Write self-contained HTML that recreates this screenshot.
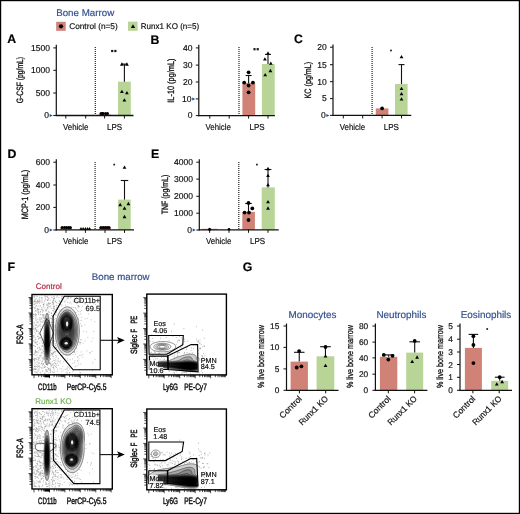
<!DOCTYPE html>
<html><head><meta charset="utf-8"><style>
html,body{margin:0;padding:0;background:#fff;}
svg{display:block;will-change:transform;}
text{font-family:"Liberation Sans", sans-serif;text-rendering:geometricPrecision;}
svg{-webkit-font-smoothing:antialiased;}
</style></head><body>
<svg width="520" height="514" viewBox="0 0 520 514">
<rect x="0" y="0" width="520" height="514" fill="#fff"/>
<text x="56.20" y="15.80" font-size="9.7" fill="#34508f" text-anchor="start" stroke="#34508f" stroke-width="0.18" textLength="58" lengthAdjust="spacingAndGlyphs" >Bone Marrow</text>
<rect x="56.20" y="21.80" width="9.50" height="9.00" fill="#cf8275" />
<circle cx="61.00" cy="26.30" r="2.1" fill="#000"/>
<text x="69.20" y="29.20" font-size="8.3" fill="#111" text-anchor="start" stroke="#111" stroke-width="0.18" textLength="48.5" lengthAdjust="spacingAndGlyphs" >Control (n=5)</text>
<rect x="128.00" y="21.60" width="9.60" height="9.20" fill="#b8d497" />
<path d="M130.85 28.07L135.15 28.07L133.00 24.33Z" fill="#000"/>
<text x="140.80" y="29.20" font-size="8.3" fill="#111" text-anchor="start" stroke="#111" stroke-width="0.18" textLength="58.4" lengthAdjust="spacingAndGlyphs" >Runx1 KO (n=5)</text>
<text x="7.20" y="43.00" font-size="12.3" fill="#000" text-anchor="start" stroke="#000" stroke-width="0.18" font-weight="bold" >A</text>
<text x="150.60" y="43.50" font-size="12.3" fill="#000" text-anchor="start" stroke="#000" stroke-width="0.18" font-weight="bold" >B</text>
<text x="294.00" y="43.30" font-size="12.3" fill="#000" text-anchor="start" stroke="#000" stroke-width="0.18" font-weight="bold" >C</text>
<text x="7.60" y="157.70" font-size="12.3" fill="#000" text-anchor="start" stroke="#000" stroke-width="0.18" font-weight="bold" >D</text>
<text x="151.00" y="157.70" font-size="12.3" fill="#000" text-anchor="start" stroke="#000" stroke-width="0.18" font-weight="bold" >E</text>
<text x="7.60" y="271.10" font-size="12.3" fill="#000" text-anchor="start" stroke="#000" stroke-width="0.18" font-weight="bold" >F</text>
<text x="242.80" y="271.40" font-size="12.3" fill="#000" text-anchor="start" stroke="#000" stroke-width="0.18" font-weight="bold" >G</text>
<rect x="98.20" y="114.50" width="12.80" height="1.00" fill="#cf8275" />
<rect x="118.00" y="81.70" width="12.80" height="33.80" fill="#b8d497" />
<line x1="124.40" y1="81.70" x2="124.40" y2="64.10" stroke="#111" stroke-width="1.1" />
<line x1="121.40" y1="64.10" x2="127.40" y2="64.10" stroke="#111" stroke-width="1.1" />
<line x1="56.30" y1="44.80" x2="56.30" y2="116.10" stroke="#111" stroke-width="1.2" />
<line x1="55.70" y1="115.50" x2="133.50" y2="115.50" stroke="#111" stroke-width="1.3" />
<line x1="53.30" y1="115.50" x2="56.30" y2="115.50" stroke="#111" stroke-width="1.0" />
<text x="49.10" y="118.30" font-size="8.6" fill="#111" text-anchor="end" stroke="#111" stroke-width="0.18" textLength="4.75" lengthAdjust="spacingAndGlyphs" >0</text>
<line x1="53.30" y1="93.00" x2="56.30" y2="93.00" stroke="#111" stroke-width="1.0" />
<text x="50.00" y="95.80" font-size="8.6" fill="#111" text-anchor="end" stroke="#111" stroke-width="0.18" textLength="14.25" lengthAdjust="spacingAndGlyphs" >500</text>
<line x1="53.30" y1="70.30" x2="56.30" y2="70.30" stroke="#111" stroke-width="1.0" />
<text x="50.00" y="73.10" font-size="8.6" fill="#111" text-anchor="end" stroke="#111" stroke-width="0.18" textLength="19.0" lengthAdjust="spacingAndGlyphs" >1000</text>
<line x1="53.30" y1="47.90" x2="56.30" y2="47.90" stroke="#111" stroke-width="1.0" />
<text x="50.00" y="50.70" font-size="8.6" fill="#111" text-anchor="end" stroke="#111" stroke-width="0.18" textLength="19.0" lengthAdjust="spacingAndGlyphs" >1500</text>
<line x1="65.80" y1="115.50" x2="65.80" y2="118.50" stroke="#111" stroke-width="1.0" />
<line x1="85.70" y1="115.50" x2="85.70" y2="118.50" stroke="#111" stroke-width="1.0" />
<line x1="104.60" y1="115.50" x2="104.60" y2="118.50" stroke="#111" stroke-width="1.0" />
<line x1="124.40" y1="115.50" x2="124.40" y2="118.50" stroke="#111" stroke-width="1.0" />
<line x1="95.30" y1="47.00" x2="95.30" y2="115.50" stroke="#222" stroke-width="1.2" stroke-dasharray="1 1"/>
<path d="M49.70 114.00L52.70 115.50L49.70 117.00Z" fill="#24479a"/>
<circle cx="101.00" cy="113.60" r="1.5" fill="#000"/>
<circle cx="103.00" cy="113.60" r="1.5" fill="#000"/>
<circle cx="105.50" cy="113.60" r="1.5" fill="#000"/>
<circle cx="107.50" cy="113.60" r="1.5" fill="#000"/>
<circle cx="102.50" cy="113.60" r="1.5" fill="#000"/>
<path d="M120.00 65.65L123.80 65.65L121.90 62.35Z" fill="#000"/>
<path d="M125.00 65.65L128.80 65.65L126.90 62.35Z" fill="#000"/>
<path d="M120.00 92.95L123.80 92.95L121.90 89.65Z" fill="#000"/>
<path d="M125.00 94.25L128.80 94.25L126.90 90.95Z" fill="#000"/>
<path d="M122.50 101.55L126.30 101.55L124.40 98.25Z" fill="#000"/>
<rect x="111.10" y="49.90" width="2.2" height="2.2" fill="#1a1a1a"/>
<rect x="114.30" y="49.90" width="2.2" height="2.2" fill="#1a1a1a"/>
<text x="75.70" y="129.80" font-size="8.7" fill="#111" text-anchor="middle" stroke="#111" stroke-width="0.18" textLength="25.4" lengthAdjust="spacingAndGlyphs" >Vehicle</text>
<text x="114.60" y="129.80" font-size="8.7" fill="#111" text-anchor="middle" stroke="#111" stroke-width="0.18" textLength="15.2" lengthAdjust="spacingAndGlyphs" >LPS</text>
<text x="23.50" y="80.10" font-size="9.2" fill="#111" text-anchor="middle" stroke="#111" stroke-width="0.3" textLength="46.4" lengthAdjust="spacingAndGlyphs" transform="rotate(-90 23.50 80.10)" >G-CSF (pg/mL)</text>
<rect x="242.40" y="82.90" width="12.80" height="32.70" fill="#cf8275" />
<rect x="261.90" y="64.00" width="12.80" height="51.60" fill="#b8d497" />
<line x1="248.60" y1="82.90" x2="248.60" y2="75.50" stroke="#111" stroke-width="1.1" />
<line x1="245.60" y1="75.50" x2="251.60" y2="75.50" stroke="#111" stroke-width="1.1" />
<line x1="268.00" y1="64.00" x2="268.00" y2="54.40" stroke="#111" stroke-width="1.1" />
<line x1="265.00" y1="54.40" x2="271.00" y2="54.40" stroke="#111" stroke-width="1.1" />
<line x1="198.80" y1="44.80" x2="198.80" y2="116.20" stroke="#111" stroke-width="1.2" />
<line x1="198.20" y1="115.60" x2="274.90" y2="115.60" stroke="#111" stroke-width="1.3" />
<line x1="195.80" y1="115.60" x2="198.80" y2="115.60" stroke="#111" stroke-width="1.0" />
<text x="192.50" y="118.40" font-size="8.6" fill="#111" text-anchor="end" stroke="#111" stroke-width="0.18" textLength="4.75" lengthAdjust="spacingAndGlyphs" >0</text>
<line x1="195.80" y1="98.90" x2="198.80" y2="98.90" stroke="#111" stroke-width="1.0" />
<text x="191.60" y="101.70" font-size="8.6" fill="#111" text-anchor="end" stroke="#111" stroke-width="0.18" textLength="9.5" lengthAdjust="spacingAndGlyphs" >10</text>
<line x1="195.80" y1="82.00" x2="198.80" y2="82.00" stroke="#111" stroke-width="1.0" />
<text x="192.50" y="84.80" font-size="8.6" fill="#111" text-anchor="end" stroke="#111" stroke-width="0.18" textLength="9.5" lengthAdjust="spacingAndGlyphs" >20</text>
<line x1="195.80" y1="65.10" x2="198.80" y2="65.10" stroke="#111" stroke-width="1.0" />
<text x="192.50" y="67.90" font-size="8.6" fill="#111" text-anchor="end" stroke="#111" stroke-width="0.18" textLength="9.5" lengthAdjust="spacingAndGlyphs" >30</text>
<line x1="195.80" y1="47.90" x2="198.80" y2="47.90" stroke="#111" stroke-width="1.0" />
<text x="192.50" y="50.70" font-size="8.6" fill="#111" text-anchor="end" stroke="#111" stroke-width="0.18" textLength="9.5" lengthAdjust="spacingAndGlyphs" >40</text>
<line x1="209.80" y1="115.60" x2="209.80" y2="118.60" stroke="#111" stroke-width="1.0" />
<line x1="229.20" y1="115.60" x2="229.20" y2="118.60" stroke="#111" stroke-width="1.0" />
<line x1="248.60" y1="115.60" x2="248.60" y2="118.60" stroke="#111" stroke-width="1.0" />
<line x1="268.00" y1="115.60" x2="268.00" y2="118.60" stroke="#111" stroke-width="1.0" />
<line x1="239.00" y1="47.00" x2="239.00" y2="115.60" stroke="#222" stroke-width="1.2" stroke-dasharray="1 1"/>
<path d="M192.20 97.40L195.20 98.90L192.20 100.40Z" fill="#24479a"/>
<circle cx="248.60" cy="72.30" r="1.9" fill="#000"/>
<circle cx="244.20" cy="82.60" r="1.9" fill="#000"/>
<circle cx="252.90" cy="82.60" r="1.9" fill="#000"/>
<circle cx="248.60" cy="85.50" r="1.9" fill="#000"/>
<circle cx="248.60" cy="92.30" r="1.9" fill="#000"/>
<path d="M266.10 54.65L269.90 54.65L268.00 51.35Z" fill="#000"/>
<path d="M263.00 60.55L266.80 60.55L264.90 57.25Z" fill="#000"/>
<path d="M268.90 64.75L272.70 64.75L270.80 61.45Z" fill="#000"/>
<path d="M268.50 72.15L272.30 72.15L270.40 68.85Z" fill="#000"/>
<path d="M263.30 76.35L267.10 76.35L265.20 73.05Z" fill="#000"/>
<rect x="253.40" y="48.10" width="2.2" height="2.2" fill="#1a1a1a"/>
<rect x="256.60" y="48.10" width="2.2" height="2.2" fill="#1a1a1a"/>
<text x="218.20" y="129.90" font-size="8.7" fill="#111" text-anchor="middle" stroke="#111" stroke-width="0.18" textLength="25.4" lengthAdjust="spacingAndGlyphs" >Vehicle</text>
<text x="257.10" y="129.90" font-size="8.7" fill="#111" text-anchor="middle" stroke="#111" stroke-width="0.18" textLength="15.2" lengthAdjust="spacingAndGlyphs" >LPS</text>
<text x="173.70" y="80.60" font-size="9.2" fill="#111" text-anchor="middle" stroke="#111" stroke-width="0.3" textLength="44.2" lengthAdjust="spacingAndGlyphs" transform="rotate(-90 173.70 80.60)" >IL-10 (pg/mL)</text>
<rect x="375.80" y="108.40" width="12.60" height="7.00" fill="#cf8275" />
<rect x="395.00" y="84.00" width="12.60" height="31.40" fill="#b8d497" />
<line x1="401.50" y1="84.00" x2="401.50" y2="64.60" stroke="#111" stroke-width="1.1" />
<line x1="398.50" y1="64.60" x2="404.50" y2="64.60" stroke="#111" stroke-width="1.1" />
<line x1="333.00" y1="44.60" x2="333.00" y2="116.00" stroke="#111" stroke-width="1.2" />
<line x1="332.40" y1="115.40" x2="411.30" y2="115.40" stroke="#111" stroke-width="1.3" />
<line x1="330.00" y1="115.40" x2="333.00" y2="115.40" stroke="#111" stroke-width="1.0" />
<text x="325.80" y="118.20" font-size="8.6" fill="#111" text-anchor="end" stroke="#111" stroke-width="0.18" textLength="4.75" lengthAdjust="spacingAndGlyphs" >0</text>
<line x1="330.00" y1="98.60" x2="333.00" y2="98.60" stroke="#111" stroke-width="1.0" />
<text x="326.70" y="101.40" font-size="8.6" fill="#111" text-anchor="end" stroke="#111" stroke-width="0.18" textLength="4.75" lengthAdjust="spacingAndGlyphs" >5</text>
<line x1="330.00" y1="81.70" x2="333.00" y2="81.70" stroke="#111" stroke-width="1.0" />
<text x="326.70" y="84.50" font-size="8.6" fill="#111" text-anchor="end" stroke="#111" stroke-width="0.18" textLength="9.5" lengthAdjust="spacingAndGlyphs" >10</text>
<line x1="330.00" y1="64.70" x2="333.00" y2="64.70" stroke="#111" stroke-width="1.0" />
<text x="326.70" y="67.50" font-size="8.6" fill="#111" text-anchor="end" stroke="#111" stroke-width="0.18" textLength="9.5" lengthAdjust="spacingAndGlyphs" >15</text>
<line x1="330.00" y1="47.20" x2="333.00" y2="47.20" stroke="#111" stroke-width="1.0" />
<text x="326.70" y="50.00" font-size="8.6" fill="#111" text-anchor="end" stroke="#111" stroke-width="0.18" textLength="9.5" lengthAdjust="spacingAndGlyphs" >20</text>
<line x1="343.30" y1="115.40" x2="343.30" y2="118.40" stroke="#111" stroke-width="1.0" />
<line x1="362.70" y1="115.40" x2="362.70" y2="118.40" stroke="#111" stroke-width="1.0" />
<line x1="382.10" y1="115.40" x2="382.10" y2="118.40" stroke="#111" stroke-width="1.0" />
<line x1="401.50" y1="115.40" x2="401.50" y2="118.40" stroke="#111" stroke-width="1.0" />
<line x1="372.10" y1="47.00" x2="372.10" y2="115.40" stroke="#222" stroke-width="1.2" stroke-dasharray="1 1"/>
<path d="M326.40 113.90L329.40 115.40L326.40 116.90Z" fill="#24479a"/>
<circle cx="382.10" cy="108.40" r="1.9" fill="#000"/>
<path d="M399.60 58.25L403.40 58.25L401.50 54.95Z" fill="#000"/>
<path d="M399.60 90.05L403.40 90.05L401.50 86.75Z" fill="#000"/>
<path d="M399.60 95.25L403.40 95.25L401.50 91.95Z" fill="#000"/>
<path d="M399.60 100.45L403.40 100.45L401.50 97.15Z" fill="#000"/>
<rect x="390.15" y="49.65" width="1.7" height="1.7" fill="#1a1a1a"/>
<text x="352.40" y="129.70" font-size="8.7" fill="#111" text-anchor="middle" stroke="#111" stroke-width="0.18" textLength="25.4" lengthAdjust="spacingAndGlyphs" >Vehicle</text>
<text x="391.30" y="129.70" font-size="8.7" fill="#111" text-anchor="middle" stroke="#111" stroke-width="0.18" textLength="15.2" lengthAdjust="spacingAndGlyphs" >LPS</text>
<text x="311.00" y="80.10" font-size="9.2" fill="#111" text-anchor="middle" stroke="#111" stroke-width="0.3" textLength="36.6" lengthAdjust="spacingAndGlyphs" transform="rotate(-90 311.00 80.10)" >KC (pg/mL)</text>
<rect x="60.20" y="227.20" width="11.80" height="2.70" fill="#cf8275" />
<rect x="79.50" y="228.40" width="11.50" height="1.50" fill="#b8d497" />
<rect x="99.00" y="227.00" width="12.00" height="2.90" fill="#cf8275" />
<rect x="118.10" y="199.60" width="12.60" height="30.30" fill="#b8d497" />
<line x1="124.50" y1="199.60" x2="124.50" y2="180.50" stroke="#111" stroke-width="1.1" />
<line x1="120.75" y1="180.50" x2="128.25" y2="180.50" stroke="#111" stroke-width="1.1" />
<line x1="56.30" y1="159.20" x2="56.30" y2="230.50" stroke="#111" stroke-width="1.2" />
<line x1="55.70" y1="229.90" x2="134.00" y2="229.90" stroke="#111" stroke-width="1.3" />
<line x1="53.30" y1="230.00" x2="56.30" y2="230.00" stroke="#111" stroke-width="1.0" />
<text x="49.10" y="232.80" font-size="8.6" fill="#111" text-anchor="end" stroke="#111" stroke-width="0.18" textLength="4.75" lengthAdjust="spacingAndGlyphs" >0</text>
<line x1="53.30" y1="207.40" x2="56.30" y2="207.40" stroke="#111" stroke-width="1.0" />
<text x="50.00" y="210.20" font-size="8.6" fill="#111" text-anchor="end" stroke="#111" stroke-width="0.18" textLength="14.25" lengthAdjust="spacingAndGlyphs" >200</text>
<line x1="53.30" y1="185.00" x2="56.30" y2="185.00" stroke="#111" stroke-width="1.0" />
<text x="50.00" y="187.80" font-size="8.6" fill="#111" text-anchor="end" stroke="#111" stroke-width="0.18" textLength="14.25" lengthAdjust="spacingAndGlyphs" >400</text>
<line x1="53.30" y1="162.20" x2="56.30" y2="162.20" stroke="#111" stroke-width="1.0" />
<text x="50.00" y="165.00" font-size="8.6" fill="#111" text-anchor="end" stroke="#111" stroke-width="0.18" textLength="14.25" lengthAdjust="spacingAndGlyphs" >600</text>
<line x1="66.00" y1="229.90" x2="66.00" y2="232.90" stroke="#111" stroke-width="1.0" />
<line x1="85.40" y1="229.90" x2="85.40" y2="232.90" stroke="#111" stroke-width="1.0" />
<line x1="105.00" y1="229.90" x2="105.00" y2="232.90" stroke="#111" stroke-width="1.0" />
<line x1="124.50" y1="229.90" x2="124.50" y2="232.90" stroke="#111" stroke-width="1.0" />
<line x1="95.10" y1="162.00" x2="95.10" y2="229.90" stroke="#222" stroke-width="1.2" stroke-dasharray="1 1"/>
<path d="M49.70 228.50L52.70 230.00L49.70 231.50Z" fill="#24479a"/>
<circle cx="62.20" cy="227.60" r="1.5" fill="#000"/>
<circle cx="64.50" cy="227.60" r="1.5" fill="#000"/>
<circle cx="66.50" cy="227.60" r="1.5" fill="#000"/>
<circle cx="68.50" cy="227.60" r="1.5" fill="#000"/>
<circle cx="70.30" cy="227.60" r="1.5" fill="#000"/>
<path d="M79.50 229.71L82.50 229.71L81.00 227.09Z" fill="#000"/>
<path d="M81.70 229.71L84.70 229.71L83.20 227.09Z" fill="#000"/>
<path d="M83.90 229.71L86.90 229.71L85.40 227.09Z" fill="#000"/>
<path d="M86.10 229.71L89.10 229.71L87.60 227.09Z" fill="#000"/>
<path d="M88.10 229.71L91.10 229.71L89.60 227.09Z" fill="#000"/>
<circle cx="101.00" cy="227.40" r="1.5" fill="#000"/>
<circle cx="103.20" cy="227.40" r="1.5" fill="#000"/>
<circle cx="105.20" cy="227.40" r="1.5" fill="#000"/>
<circle cx="107.20" cy="227.40" r="1.5" fill="#000"/>
<circle cx="109.00" cy="227.40" r="1.5" fill="#000"/>
<path d="M122.60 168.75L126.40 168.75L124.50 165.45Z" fill="#000"/>
<path d="M118.30 206.15L122.10 206.15L120.20 202.85Z" fill="#000"/>
<path d="M126.50 205.15L130.30 205.15L128.40 201.85Z" fill="#000"/>
<path d="M122.60 209.65L126.40 209.65L124.50 206.35Z" fill="#000"/>
<path d="M122.60 218.15L126.40 218.15L124.50 214.85Z" fill="#000"/>
<rect x="113.35" y="163.75" width="1.7" height="1.7" fill="#1a1a1a"/>
<text x="75.70" y="244.20" font-size="8.7" fill="#111" text-anchor="middle" stroke="#111" stroke-width="0.18" textLength="25.4" lengthAdjust="spacingAndGlyphs" >Vehicle</text>
<text x="114.60" y="244.20" font-size="8.7" fill="#111" text-anchor="middle" stroke="#111" stroke-width="0.18" textLength="15.2" lengthAdjust="spacingAndGlyphs" >LPS</text>
<text x="27.90" y="194.50" font-size="9.2" fill="#111" text-anchor="middle" stroke="#111" stroke-width="0.3" textLength="49.6" lengthAdjust="spacingAndGlyphs" transform="rotate(-90 27.90 194.50)" >MCP-1 (pg/mL)</text>
<rect x="201.80" y="228.80" width="15.60" height="1.00" fill="#cf8275" />
<rect x="242.30" y="211.90" width="12.60" height="17.90" fill="#cf8275" />
<rect x="261.70" y="187.40" width="13.10" height="42.40" fill="#b8d497" />
<line x1="248.50" y1="211.90" x2="248.50" y2="203.50" stroke="#111" stroke-width="1.1" />
<line x1="245.20" y1="203.50" x2="251.80" y2="203.50" stroke="#111" stroke-width="1.1" />
<line x1="268.00" y1="187.40" x2="268.00" y2="169.50" stroke="#111" stroke-width="1.1" />
<line x1="264.60" y1="169.50" x2="271.40" y2="169.50" stroke="#111" stroke-width="1.1" />
<line x1="199.30" y1="159.20" x2="199.30" y2="230.40" stroke="#111" stroke-width="1.2" />
<line x1="198.70" y1="229.80" x2="278.70" y2="229.80" stroke="#111" stroke-width="1.3" />
<line x1="196.30" y1="230.00" x2="199.30" y2="230.00" stroke="#111" stroke-width="1.0" />
<text x="192.10" y="232.80" font-size="8.6" fill="#111" text-anchor="end" stroke="#111" stroke-width="0.18" textLength="4.75" lengthAdjust="spacingAndGlyphs" >0</text>
<line x1="196.30" y1="213.20" x2="199.30" y2="213.20" stroke="#111" stroke-width="1.0" />
<text x="193.00" y="216.00" font-size="8.6" fill="#111" text-anchor="end" stroke="#111" stroke-width="0.18" textLength="19.0" lengthAdjust="spacingAndGlyphs" >1000</text>
<line x1="196.30" y1="196.30" x2="199.30" y2="196.30" stroke="#111" stroke-width="1.0" />
<text x="193.00" y="199.10" font-size="8.6" fill="#111" text-anchor="end" stroke="#111" stroke-width="0.18" textLength="19.0" lengthAdjust="spacingAndGlyphs" >2000</text>
<line x1="196.30" y1="179.10" x2="199.30" y2="179.10" stroke="#111" stroke-width="1.0" />
<text x="193.00" y="181.90" font-size="8.6" fill="#111" text-anchor="end" stroke="#111" stroke-width="0.18" textLength="19.0" lengthAdjust="spacingAndGlyphs" >3000</text>
<line x1="196.30" y1="162.20" x2="199.30" y2="162.20" stroke="#111" stroke-width="1.0" />
<text x="193.00" y="165.00" font-size="8.6" fill="#111" text-anchor="end" stroke="#111" stroke-width="0.18" textLength="19.0" lengthAdjust="spacingAndGlyphs" >4000</text>
<line x1="209.60" y1="229.80" x2="209.60" y2="232.80" stroke="#111" stroke-width="1.0" />
<line x1="229.00" y1="229.80" x2="229.00" y2="232.80" stroke="#111" stroke-width="1.0" />
<line x1="248.50" y1="229.80" x2="248.50" y2="232.80" stroke="#111" stroke-width="1.0" />
<line x1="268.00" y1="229.80" x2="268.00" y2="232.80" stroke="#111" stroke-width="1.0" />
<line x1="238.80" y1="162.00" x2="238.80" y2="229.80" stroke="#222" stroke-width="1.2" stroke-dasharray="1 1"/>
<path d="M192.70 228.50L195.70 230.00L192.70 231.50Z" fill="#24479a"/>
<circle cx="209.60" cy="229.30" r="1.5" fill="#000"/>
<circle cx="229.00" cy="229.30" r="1.3" fill="#000"/>
<circle cx="248.50" cy="202.90" r="1.9" fill="#000"/>
<circle cx="252.30" cy="208.40" r="1.9" fill="#000"/>
<circle cx="244.60" cy="212.60" r="1.9" fill="#000"/>
<circle cx="249.00" cy="212.60" r="1.9" fill="#000"/>
<circle cx="248.50" cy="220.00" r="1.9" fill="#000"/>
<path d="M266.10 170.15L269.90 170.15L268.00 166.85Z" fill="#000"/>
<path d="M266.10 176.95L269.90 176.95L268.00 173.65Z" fill="#000"/>
<path d="M266.10 186.25L269.90 186.25L268.00 182.95Z" fill="#000"/>
<path d="M266.10 203.25L269.90 203.25L268.00 199.95Z" fill="#000"/>
<path d="M266.10 209.65L269.90 209.65L268.00 206.35Z" fill="#000"/>
<rect x="256.05" y="163.75" width="1.7" height="1.7" fill="#1a1a1a"/>
<text x="218.70" y="244.10" font-size="8.7" fill="#111" text-anchor="middle" stroke="#111" stroke-width="0.18" textLength="25.4" lengthAdjust="spacingAndGlyphs" >Vehicle</text>
<text x="257.60" y="244.10" font-size="8.7" fill="#111" text-anchor="middle" stroke="#111" stroke-width="0.18" textLength="15.2" lengthAdjust="spacingAndGlyphs" >LPS</text>
<text x="167.60" y="194.50" font-size="9.2" fill="#111" text-anchor="middle" stroke="#111" stroke-width="0.3" textLength="39.5" lengthAdjust="spacingAndGlyphs" transform="rotate(-90 167.60 194.50)" >TNF (pg/mL)</text>
<rect x="290.60" y="361.60" width="17.30" height="28.70" fill="#cf8275" />
<rect x="316.60" y="356.30" width="17.70" height="34.00" fill="#b8d497" />
<line x1="299.25" y1="361.60" x2="299.25" y2="352.30" stroke="#111" stroke-width="1.1" />
<line x1="294.00" y1="352.30" x2="304.50" y2="352.30" stroke="#111" stroke-width="1.1" />
<line x1="325.45" y1="356.30" x2="325.45" y2="346.70" stroke="#111" stroke-width="1.1" />
<line x1="320.15" y1="346.70" x2="330.75" y2="346.70" stroke="#111" stroke-width="1.1" />
<line x1="286.50" y1="323.50" x2="286.50" y2="390.90" stroke="#111" stroke-width="1.2" />
<line x1="285.90" y1="390.30" x2="338.50" y2="390.30" stroke="#111" stroke-width="1.3" />
<line x1="283.50" y1="390.30" x2="286.50" y2="390.30" stroke="#111" stroke-width="1.0" />
<text x="279.30" y="393.30" font-size="8.3" fill="#111" text-anchor="end" stroke="#111" stroke-width="0.18" >0</text>
<line x1="283.50" y1="368.90" x2="286.50" y2="368.90" stroke="#111" stroke-width="1.0" />
<text x="279.30" y="371.90" font-size="8.3" fill="#111" text-anchor="end" stroke="#111" stroke-width="0.18" >5</text>
<line x1="283.50" y1="347.40" x2="286.50" y2="347.40" stroke="#111" stroke-width="1.0" />
<text x="279.30" y="350.40" font-size="8.3" fill="#111" text-anchor="end" stroke="#111" stroke-width="0.18" >10</text>
<line x1="283.50" y1="326.00" x2="286.50" y2="326.00" stroke="#111" stroke-width="1.0" />
<text x="279.30" y="329.00" font-size="8.3" fill="#111" text-anchor="end" stroke="#111" stroke-width="0.18" >15</text>
<line x1="299.40" y1="390.30" x2="299.40" y2="393.30" stroke="#111" stroke-width="1.0" />
<line x1="325.70" y1="390.30" x2="325.70" y2="393.30" stroke="#111" stroke-width="1.0" />
<circle cx="299.10" cy="351.10" r="1.9" fill="#000"/>
<circle cx="296.70" cy="367.50" r="1.9" fill="#000"/>
<circle cx="301.40" cy="366.30" r="1.9" fill="#000"/>
<path d="M323.60 357.45L327.40 357.45L325.50 354.15Z" fill="#000"/>
<path d="M323.60 367.05L327.40 367.05L325.50 363.75Z" fill="#000"/>
<circle cx="325.50" cy="347.00" r="1.9" fill="#000"/>
<text x="312.50" y="317.60" font-size="9.9" fill="#34508f" text-anchor="middle" stroke="#34508f" stroke-width="0.18" >Monocytes</text>
<text x="263.80" y="356.60" font-size="8.99" fill="#111" text-anchor="middle" stroke="#111" stroke-width="0.3" textLength="63" lengthAdjust="spacingAndGlyphs" transform="rotate(-90 263.80 356.60)" >% live bone marrow</text>
<text x="302.40" y="399.30" font-size="8.6" fill="#111" text-anchor="end" stroke="#111" stroke-width="0.18" textLength="27.7" lengthAdjust="spacingAndGlyphs" transform="rotate(-45 302.40 399.30)" >Control</text>
<text x="328.70" y="399.30" font-size="8.6" fill="#111" text-anchor="end" stroke="#111" stroke-width="0.18" textLength="37.5" lengthAdjust="spacingAndGlyphs" transform="rotate(-45 328.70 399.30)" >Runx1 KO</text>
<rect x="379.90" y="356.80" width="17.40" height="33.50" fill="#cf8275" />
<rect x="406.20" y="352.60" width="17.00" height="37.70" fill="#b8d497" />
<line x1="388.60" y1="356.80" x2="388.60" y2="354.90" stroke="#111" stroke-width="1.1" />
<line x1="383.05" y1="354.90" x2="394.15" y2="354.90" stroke="#111" stroke-width="1.1" />
<line x1="414.70" y1="352.60" x2="414.70" y2="341.80" stroke="#111" stroke-width="1.1" />
<line x1="409.45" y1="341.80" x2="419.95" y2="341.80" stroke="#111" stroke-width="1.1" />
<line x1="375.40" y1="323.50" x2="375.40" y2="390.90" stroke="#111" stroke-width="1.2" />
<line x1="374.80" y1="390.30" x2="427.40" y2="390.30" stroke="#111" stroke-width="1.3" />
<line x1="372.40" y1="390.30" x2="375.40" y2="390.30" stroke="#111" stroke-width="1.0" />
<text x="368.20" y="393.30" font-size="8.3" fill="#111" text-anchor="end" stroke="#111" stroke-width="0.18" >0</text>
<line x1="372.40" y1="374.20" x2="375.40" y2="374.20" stroke="#111" stroke-width="1.0" />
<text x="368.20" y="377.20" font-size="8.3" fill="#111" text-anchor="end" stroke="#111" stroke-width="0.18" >20</text>
<line x1="372.40" y1="357.90" x2="375.40" y2="357.90" stroke="#111" stroke-width="1.0" />
<text x="368.20" y="360.90" font-size="8.3" fill="#111" text-anchor="end" stroke="#111" stroke-width="0.18" >40</text>
<line x1="372.40" y1="342.10" x2="375.40" y2="342.10" stroke="#111" stroke-width="1.0" />
<text x="368.20" y="345.10" font-size="8.3" fill="#111" text-anchor="end" stroke="#111" stroke-width="0.18" >60</text>
<line x1="372.40" y1="326.00" x2="375.40" y2="326.00" stroke="#111" stroke-width="1.0" />
<text x="368.20" y="329.00" font-size="8.3" fill="#111" text-anchor="end" stroke="#111" stroke-width="0.18" >80</text>
<line x1="388.30" y1="390.30" x2="388.30" y2="393.30" stroke="#111" stroke-width="1.0" />
<line x1="414.60" y1="390.30" x2="414.60" y2="393.30" stroke="#111" stroke-width="1.0" />
<circle cx="383.80" cy="354.90" r="1.9" fill="#000"/>
<circle cx="392.50" cy="355.80" r="1.9" fill="#000"/>
<circle cx="388.30" cy="359.60" r="1.9" fill="#000"/>
<path d="M415.20 358.65L419.00 358.65L417.10 355.35Z" fill="#000"/>
<path d="M410.30 363.05L414.10 363.05L412.20 359.75Z" fill="#000"/>
<circle cx="414.70" cy="340.90" r="1.9" fill="#000"/>
<text x="401.40" y="317.60" font-size="9.9" fill="#34508f" text-anchor="middle" stroke="#34508f" stroke-width="0.18" >Neutrophils</text>
<text x="353.40" y="356.60" font-size="8.99" fill="#111" text-anchor="middle" stroke="#111" stroke-width="0.3" textLength="63" lengthAdjust="spacingAndGlyphs" transform="rotate(-90 353.40 356.60)" >% live bone marrow</text>
<text x="391.30" y="399.30" font-size="8.6" fill="#111" text-anchor="end" stroke="#111" stroke-width="0.18" textLength="27.7" lengthAdjust="spacingAndGlyphs" transform="rotate(-45 391.30 399.30)" >Control</text>
<text x="417.60" y="399.30" font-size="8.6" fill="#111" text-anchor="end" stroke="#111" stroke-width="0.18" textLength="37.5" lengthAdjust="spacingAndGlyphs" transform="rotate(-45 417.60 399.30)" >Runx1 KO</text>
<rect x="464.90" y="347.90" width="17.00" height="42.40" fill="#cf8275" />
<rect x="491.20" y="380.80" width="17.00" height="9.50" fill="#b8d497" />
<line x1="473.40" y1="347.90" x2="473.40" y2="334.40" stroke="#111" stroke-width="1.1" />
<line x1="468.65" y1="334.40" x2="478.15" y2="334.40" stroke="#111" stroke-width="1.1" />
<line x1="499.70" y1="380.80" x2="499.70" y2="377.20" stroke="#111" stroke-width="1.1" />
<line x1="494.85" y1="377.20" x2="504.55" y2="377.20" stroke="#111" stroke-width="1.1" />
<line x1="460.00" y1="323.50" x2="460.00" y2="390.90" stroke="#111" stroke-width="1.2" />
<line x1="459.40" y1="390.30" x2="512.00" y2="390.30" stroke="#111" stroke-width="1.3" />
<line x1="457.00" y1="390.30" x2="460.00" y2="390.30" stroke="#111" stroke-width="1.0" />
<text x="452.80" y="393.30" font-size="8.3" fill="#111" text-anchor="end" stroke="#111" stroke-width="0.18" >0</text>
<line x1="457.00" y1="377.30" x2="460.00" y2="377.30" stroke="#111" stroke-width="1.0" />
<text x="452.80" y="380.30" font-size="8.3" fill="#111" text-anchor="end" stroke="#111" stroke-width="0.18" >1</text>
<line x1="457.00" y1="364.50" x2="460.00" y2="364.50" stroke="#111" stroke-width="1.0" />
<text x="452.80" y="367.50" font-size="8.3" fill="#111" text-anchor="end" stroke="#111" stroke-width="0.18" >2</text>
<line x1="457.00" y1="352.00" x2="460.00" y2="352.00" stroke="#111" stroke-width="1.0" />
<text x="452.80" y="355.00" font-size="8.3" fill="#111" text-anchor="end" stroke="#111" stroke-width="0.18" >3</text>
<line x1="457.00" y1="339.20" x2="460.00" y2="339.20" stroke="#111" stroke-width="1.0" />
<text x="452.80" y="342.20" font-size="8.3" fill="#111" text-anchor="end" stroke="#111" stroke-width="0.18" >4</text>
<line x1="457.00" y1="326.00" x2="460.00" y2="326.00" stroke="#111" stroke-width="1.0" />
<text x="452.80" y="329.00" font-size="8.3" fill="#111" text-anchor="end" stroke="#111" stroke-width="0.18" >5</text>
<line x1="472.90" y1="390.30" x2="472.90" y2="393.30" stroke="#111" stroke-width="1.0" />
<line x1="499.20" y1="390.30" x2="499.20" y2="393.30" stroke="#111" stroke-width="1.0" />
<circle cx="473.40" cy="336.20" r="1.9" fill="#000"/>
<circle cx="473.40" cy="344.90" r="1.9" fill="#000"/>
<circle cx="473.40" cy="363.10" r="1.9" fill="#000"/>
<path d="M494.90 385.45L498.70 385.45L496.80 382.15Z" fill="#000"/>
<path d="M500.20 383.15L504.00 383.15L502.10 379.85Z" fill="#000"/>
<circle cx="499.70" cy="377.20" r="1.9" fill="#000"/>
<rect x="486.35" y="328.15" width="1.7" height="1.7" fill="#1a1a1a"/>
<text x="486.00" y="317.60" font-size="9.9" fill="#34508f" text-anchor="middle" stroke="#34508f" stroke-width="0.18" >Eosinophils</text>
<text x="443.20" y="356.60" font-size="8.99" fill="#111" text-anchor="middle" stroke="#111" stroke-width="0.3" textLength="63" lengthAdjust="spacingAndGlyphs" transform="rotate(-90 443.20 356.60)" >% live bone marrow</text>
<text x="475.90" y="399.30" font-size="8.6" fill="#111" text-anchor="end" stroke="#111" stroke-width="0.18" textLength="27.7" lengthAdjust="spacingAndGlyphs" transform="rotate(-45 475.90 399.30)" >Control</text>
<text x="502.20" y="399.30" font-size="8.6" fill="#111" text-anchor="end" stroke="#111" stroke-width="0.18" textLength="37.5" lengthAdjust="spacingAndGlyphs" transform="rotate(-45 502.20 399.30)" >Runx1 KO</text>
<text x="91.80" y="279.90" font-size="9.6" fill="#34508f" text-anchor="start" stroke="#34508f" stroke-width="0.18" textLength="57.8" lengthAdjust="spacingAndGlyphs" >Bone marrow</text>
<text x="35.70" y="288.80" font-size="8.1" fill="#b8223f" text-anchor="start" stroke="#b8223f" stroke-width="0.18" textLength="26.1" lengthAdjust="spacingAndGlyphs" >Control</text>
<path d="M47 318C45 323 42 328 39.8 333C42 338 44.5 344 46.5 350M48.5 320C50 325 52 329 53.5 333C52 338 50 342 48.5 347" fill="none" stroke="#111" stroke-width="0.7"/>
<path d="M47.3 365.1l-.5-.1-.4-.4-.3-.6-.2-.4-.1-.6-.2-.7-.2-.5-.1-.7-.1-.6-.1-.7-.1-.5-.1-.8-.1-.5-.1-.7-.1-.8-.1-.7 0-.5-.1-.8 0-.7-.1-.8 0-.4-.1-.8 0-.8-.1-.7 0-.8 0-.7 0-.8-.1-.4 0-.8 0-.8 0-.7 0-.8-.1-.7 0-.8 0-.7 0-.8 0-.7 0-.8 0-.7 .1-.8 0-.7 0-.8 0-.7 0-.8 0-.7 .1-.5 0-.8 0-.7 0-.8 .1-.7 0-.8 0-.7 .1-.8 0-.4 0-.8 .1-.8 0-.7 .1-.8 0-.7 .1-.5 0-.8 .1-.7 .1-.8 0-.4 .1-.8 .1-.8 .1-.4 .1-.8 .1-.8 .1-.4 .1-.8 .1-.5 .2-.8 .1-.4 .2-.6 .2-.5 .2-.5 .5-.4 .5 .2 .3 .5 .2 .5 .3 .8 .1 .4 .1 .7 .2 .6 .1 .6 .1 .7 .1 .7 .1 .5 .1 .8 .1 .7 0 .5 .1 .8 .1 .7 0 .8 .1 .4 .1 .8 0 .8 .1 .7 0 .6 0 .7 .1 .7 0 .8 .1 .7 0 .8 0 .7 .1 .5 0 .8 0 .7 0 .8 .1 .7 0 .8 0 .7 0 .8 0 .7 0 .8 .1 .7 0 .8 0 .7 0 .8 0 .7 0 .8 0 .7-.1 .8 0 .7 0 .8 0 .7 0 .8 0 .7-.1 .8 0 .7-.1 .6 0 .7 0 .7-.1 .8 0 .7-.1 .8 0 .4-.1 .8-.1 .8-.1 .7 0 .5-.1 .8-.1 .6-.1 .6-.1 .8-.1 .4-.1 .8-.1 .5-.2 .8-.2 .4-.1 .6-.2 .5-.3 .5-.5 .4z" fill="#000" fill-opacity="0.300" stroke="#000" stroke-width="0.4" stroke-opacity="1.0"/>
<path d="M47.3 359.6l-.5-.1-.3-.4-.2-.6-.2-.6-.2-.6-.1-.5-.2-.8-.1-.5-.1-.7-.1-.8 0-.4-.1-.8-.1-.8 0-.7-.1-.5 0-.8-.1-.7 0-.8-.1-.7 0-.6 0-.6-.1-.8 0-.8 0-.7 0-.8 0-.7 0-.8 0-.7 0-.8 0-.7 0-.8 0-.7 0-.8 0-.7 0-.8 .1-.7 0-.8 0-.4 0-.8 .1-.8 0-.7 0-.8 .1-.7 0-.8 .1-.4 0-.8 .1-.8 0-.7 .1-.6 .1-.6 0-.8 .1-.8 .1-.4 .1-.8 .1-.5 .1-.8 .1-.5 .2-.7 .2-.5 .2-.5 .4-.5 .5 .4 .3 .6 .2 .5 .1 .5 .2 .8 .1 .4 .1 .8 .1 .5 .1 .8 .1 .7 0 .5 .1 .8 .1 .7 0 .8 .1 .4 0 .8 .1 .8 0 .7 .1 .8 0 .7 0 .5 .1 .8 0 .7 0 .8 0 .7 .1 .8 0 .7 0 .8 0 .7 0 .8 0 .7 0 .8 0 .7 0 .8 0 .7 0 .8 0 .7 0 .8 0 .7-.1 .8 0 .7 0 .8-.1 .7 0 .5-.1 .8 0 .7-.1 .8 0 .7-.1 .5-.1 .8-.1 .7 0 .5-.1 .8-.2 .5-.1 .7-.1 .5-.2 .8-.2 .4-.2 .6-.4 .4z" fill="#000" fill-opacity="0.300" stroke="#000" stroke-width="0.4" stroke-opacity="1.0"/>
<path d="M47.3 356.7l-.5-.1-.3-.6-.2-.4-.2-.8-.1-.5-.2-.8 0-.4-.1-.8-.1-.8-.1-.4-.1-.8 0-.8-.1-.7 0-.5-.1-.8 0-.7 0-.8-.1-.7 0-.8 0-.7 0-.8 0-.7 0-.8 0-.7 0-.8 0-.7 0-.8 0-.7 0-.8 0-.7 0-.8 .1-.7 0-.8 0-.7 .1-.8 0-.6 0-.6 .1-.8 0-.7 .1-.8 0-.5 .1-.7 .1-.8 .1-.7 .1-.5 .1-.8 .1-.4 .1-.8 .1-.5 .2-.7 .3-.5 .5-.1 .2 .4 .3 .6 .1 .6 .2 .4 .1 .8 .1 .7 .1 .6 .1 .7 0 .7 .1 .6 .1 .7 0 .8 .1 .7 0 .5 .1 .8 0 .7 .1 .8 0 .7 0 .8 0 .5 .1 .7 0 .8 0 .7 0 .8 0 .7 0 .8 .1 .7 0 .8-.1 .7 0 .8 0 .7 0 .8 0 .7 0 .8-.1 .4 0 .8 0 .8-.1 .7 0 .8-.1 .7 0 .5-.1 .8-.1 .7-.1 .5-.1 .8-.1 .7-.1 .5-.2 .7-.1 .6-.2 .4-.3 .6z" fill="#000" fill-opacity="0.300" stroke="#000" stroke-width="0.4" stroke-opacity="1.0"/>
<path d="M47.3 354.4l-.5-.1-.3-.5-.2-.8-.1-.4-.2-.7 0-.6-.1-.8-.1-.4-.1-.8-.1-.8 0-.7-.1-.5 0-.8 0-.7-.1-.8 0-.7 0-.8 0-.7 0-.8-.1-.7 0-.8 0-.7 0-.8 .1-.7 0-.8 0-.7 0-.8 0-.7 .1-.8 0-.7 0-.8 .1-.4 0-.8 .1-.8 0-.7 .1-.6 .1-.6 .1-.8 0-.7 .1-.6 .2-.7 .1-.5 .1-.6 .3-.6 .5-.1 .2 .4 .3 .7 .1 .4 .1 .8 .1 .5 .1 .8 .1 .7 .1 .5 0 .8 .1 .7 0 .7 .1 .6 0 .7 .1 .8 0 .7 0 .8 .1 .7 0 .8 0 .4 0 .8 0 .8 .1 .7 0 .8 0 .7 0 .8-.1 .7 0 .8 0 .7 0 .5 0 .8-.1 .7 0 .8 0 .7-.1 .8-.1 .5 0 .7-.1 .8-.1 .7-.1 .5-.1 .8-.1 .4-.2 .8-.1 .5-.3 .5z" fill="#000" fill-opacity="0.300" stroke="#000" stroke-width="0.4" stroke-opacity="1.0"/>
<path d="M47.0 352.6l-.2-.3-.3-.5-.1-.8-.2-.4-.1-.8-.1-.5 0-.8-.1-.7-.1-.8 0-.4-.1-.8 0-.8 0-.7-.1-.8 0-.7 0-.8 0-.7 0-.8 0-.7 0-.8 0-.7 0-.8 0-.7 .1-.8 0-.7 0-.8 .1-.7 0-.5 .1-.8 0-.7 .1-.8 0-.6 .1-.6 .1-.8 .1-.5 .2-.7 .1-.5 .2-.6 .5-.2 .2 .6 .2 .4 .1 .6 .1 .7 .1 .7 .1 .6 .1 .7 .1 .8 0 .4 .1 .8 0 .8 .1 .7 0 .8 0 .7 0 .7 .1 .6 0 .7 0 .8 0 .7 0 .8 0 .7 0 .8 0 .7 0 .8 0 .7-.1 .5 0 .8 0 .7-.1 .8 0 .7-.1 .7-.1 .6 0 .7-.2 .7 0 .6-.2 .7-.2 .5-.2 .5-.4 .3z" fill="#000" fill-opacity="0.300" stroke="#000" stroke-width="0.4" stroke-opacity="1.0"/>
<path d="M47.3 350.7l-.5-.2-.2-.7-.2-.5-.1-.7-.1-.6-.1-.7 0-.8-.1-.4 0-.8-.1-.8 0-.7 0-.8-.1-.7 0-.8 0-.7 0-.8 0-.7 0-.8 0-.7 .1-.8 0-.7 0-.8 .1-.7 0-.8 0-.5 .1-.7 .1-.8 .1-.7 0-.5 .2-.8 0-.5 .3-.7 .2-.4 .4 .4 .2 .5 .1 .8 .1 .4 .1 .8 .1 .8 .1 .4 0 .8 .1 .8 0 .7 .1 .8 0 .4 0 .8 .1 .8 0 .7 0 .8 0 .7 0 .8 0 .7 0 .8 0 .7-.1 .8 0 .6 0 .6-.1 .8 0 .7-.1 .8-.1 .4-.1 .8-.1 .8-.1 .4-.2 .7-.2 .5z" fill="#000" fill-opacity="0.300" stroke="#000" stroke-width="0.4" stroke-opacity="1.0"/>
<path d="M47.3 348.9l-.5-.2-.2-.6-.1-.6-.1-.7-.1-.7-.1-.6 0-.7-.1-.8 0-.7 0-.8-.1-.6 0-.6 0-.8 0-.7 0-.8 0-.7 .1-.5 0-.8 0-.7 .1-.8 0-.7 .1-.8 0-.4 .1-.8 .1-.8 .1-.4 .2-.8 .2-.5 .4 .5 .2 .5 .1 .8 .1 .6 .1 .6 0 .8 .1 .7 0 .8 .1 .4 0 .8 0 .8 0 .7 .1 .8 0 .7 0 .8 0 .7-.1 .8 0 .7 0 .8 0 .7-.1 .5 0 .8-.1 .7-.1 .6-.1 .7-.2 .6-.2 .6z" fill="#000" fill-opacity="0.300" stroke="#000" stroke-width="0.4" stroke-opacity="1.0"/>
<path d="M47.0 347.1l-.2-.4-.1-.6-.2-.7 0-.6-.1-.8 0-.7-.1-.8 0-.4 0-.8 0-.8 0-.7 0-.8 0-.7 0-.6 0-.6 .1-.8 0-.8 .1-.7 0-.5 .2-.8 .1-.6 .2-.5 .4 .4 .1 .8 .1 .4 .1 .8 .1 .8 0 .4 .1 .8 0 .8 0 .7 0 .8 0 .7 0 .8 0 .7 0 .8 0 .7-.1 .8 0 .4-.1 .8-.1 .8-.1 .5-.2 .7-.2 .3z" fill="#000" fill-opacity="0.300" stroke="#000" stroke-width="0.4" stroke-opacity="1.0"/>
<path d="M47.0 344.8l-.1-.5-.1-.5-.1-.8-.1-.7 0-.8-.1-.4 0-.8 0-.8 0-.7 .1-.5 0-.8 .1-.7 0-.8 .1-.4 .2-.8 .3 .5 .2 .8 0 .7 .1 .5 0 .8 0 .7 .1 .8 0 .7-.1 .8 0 .7 0 .8-.1 .4-.1 .8-.1 .7-.2 .3z" fill="#000" fill-opacity="0.300" stroke="#000" stroke-width="0.4" stroke-opacity="1.0"/>
<path d="M68.3 355.1l-.8 0-.7 0-.6-.1-.7-.1-.5-.2-.5-.2-.5-.2-.5-.3-.5-.4-.3-.3-.4-.3-.4-.4-.4-.4-.3-.4-.4-.5-.2-.3-.4-.4-.3-.6-.3-.4-.3-.5-.2-.5-.3-.5-.2-.5-.3-.5-.2-.6-.2-.4-.2-.6-.2-.4-.2-.6-.2-.7-.2-.5-.1-.5-.2-.8-.2-.4-.1-.6-.1-.7-.2-.5-.1-.8-.1-.6-.1-.6-.1-.8-.1-.4 0-.8-.1-.8-.1-.7 0-.6 0-.6-.1-.8 0-.8 0-.7 0-.8 .1-.7 0-.8 0-.4 .1-.8 0-.8 .1-.7 .1-.5 .1-.8 .1-.7 .1-.5 .1-.8 .1-.4 .1-.8 .2-.5 .1-.8 .2-.4 .1-.6 .2-.7 .2-.5 .2-.5 .1-.5 .3-.7 .2-.6 .2-.4 .3-.6 .2-.4 .3-.6 .2-.4 .3-.6 .3-.4 .2-.4 .3-.4 .4-.5 .3-.5 .3-.3 .5-.4 .2-.3 .5-.5 .4-.2 .4-.4 .5-.3 .5-.3 .5-.2 .5-.2 .5-.2 .8-.1 .7 0 .8 0 .7 .1 .5 .2 .5 .2 .5 .2 .5 .3 .5 .3 .4 .4 .3 .2 .5 .5 .3 .2 .5 .6 .2 .2 .4 .5 .4 .5 .2 .4 .3 .4 .3 .4 .3 .6 .2 .4 .3 .6 .2 .4 .3 .6 .2 .4 .2 .6 .2 .7 .2 .5 .2 .5 .2 .5 .2 .8 .1 .4 .2 .6 .1 .7 .2 .5 .1 .8 .1 .4 .1 .8 .1 .5 .1 .8 .1 .7 .1 .5 .1 .8 0 .7 .1 .8 0 .4 0 .8 .1 .8 0 .7 0 .8 0 .7-.1 .8 0 .5 0 .7-.1 .8-.1 .7 0 .7-.1 .6-.1 .7-.1 .5-.1 .8-.2 .7-.1 .5-.1 .6-.1 .7-.2 .4-.2 .8-.1 .5-.2 .5-.2 .7-.2 .6-.2 .4-.2 .6-.2 .4-.2 .6-.2 .5-.3 .5-.2 .5-.3 .5-.3 .4-.3 .6-.3 .4-.4 .5-.2 .3-.4 .5-.4 .4-.3 .4-.4 .4-.4 .3-.4 .3-.5 .4-.5 .3-.5 .2-.5 .2-.5 .2-.6 .2z" fill="#000" fill-opacity="0.130" stroke="#000" stroke-width="0.45" stroke-opacity="1.0"/>
<path d="M68.3 352.1l-.8 .1-.7 0-.7-.1-.5-.2-.5-.2-.5-.2-.5-.3-.5-.4-.4-.2-.4-.4-.4-.4-.4-.3-.3-.4-.4-.5-.2-.3-.4-.5-.3-.5-.3-.5-.3-.5-.2-.5-.3-.5-.2-.5-.1-.5-.2-.5-.2-.8-.2-.4-.2-.6-.2-.6-.1-.6-.1-.5-.2-.8-.1-.4-.2-.8-.1-.5-.1-.8-.1-.5 0-.7-.1-.8-.1-.7 0-.5-.1-.8 0-.7 0-.8 0-.7 0-.8 0-.7 .1-.8 0-.4 .1-.8 0-.8 .1-.7 .1-.5 .1-.8 .1-.4 .1-.8 .1-.5 .2-.8 .1-.4 .2-.8 .2-.5 .1-.5 .2-.7 .3-.6 .1-.4 .3-.6 .2-.4 .2-.6 .2-.4 .3-.6 .3-.4 .3-.6 .3-.4 .3-.5 .3-.3 .4-.5 .3-.4 .4-.3 .3-.4 .5-.4 .4-.2 .4-.3 .5-.3 .5-.2 .8-.2 .5-.1 .7-.1 .8 .1 .5 .1 .7 .2 .5 .2 .5 .3 .4 .2 .3 .3 .5 .4 .4 .4 .4 .4 .3 .3 .4 .5 .3 .4 .2 .4 .4 .4 .3 .6 .3 .4 .2 .6 .3 .4 .2 .6 .2 .4 .2 .6 .2 .5 .2 .7 .2 .5 .2 .5 .1 .6 .2 .7 .1 .4 .2 .8 .1 .5 .1 .8 .1 .4 .1 .8 .1 .8 .1 .4 .1 .8 0 .8 .1 .7 0 .5 0 .8 0 .7 0 .8 0 .7 0 .5 0 .8-.1 .7-.1 .8 0 .7-.1 .5-.1 .8-.1 .6-.1 .6-.2 .7-.1 .6-.1 .5-.2 .7-.1 .5-.2 .7-.2 .6-.1 .4-.2 .6-.2 .5-.3 .7-.2 .5-.3 .5-.2 .5-.3 .5-.2 .4-.3 .4-.3 .4-.3 .6-.4 .4-.2 .3-.5 .5-.3 .3-.5 .4-.3 .3-.5 .3-.5 .3-.5 .3-.5 .2-.6 .2z" fill="#000" fill-opacity="0.130" stroke="#000" stroke-width="0.45" stroke-opacity="1.0"/>
<path d="M68.3 350.1l-.8 .1-.7 .1-.8-.1-.7-.1-.5-.2-.5-.1-.5-.3-.5-.2-.5-.3-.5-.4-.4-.3-.4-.4-.3-.3-.4-.6-.2-.4-.3-.4-.2-.6-.3-.6-.1-.4-.2-.6-.1-.7-.1-.8-.1-.4-.1-.8-.1-.5-.2-.6-.2-.6-.1-.6-.1-.7-.1-.5-.2-.8-.1-.5 0-.7-.1-.8-.1-.7 0-.5-.1-.8 0-.7 0-.8 0-.7 0-.8 0-.7 .1-.8 0-.4 .1-.8 .1-.8 .1-.4 .1-.8 .1-.7 .1-.6 .1-.6 .2-.6 .1-.5 .2-.8 .2-.4 .1-.6 .2-.6 .3-.6 .2-.5 .1-.5 .3-.5 .2-.5 .2-.5 .3-.5 .2-.5 .3-.5 .4-.5 .3-.4 .3-.3 .4-.6 .3-.2 .5-.4 .5-.3 .4-.3 .6-.2 .5-.2 .5-.1 .8 0 .5 0 .7 .1 .5 .2 .5 .3 .5 .3 .5 .3 .3 .3 .5 .4 .3 .4 .4 .4 .2 .3 .4 .5 .3 .5 .3 .5 .3 .4 .2 .5 .3 .5 .2 .5 .3 .5 .2 .6 .2 .5 .2 .5 .2 .5 .2 .7 .2 .6 .1 .4 .2 .8 .1 .5 .1 .8 .1 .4 .2 .8 0 .5 .1 .8 .1 .7 0 .8 .1 .4 0 .8 0 .8 0 .7 0 .8 0 .7 0 .8-.1 .4 0 .8-.1 .8-.1 .6-.1 .6-.1 .8-.1 .4-.2 .8-.1 .5-.2 .7-.1 .6-.1 .4-.2 .7-.3 .6-.1 .5-.2 .5-.3 .5-.2 .5-.2 .5-.3 .5-.3 .5-.3 .5-.3 .5-.3 .4-.3 .4-.5 .4-.2 .3-.5 .5-.4 .2-.4 .3-.5 .3-.5 .2-.6 .2z" fill="#000" fill-opacity="0.130" stroke="#000" stroke-width="0.45" stroke-opacity="1.0"/>
<path d="M67.8 349.3l-.8 .2-.7 0-.8 0-.7-.2-.5-.1-.5-.2-.5-.3-.5-.3-.5-.3-.3-.3-.4-.5-.3-.3-.3-.4-.3-.6-.3-.4-.1-.6-.2-.7-.2-.5 0-.8 0-.7 0-.8 0-.7 0-.8-.2-.4-.1-.8-.2-.5-.1-.7-.1-.6-.1-.7-.1-.5-.1-.8-.1-.7 0-.5-.1-.8 0-.7 0-.8 0-.7 0-.8 .1-.7 0-.5 .1-.8 0-.7 .1-.7 .1-.6 .2-.7 .1-.5 .1-.8 .1-.4 .2-.7 .1-.6 .1-.6 .2-.6 .1-.6 .2-.7 .1-.5 .2-.6 .2-.6 .2-.6 .2-.4 .3-.6 .3-.4 .3-.6 .2-.3 .3-.4 .5-.5 .2-.3 .5-.4 .5-.3 .5-.2 .5-.3 .5-.1 .8-.1 .8 .1 .5 .1 .6 .2 .4 .3 .5 .3 .5 .4 .3 .3 .4 .4 .3 .4 .3 .4 .3 .6 .3 .4 .3 .6 .2 .4 .2 .6 .2 .4 .2 .6 .2 .6 .2 .6 .2 .5 .1 .5 .2 .8 .2 .4 .1 .6 .2 .7 .1 .5 .2 .7 .1 .6 .1 .7 .1 .5 .1 .8 .1 .7 0 .5 .1 .8 0 .7 0 .8 0 .7 0 .8 0 .7-.1 .8 0 .4-.1 .8-.1 .8-.1 .4-.1 .8-.1 .5-.2 .8-.1 .4-.2 .8-.2 .5-.1 .5-.2 .5-.2 .7-.3 .6-.2 .4-.1 .6-.2 .4-.2 .7-.3 .6-.2 .5-.3 .5-.2 .4-.3 .4-.5 .4-.2 .3-.5 .5-.5 .2-.4 .3-.6 .2-.5 .3z" fill="#000" fill-opacity="0.130" stroke="#000" stroke-width="0.45" stroke-opacity="1.0"/>
<path d="M66.5 349.1l-.7-.1-.6 0-.8-.2-.5-.2-.5-.2-.5-.3-.4-.3-.3-.3-.5-.4-.2-.4-.3-.4-.3-.5-.2-.5-.2-.6-.2-.6-.1-.8 0-.5 0-.6 .1-.6 .1-.8 .1-.5 .1-.8-.1-.7-.1-.5-.2-.7-.1-.6-.2-.6 0-.6-.2-.8 0-.4-.1-.8 0-.8-.1-.7 0-.8 0-.7 .1-.8 0-.7 .1-.8 0-.4 .1-.8 .1-.8 .1-.4 .1-.8 .1-.6 .1-.6 0-.8 .1-.8 .1-.4 .1-.8 .1-.5 .1-.8 .2-.4 .2-.8 .2-.5 .2-.5 .2-.5 .2-.5 .3-.5 .3-.5 .3-.4 .4-.3 .4-.5 .4-.3 .3-.3 .5-.3 .5-.2 .8-.1 .8-.1 .7 .1 .5 .2 .5 .3 .5 .3 .5 .4 .3 .2 .4 .5 .3 .4 .3 .4 .3 .4 .3 .6 .2 .4 .2 .6 .2 .5 .2 .7 .2 .5 .1 .5 .2 .8 .1 .4 .1 .8 .1 .5 .1 .8 .1 .6 .2 .6 .1 .6 .1 .7 .1 .6 .1 .6 .1 .8 .1 .5 .1 .7 0 .8 0 .7 0 .8 0 .7 0 .8-.1 .7 0 .5-.1 .8-.1 .7-.1 .5-.1 .8-.1 .4-.2 .8-.1 .5-.2 .5-.2 .8-.2 .4-.2 .6-.2 .7 0 .5-.1 .8-.1 .4-.2 .8-.1 .5-.2 .5-.3 .5-.3 .5-.3 .5-.4 .4-.3 .4-.4 .3-.5 .3-.5 .3-.5 .2-.5 .2-.8 .1-.5 .1z" fill="#000" fill-opacity="0.130" stroke="#000" stroke-width="0.45" stroke-opacity="1.0"/>
<path d="M67.3 348.6l-.8 .1-.7 0-.6-.1-.7-.2-.5-.2-.5-.2-.5-.4-.4-.3-.3-.3-.4-.4-.3-.6-.3-.4-.2-.6-.2-.4-.1-.6-.1-.7 0-.8 0-.7 .1-.5 .2-.8 .2-.4 .1-.6 .2-.7-.1-.8-.1-.4-.2-.8-.1-.5-.1-.8-.1-.4-.1-.8-.1-.8 0-.7-.1-.7 0-.6 0-.7 .1-.5 0-.8 .1-.7 0-.8 .1-.5 0-.7 .1-.8 0-.7 0-.8 0-.7 .1-.8 0-.7 .1-.5 .1-.8 .1-.4 .2-.8 .1-.5 .2-.6 .2-.6 .3-.6 .2-.4 .3-.5 .2-.3 .4-.5 .4-.4 .3-.3 .5-.4 .5-.3 .5-.2 .6-.1 .6-.1 .6 .1 .6 .1 .5 .2 .5 .3 .5 .4 .3 .2 .4 .5 .3 .4 .3 .4 .3 .4 .3 .6 .2 .4 .2 .6 .2 .7 .2 .5 .1 .5 .2 .8 .1 .4 .1 .8 .1 .8 0 .5 .1 .7 0 .8 .1 .7 0 .6 .1 .7 .1 .7 .1 .5 .1 .8 .1 .7 0 .8 0 .7 0 .8 0 .7-.1 .8-.1 .7 0 .5-.1 .8-.2 .6-.1 .6-.1 .5-.2 .8-.2 .4-.1 .6-.2 .7-.1 .5-.1 .8 .1 .7-.1 .8 0 .7-.1 .5-.2 .8-.2 .4-.2 .6-.3 .4-.4 .5-.2 .3-.5 .5-.3 .2-.5 .4-.5 .3-.5 .2-.7 .2z" fill="#000" fill-opacity="0.050" stroke="#000" stroke-width="0.45" stroke-opacity="1.0"/>
<path d="M66.5 348.3l-.8 0-.5-.1-.7-.1-.5-.3-.5-.2-.4-.3-.4-.3-.4-.4-.4-.4-.2-.4-.3-.5-.2-.6-.2-.6-.1-.6 0-.7 0-.8 .1-.4 .2-.7 .2-.6 .2-.5 .2-.5 .2-.5 .1-.8 0-.7-.2-.5-.2-.8-.1-.4-.1-.8-.1-.5 0-.8-.1-.7 0-.8 0-.7 0-.8 0-.7 0-.8 0-.7 0-.8 0-.7 0-.8-.1-.7 0-.8 0-.7 .1-.8 0-.7 .1-.8 .1-.4 .1-.8 .2-.5 .1-.6 .3-.6 .2-.6 .3-.4 .2-.5 .3-.4 .3-.4 .4-.5 .3-.2 .5-.4 .5-.3 .5-.2 .8-.1 .7 0 .7 .2 .5 .2 .5 .3 .3 .3 .5 .4 .2 .3 .4 .5 .3 .5 .3 .5 .2 .5 .3 .5 .1 .5 .2 .6 .2 .7 .1 .4 .1 .8 .1 .8 0 .4 .1 .8 0 .8 0 .7 0 .8 0 .7 .1 .8 0 .7 0 .7 .1 .6 0 .7 .1 .8 0 .7 0 .8-.1 .7 0 .5-.1 .8-.2 .7-.1 .5-.1 .8-.2 .4-.1 .6-.2 .7-.2 .5-.1 .5 0 .5 .1 .8 .1 .7 0 .6 .1 .7-.1 .4-.1 .8-.1 .6-.2 .7-.3 .4-.2 .5-.3 .3-.4 .5-.4 .3-.5 .4-.5 .3-.5 .2-.5 .2-.7 .1z" fill="#000" fill-opacity="0.050" stroke="#000" stroke-width="0.45" stroke-opacity="1.0"/>
<path d="M67.5 347.8l-.8 .2-.8 0-.7-.1-.5-.1-.6-.2-.5-.3-.4-.3-.5-.4-.3-.3-.3-.5-.3-.5-.3-.5-.1-.5-.2-.8 0-.4 0-.7 .1-.6 .1-.8 .2-.4 .2-.6 .2-.4 .3-.6 .2-.4 .3-.6 .1-.7-.2-.8-.1-.4-.2-.7-.1-.6-.1-.8-.1-.4 0-.8-.1-.8 0-.7 0-.8 0-.7 0-.8-.1-.4-.1-.8-.1-.8 0-.4-.1-.8 0-.8-.1-.7 .1-.8 0-.7 .1-.8 0-.4 .2-.8 .1-.5 .2-.7 .2-.6 .2-.4 .2-.6 .3-.4 .3-.6 .3-.3 .4-.4 .3-.3 .5-.4 .5-.3 .5-.1 .8-.1 .8 .1 .5 .1 .5 .3 .5 .3 .4 .4 .3 .4 .3 .4 .3 .4 .3 .6 .3 .4 .2 .6 .1 .4 .2 .7 .2 .6 .1 .6 .1 .7 .1 .7 0 .8 .1 .4 0 .8 0 .6-.1 .7 0 .7-.1 .8 0 .7 0 .8 0 .7 0 .8 0 .7 0 .8 0 .7-.1 .6-.1 .7-.1 .7-.1 .5-.2 .8-.1 .4-.2 .6-.2 .6-.2 .6 .1 .8 .1 .6 .2 .6 .1 .5 .1 .8 .1 .7-.1 .8-.1 .7-.1 .5-.2 .6-.2 .5-.3 .4-.4 .5-.4 .4-.4 .4-.3 .2-.5 .3-.6 .2z" fill="#000" fill-opacity="0.050" stroke="#000" stroke-width="0.45" stroke-opacity="1.0"/>
<path d="M67.5 347.6l-.8 .1-.8 0-.7 0-.5-.2-.5-.2-.5-.3-.5-.3-.4-.4-.4-.4-.2-.4-.3-.4-.2-.6-.2-.7-.1-.6 0-.6 .1-.6 .1-.7 .2-.5 .2-.5 .2-.5 .3-.5 .3-.5 .3-.5 .3-.5 .3-.5 .1-.5-.2-.5-.2-.6-.1-.6-.2-.6-.1-.7-.1-.5 0-.8-.1-.7 0-.8-.1-.5-.1-.7-.2-.6-.1-.6-.1-.7-.1-.6-.1-.8-.1-.4 0-.8-.1-.8 0-.7 .1-.8 0-.7 .1-.5 .1-.8 .1-.4 .2-.8 .2-.5 .2-.5 .3-.5 .3-.5 .3-.5 .2-.3 .5-.4 .3-.3 .5-.3 .5-.3 .8-.1 .7 0 .7 .2 .5 .2 .4 .3 .4 .4 .3 .4 .4 .4 .3 .5 .2 .4 .3 .6 .2 .6 .2 .4 .1 .6 .2 .7 .1 .5 .1 .8 .1 .7 0 .8 0 .7-.1 .8 0 .7-.1 .8-.1 .4-.1 .8-.1 .8-.1 .4 0 .8-.1 .8 0 .7 0 .8-.1 .4-.1 .8-.1 .7-.1 .6-.2 .4-.2 .8-.2 .5-.2 .5 0 .8 .1 .6 .3 .6 .2 .5 .2 .5 .1 .5 .1 .8 .1 .7 0 .8-.1 .7-.1 .5-.2 .5-.3 .5-.3 .5-.4 .5-.3 .3-.5 .4-.5 .3-.5 .2z" fill="#000" fill-opacity="0.050" stroke="#000" stroke-width="0.45" stroke-opacity="1.0"/>
<path d="M67.5 347.3l-.8 .2-.8 0-.7-.1-.5-.1-.5-.2-.5-.3-.5-.4-.3-.3-.4-.6-.3-.4-.2-.6-.2-.4-.1-.6-.1-.7 .1-.7 .1-.6 .1-.5 .3-.7 .2-.5 .3-.4 .2-.4 .4-.4 .4-.5 .2-.3 .5-.5 .3-.4 .1-.6-.2-.5-.2-.5-.2-.5-.2-.8-.1-.4-.1-.8-.1-.5-.2-.8-.1-.4-.2-.7-.2-.6-.2-.5-.1-.5-.2-.8-.1-.4-.1-.8-.1-.5-.1-.8 0-.7-.1-.8 .1-.7 0-.8 .1-.6 .1-.6 .1-.6 .2-.6 .2-.6 .2-.4 .3-.6 .2-.4 .4-.6 .3-.3 .4-.4 .3-.3 .5-.2 .7-.2 .6-.1 .7 .1 .5 .1 .5 .3 .4 .3 .4 .4 .3 .4 .4 .4 .3 .6 .2 .4 .3 .6 .1 .4 .2 .6 .2 .7 .1 .5 .1 .8 0 .7 .1 .5 0 .8-.1 .4 0 .8-.1 .8-.1 .7-.1 .5-.2 .7-.1 .6-.1 .5-.2 .7-.1 .5-.2 .8 0 .4-.1 .8-.1 .8-.2 .4-.1 .6-.2 .7-.2 .5-.3 .5-.2 .5 .1 .8 .3 .4 .2 .5 .3 .4 .2 .5 .3 .6 .2 .6 .1 .4 .2 .8 0 .5 0 .6-.1 .7-.2 .6-.2 .6-.2 .5-.3 .4-.3 .4-.5 .4-.4 .3-.4 .2-.6 .3z" fill="#000" fill-opacity="0.050" stroke="#000" stroke-width="0.45" stroke-opacity="1.0"/>
<path d="M67.0 336.1l-.5-.2-.4-.3-.3-.4-.3-.4-.2-.5-.2-.6-.3-.6-.2-.6-.2-.4-.3-.6-.2-.4-.2-.6-.3-.4-.1-.6-.2-.5-.3-.7-.1-.5-.1-.8-.1-.4-.1-.8-.1-.8 0-.4 0-.8 0-.5 .1-.8 .1-.7 .1-.5 .2-.8 .1-.4 .2-.6 .2-.4 .3-.6 .3-.4 .4-.6 .2-.2 .5-.4 .5-.3 .5-.2 .5-.1 .8 0 .5 .1 .5 .3 .5 .3 .3 .3 .5 .5 .2 .3 .3 .4 .2 .6 .3 .4 .2 .7 .2 .6 .1 .5 .2 .8 0 .4 .1 .8 0 .8 0 .7 0 .8-.1 .7-.1 .5-.1 .8-.1 .4-.2 .7-.2 .6-.1 .5-.2 .5-.2 .5-.3 .6-.2 .7-.2 .4-.2 .6-.2 .5-.2 .7-.2 .5-.3 .4-.3 .4-.5 .3-.5 .2zM67.0 347.3l-.7 .1-.8-.1-.5-.1-.5-.2-.5-.2-.5-.4-.3-.3-.4-.5-.2-.4-.3-.4-.2-.7-.2-.6 0-.7 0-.8 .1-.5 .2-.7 .3-.5 .2-.5 .3-.5 .3-.4 .3-.3 .4-.5 .4-.3 .4-.3 .5-.4 .5-.2 .5-.3 .5-.1 .5 .2 .5 .3 .4 .3 .3 .3 .4 .4 .4 .5 .2 .4 .3 .4 .3 .5 .2 .6 .2 .7 .1 .4 .1 .8 0 .8-.2 .6-.1 .6-.2 .5-.3 .5-.3 .5-.3 .3-.5 .4-.4 .3-.5 .2-.6 .2z" fill="#000" fill-opacity="0.050" stroke="#000" stroke-width="0.45" stroke-opacity="1.0"/>
<path d="M67.3 332.8l-.8 0-.5-.1-.5-.3-.4-.3-.3-.3-.4-.5-.3-.5-.3-.5-.2-.5-.3-.5-.1-.5-.2-.5-.2-.7-.1-.6-.2-.7 0-.5-.1-.8 0-.7 0-.8 .1-.7 0-.7 .1-.6 .2-.6 .2-.6 .2-.5 .2-.5 .2-.5 .3-.5 .4-.5 .2-.3 .5-.4 .5-.3 .5-.2 .5-.1 .8 0 .5 .2 .5 .2 .5 .4 .3 .2 .4 .6 .3 .3 .2 .4 .3 .5 .2 .6 .3 .7 .1 .4 .1 .6 .2 .7 .1 .8 0 .6 0 .6 0 .7 0 .6-.1 .7-.1 .8-.1 .4-.2 .7-.2 .6-.2 .5-.2 .5-.2 .5-.3 .5-.3 .5-.4 .5-.2 .2-.5 .4-.5 .3-.5 .1zM67.3 347.1l-.8 .1-.7 0-.8-.1-.5-.2-.5-.3-.4-.3-.3-.3-.4-.4-.3-.6-.3-.4-.1-.6-.2-.6 0-.6 0-.7 .1-.6 .2-.5 .2-.6 .3-.5 .2-.5 .3-.3 .5-.6 .2-.2 .5-.4 .5-.3 .5-.3 .5-.1 .8 0 .6 .1 .5 .2 .4 .3 .5 .4 .3 .4 .4 .4 .3 .5 .2 .5 .2 .6 .2 .4 .1 .8 .1 .5 0 .7-.1 .6-.2 .6-.2 .6-.3 .5-.2 .3-.4 .4-.4 .4-.5 .3-.5 .2-.5 .2z" fill="#000" fill-opacity="0.050" stroke="#000" stroke-width="0.45" stroke-opacity="1.0"/>
<path d="M67.3 331.6l-.8 0-.5-.1-.5-.2-.5-.3-.4-.4-.3-.4-.3-.4-.3-.5-.2-.5-.2-.5-.2-.8-.2-.4-.1-.8-.1-.5 0-.8 0-.7 0-.8 0-.7 .1-.5 .2-.8 .1-.4 .2-.7 .2-.6 .3-.5 .2-.4 .3-.4 .4-.4 .3-.3 .5-.4 .5-.2 .8-.1 .8 .1 .5 .2 .5 .3 .3 .4 .4 .3 .3 .4 .3 .5 .2 .5 .2 .5 .2 .6 .2 .7 .1 .4 .2 .8 0 .8 .1 .4 0 .8-.1 .5 0 .8-.2 .7-.1 .5-.2 .7-.2 .6-.2 .4-.2 .6-.3 .4-.3 .4-.4 .4-.4 .3-.5 .3-.6 .2zM67.3 346.8l-.8 .1-.7 0-.6-.1-.7-.2-.4-.3-.3-.2-.5-.5-.2-.4-.3-.4-.2-.5-.2-.8-.1-.4 0-.8 .1-.5 .1-.8 .2-.4 .3-.6 .3-.4 .2-.4 .4-.4 .4-.4 .5-.3 .5-.2 .5-.2 .8 0 .7 .1 .5 .2 .5 .2 .4 .4 .3 .3 .3 .4 .4 .5 .2 .5 .2 .5 .2 .8 0 .4 0 .8 0 .5-.2 .8-.2 .4-.3 .6-.3 .4-.3 .3-.5 .4-.5 .3-.5 .2z" fill="#000" fill-opacity="0.050" stroke="#000" stroke-width="0.45" stroke-opacity="1.0"/>
<path d="M67.5 330.8l-.8 .1-.8-.1-.5-.2-.5-.3-.2-.2-.5-.6-.2-.4-.3-.4-.2-.6-.2-.6-.2-.4-.1-.8-.1-.5 0-.8 0-.7 0-.8 0-.5 .2-.7 .1-.5 .2-.8 .2-.4 .3-.6 .3-.4 .2-.4 .4-.4 .4-.3 .5-.3 .5-.2 .8-.1 .6 .2 .5 .2 .3 .3 .5 .4 .3 .3 .3 .5 .3 .5 .2 .5 .2 .6 .2 .7 .1 .4 .1 .8 .1 .8 0 .7-.1 .8-.1 .7-.1 .5-.1 .8-.2 .4-.2 .6-.3 .4-.3 .6-.4 .4-.3 .3-.4 .2-.6 .3zM66.5 346.6l-.6-.1-.7-.1-.5-.2-.5-.3-.5-.3-.2-.3-.4-.5-.2-.5-.2-.5-.2-.8 0-.7 .1-.8 .2-.4 .1-.6 .3-.5 .3-.4 .4-.6 .3-.2 .5-.3 .5-.3 .7-.1 .5-.1 .5 .1 .7 .2 .5 .2 .3 .3 .5 .5 .3 .4 .2 .5 .3 .6 .1 .5 .1 .8 0 .7-.1 .8-.2 .4-.2 .6-.3 .4-.4 .5-.3 .3-.5 .3-.5 .2-.7 .2z" fill="#000" fill-opacity="0.050" stroke="#000" stroke-width="0.45" stroke-opacity="1.0"/>
<path d="M67.5 330.3l-.8 .1-.8-.1-.5-.2-.4-.3-.3-.3-.4-.4-.3-.6-.2-.4-.2-.6-.2-.4-.1-.8-.1-.5 0-.8 0-.7 0-.5 .1-.8 .1-.6 .2-.6 .3-.5 .2-.5 .3-.5 .3-.3 .5-.4 .3-.3 .6-.2 .6-.2 .8 .1 .5 .2 .4 .4 .3 .2 .4 .5 .3 .5 .3 .5 .2 .5 .2 .5 .1 .5 .1 .8 .1 .7 0 .8-.1 .7-.1 .8-.1 .4-.2 .6-.2 .6-.2 .5-.3 .4-.4 .4-.4 .3-.5 .3-.5 .2zM66.5 346.1l-.6-.1-.7-.1-.5-.2-.5-.4-.3-.2-.4-.6-.2-.4-.2-.6-.2-.4 0-.8 0-.7 .2-.6 .2-.4 .2-.6 .3-.4 .4-.4 .5-.4 .5-.2 .5-.2 .8-.1 .7 .2 .5 .2 .5 .3 .3 .3 .4 .5 .3 .4 .2 .6 .2 .5 0 .8 0 .7-.2 .7-.2 .6-.2 .4-.3 .4-.4 .4-.4 .3-.5 .2-.7 .2z" fill="#000" fill-opacity="0.050" stroke="#000" stroke-width="0.45" stroke-opacity="1.0"/>
<path d="M67.8 329.8l-.8 .2-.7 0-.5-.2-.5-.3-.5-.4-.2-.4-.3-.4-.3-.5-.2-.7-.1-.6-.1-.7-.1-.5 0-.8 .1-.4 .1-.8 .1-.5 .2-.6 .3-.5 .3-.4 .4-.5 .3-.3 .5-.3 .5-.2 .8-.1 .6 .2 .5 .2 .4 .2 .5 .5 .2 .4 .3 .4 .2 .6 .2 .7 .1 .4 .1 .8 0 .8 0 .7-.1 .8-.2 .4-.1 .6-.2 .5-.3 .4-.4 .6-.4 .3-.5 .3zM67.3 345.3l-.8 .1-.7-.1-.5-.1-.5-.3-.4-.3-.4-.5-.2-.4-.2-.6-.2-.6 0-.7 .1-.8 .1-.4 .3-.6 .4-.4 .2-.3 .5-.4 .5-.2 .8-.1 .8 0 .5 .2 .5 .3 .5 .4 .2 .3 .3 .5 .2 .6 .1 .7 .1 .7-.2 .8-.2 .4-.2 .6-.4 .4-.3 .3-.4 .3-.5 .2z" fill="#000" fill-opacity="0.050" stroke="#000" stroke-width="0.45" stroke-opacity="1.0"/>
<path d="M67.3 329.6l-.8 0-.5-.1-.5-.2-.5-.4-.2-.3-.3-.6-.3-.4-.2-.6-.1-.7-.1-.8 0-.7 .1-.8 .2-.4 .2-.7 .2-.5 .3-.3 .5-.5 .5-.3 .5-.2 .5-.1 .8 0 .5 .2 .5 .3 .2 .3 .4 .5 .3 .5 .2 .5 .1 .5 .1 .8 0 .7 0 .8-.1 .5-.2 .7-.2 .5-.3 .5-.3 .4-.4 .4-.4 .2-.5 .2zM67.3 344.3l-.8 .1-.5-.1-.5-.2-.5-.3-.5-.5-.2-.2-.3-.6-.2-.7 0-.3 .1-.7 .2-.5 .3-.5 .4-.4 .5-.3 .5-.2 .5-.1 .5 0 .7 .2 .4 .3 .4 .3 .3 .4 .3 .6 .2 .4 0 .8 0 .7-.2 .6-.4 .4-.2 .3-.5 .3-.5 .2z" fill="#000" fill-opacity="0.050" stroke="#000" stroke-width="0.45" stroke-opacity="1.0"/>
<path d="M67.8 329.1l-.8 .2-.7-.1-.5-.2-.5-.3-.3-.4-.3-.5-.3-.5-.1-.5-.1-.8-.1-.7 .1-.8 .2-.4 .2-.6 .3-.4 .4-.5 .4-.3 .6-.2 .5-.2 .8 .1 .5 .2 .5 .3 .2 .3 .4 .5 .2 .5 .1 .5 .1 .8 0 .7 0 .7-.2 .6-.2 .4-.3 .6-.4 .4-.3 .3-.4 .3zM67.8 343.1l-.8 .2-.7-.1-.5-.2-.5-.3-.5-.3-.2-.4-.3-.6 0-.6 .1-.5 .4-.5 .2-.3 .5-.3 .8-.1 .3-.1 .7 .2 .5 .3 .3 .3 .4 .5 .2 .5 .1 .8-.2 .7-.3 .5-.4 .2z" fill="#000" fill-opacity="0.050" stroke="#000" stroke-width="0.45" stroke-opacity="1.0"/>
<path d="M66.8 328.8l-.5-.1-.5-.2-.5-.4-.2-.4-.3-.5-.2-.6 0-.8 .1-.8 .1-.4 .3-.6 .5-.4 .4-.3 .5-.2 .5-.1 .5 .1 .6 .2 .5 .4 .2 .4 .3 .4 .1 .8 0 .8-.1 .7-.2 .5-.3 .5-.3 .4-.5 .4-.5 .2-.5 0zM67.5 342.1l-.5 .1-.5-.1-.4-.1-.4-.1-.2-.1-.3-.2-.2-.4-.2-.4 .1-.5 .1-.2 .2-.3 .4-.2 .3-.2 .5 0 .5 .1 .3 .1 .3 .2 .3 .2 .1 .3 .2 .5 0 .5-.2 .4-.2 .3-.2 .1z" fill="#000" fill-opacity="0.050" stroke="#000" stroke-width="0.45" stroke-opacity="1.0"/>
<path d="M67.3 328.1l-.5 0-.4-.1-.4-.1-.2-.2-.2-.4-.2-.2-.1-.4-.1-.4 .1-.5 .1-.2 .1-.4 .3-.3 .2-.2 .3-.2 .5-.1 .5 0 .4 .2 .3 .2 .3 .2 .1 .3 .1 .4 .1 .4 0 .4-.1 .3-.2 .4-.2 .4-.3 .2-.2 .1-.3 .2zM66.8 340.8l-.2 0-.1 0-.2-.1-.1-.1 0-.3 .1-.1 .2-.1 .3 .1 .2 .1 0 .1 .1 .2-.2 .2-.1 0z" fill="#000" fill-opacity="0.050" stroke="#000" stroke-width="0.45" stroke-opacity="1.0"/>
<ellipse cx="67.1" cy="323.8" rx="1.2" ry="2.6" fill="#e8e8e8"/>
<ellipse cx="66.2" cy="343.3" rx="1.6" ry="1.2" fill="#e8e8e8"/>
<path d="M38.6 314.3h.05M40.3 326.2h.05M51.9 353.3h.05M80.8 363.9h.05M42.4 350.0h.05M68.8 367.2h.05M82.6 357.1h.05M56.4 302.6h.05M81.8 326.4h.05M57.7 350.6h.05M50.8 322.3h.05M66.9 368.4h.05M67.0 296.7h.05M59.3 361.5h.05M33.3 322.3h.05M38.1 363.0h.05M57.2 347.0h.05M34.0 358.7h.05M53.7 306.5h.05M80.1 301.0h.05M88.5 313.9h.05M60.0 368.8h.05M54.1 352.2h.05M74.1 299.7h.05M52.3 316.0h.05M51.7 321.1h.05M51.8 322.6h.05M73.0 354.8h.05M65.0 359.9h.05M78.4 319.3h.05M38.7 357.3h.05M36.7 369.1h.05M38.5 301.8h.05M51.7 324.7h.05M42.5 312.1h.05M37.3 300.3h.05M44.6 362.3h.05M36.4 325.4h.05M35.7 310.5h.05M36.1 306.2h.05M50.5 350.6h.05M45.4 296.2h.05M49.7 363.7h.05M43.4 304.4h.05M37.0 342.5h.05M77.5 356.9h.05M53.6 300.3h.05M37.5 327.1h.05M42.4 309.9h.05M37.4 373.2h.05M82.8 301.8h.05M89.5 352.7h.05M73.6 301.0h.05M46.8 304.2h.05M50.8 318.1h.05M59.3 300.9h.05M54.1 372.6h.05M60.1 311.4h.05M44.6 296.1h.05M78.0 357.0h.05M51.2 308.4h.05M41.7 297.4h.05M41.8 342.2h.05M42.6 360.1h.05M44.8 373.2h.05M53.9 300.0h.05M50.3 363.8h.05M65.3 369.1h.05M54.0 319.6h.05M53.3 305.0h.05M56.4 367.5h.05M41.8 298.6h.05M65.0 301.8h.05M50.0 306.9h.05M78.4 306.2h.05M42.5 343.3h.05M91.8 341.2h.05M53.7 353.2h.05M57.4 369.1h.05M55.8 355.3h.05M53.3 363.8h.05M52.7 347.7h.05M72.8 363.4h.05M34.9 364.2h.05M51.2 340.6h.05M51.9 352.1h.05M37.7 319.1h.05M85.6 303.8h.05M71.1 297.9h.05M38.8 311.9h.05M39.1 366.3h.05M36.9 355.0h.05M41.8 322.2h.05M45.0 373.1h.05M42.9 368.0h.05M73.9 301.6h.05M47.2 304.1h.05M63.8 354.3h.05M41.1 349.0h.05M54.4 298.1h.05M41.0 355.2h.05M53.3 353.0h.05M52.5 364.8h.05M41.6 318.8h.05M60.2 311.1h.05M48.7 303.4h.05M52.9 354.6h.05M34.4 301.3h.05M48.6 302.7h.05M44.5 301.8h.05M66.5 355.3h.05M69.0 364.5h.05M43.4 351.5h.05M53.7 317.3h.05M38.6 331.4h.05M54.0 341.5h.05M41.8 309.3h.05M79.5 370.2h.05M61.8 368.9h.05M52.4 301.9h.05M38.5 312.1h.05M66.1 373.0h.05M68.1 370.4h.05M54.3 360.6h.05M52.8 367.4h.05M45.5 310.8h.05M75.2 366.7h.05M81.1 355.3h.05M38.6 333.3h.05M51.9 342.6h.05M54.5 298.5h.05M80.4 301.3h.05M35.1 311.4h.05M79.3 342.7h.05M51.6 344.8h.05M75.2 307.5h.05M44.0 367.0h.05M62.0 371.4h.05M38.2 306.2h.05M78.2 302.4h.05M44.4 365.6h.05M33.7 329.1h.05M42.8 370.4h.05M70.6 297.9h.05M49.0 303.5h.05M39.6 318.9h.05M67.4 358.2h.05M57.4 363.1h.05M65.5 305.1h.05M48.7 369.2h.05M42.2 365.5h.05M41.3 300.8h.05M89.1 307.3h.05M40.6 350.0h.05M61.6 309.6h.05M55.4 338.8h.05M54.6 298.5h.05M44.0 321.5h.05M61.7 356.5h.05M43.6 306.4h.05M34.2 359.5h.05M40.3 337.7h.05M34.8 296.1h.05M34.2 296.3h.05M56.1 311.3h.05M50.5 358.7h.05M53.5 317.1h.05M52.1 354.7h.05M44.0 318.3h.05M67.9 298.8h.05M41.2 363.3h.05M39.6 303.3h.05M45.7 370.8h.05M61.9 306.1h.05M54.6 362.7h.05M33.6 316.5h.05M53.0 303.1h.05M55.5 343.9h.05M48.1 307.8h.05M38.6 339.0h.05M52.4 319.4h.05M60.4 360.9h.05M43.4 356.8h.05M36.6 352.1h.05M48.8 298.4h.05M56.0 357.2h.05M35.9 314.9h.05M83.0 343.1h.05M67.1 360.2h.05M38.0 311.8h.05M39.3 299.6h.05M40.2 338.3h.05M57.7 314.1h.05M78.9 358.9h.05M35.4 369.4h.05M40.2 324.2h.05M59.2 310.0h.05M41.9 367.8h.05M40.7 311.2h.05M34.4 366.6h.05M74.1 351.9h.05M52.8 300.4h.05M38.1 336.5h.05M63.7 357.4h.05M55.2 300.9h.05M56.8 297.1h.05M58.7 297.5h.05M40.8 355.8h.05M87.6 305.1h.05M54.2 371.2h.05M81.2 339.8h.05M35.5 350.4h.05M51.2 343.3h.05M77.3 301.6h.05M43.2 314.8h.05M55.8 359.6h.05M44.3 318.4h.05M56.5 312.3h.05M37.6 365.8h.05M37.6 367.2h.05M43.2 316.5h.05M38.0 312.7h.05M80.3 372.7h.05M51.6 315.7h.05M59.7 301.2h.05M35.9 362.7h.05M35.4 366.3h.05M47.3 296.4h.05M66.0 300.0h.05M55.4 348.3h.05M35.8 351.9h.05M51.7 297.3h.05M35.0 353.7h.05M74.5 351.1h.05M35.7 315.3h.05M37.8 308.9h.05M50.0 370.0h.05M56.2 305.7h.05M33.6 345.6h.05M50.6 359.3h.05M38.0 300.1h.05M54.2 348.5h.05M54.9 344.0h.05M42.0 297.6h.05M71.8 303.9h.05M39.5 320.0h.05M53.9 306.2h.05M71.9 307.1h.05M41.5 368.0h.05M37.5 348.4h.05M50.3 369.8h.05M58.8 348.6h.05M69.4 302.9h.05M34.7 301.4h.05M37.2 309.5h.05M87.8 337.6h.05M44.3 359.0h.05M52.1 297.1h.05M46.2 310.7h.05M41.1 319.1h.05M38.0 300.9h.05M44.1 303.6h.05M56.4 347.6h.05M50.8 306.0h.05M57.1 296.2h.05M76.7 309.2h.05M35.8 302.9h.05M41.9 352.4h.05M40.9 320.9h.05M80.3 342.4h.05M53.3 298.7h.05M36.1 341.4h.05M56.0 345.7h.05M76.7 348.5h.05M34.0 296.3h.05M36.0 320.3h.05M55.9 315.2h.05M37.4 303.2h.05M50.9 363.0h.05M53.5 367.2h.05M48.9 372.9h.05M86.9 351.0h.05M37.2 357.3h.05M50.5 303.2h.05M33.8 314.3h.05M42.6 322.0h.05M58.1 358.3h.05M55.4 325.7h.05M45.9 366.9h.05M76.9 365.8h.05M75.6 354.3h.05M48.6 298.8h.05M38.8 363.1h.05M45.6 299.6h.05M36.7 330.2h.05M55.9 360.9h.05M49.7 306.5h.05M36.0 343.3h.05M52.3 304.2h.05M34.6 362.0h.05M35.3 342.5h.05M74.9 360.8h.05M39.3 325.0h.05M39.4 347.5h.05M53.8 352.3h.05M53.2 308.5h.05M81.0 301.1h.05M81.7 325.9h.05M36.5 372.6h.05M55.4 351.9h.05M54.5 308.8h.05M51.6 322.8h.05M55.8 348.4h.05M39.2 301.2h.05M35.5 333.9h.05M43.0 310.4h.05M53.5 300.8h.05M34.8 346.6h.05M38.9 352.1h.05M43.4 315.0h.05M79.6 301.7h.05M33.8 336.6h.05M35.2 303.8h.05M39.9 348.6h.05M39.9 300.8h.05M55.6 318.4h.05M35.6 339.6h.05M79.5 297.6h.05M34.2 297.8h.05M53.2 310.6h.05M54.0 369.0h.05M78.1 307.4h.05M46.9 371.3h.05M80.2 311.4h.05M83.8 331.4h.05M78.8 314.5h.05M40.7 329.0h.05M36.5 331.0h.05M34.9 330.8h.05M49.3 363.2h.05M36.5 359.6h.05M35.6 328.3h.05M34.4 366.3h.05M47.8 305.7h.05M38.7 360.0h.05M39.0 334.0h.05M53.5 340.7h.05M78.2 318.8h.05M64.2 301.3h.05M39.0 369.2h.05M35.1 358.8h.05M91.9 351.4h.05M53.0 342.2h.05M38.0 359.8h.05M38.0 302.5h.05M35.7 318.4h.05M68.2 298.7h.05M79.3 301.5h.05M35.0 316.0h.05M38.5 338.5h.05M84.3 303.9h.05M35.3 307.0h.05M48.9 304.7h.05M69.9 372.6h.05M39.2 338.6h.05M44.0 304.9h.05M62.8 366.3h.05M35.4 358.7h.05M49.6 360.7h.05M54.4 296.9h.05M65.1 359.1h.05M37.5 344.5h.05M61.3 301.0h.05M77.3 302.7h.05M39.9 357.3h.05M42.1 346.4h.05M73.4 307.6h.05M53.9 311.2h.05M61.5 296.9h.05M40.2 373.0h.05M59.0 305.8h.05M54.0 327.2h.05M37.5 308.6h.05M36.8 344.3h.05M50.6 370.0h.05M39.3 337.4h.05M58.1 360.4h.05M43.8 320.5h.05M53.3 302.4h.05M52.0 350.1h.05M79.2 299.0h.05M80.5 298.5h.05M42.2 352.2h.05M42.1 317.7h.05M69.4 373.1h.05M40.9 319.1h.05M35.4 350.4h.05M80.7 339.8h.05M58.5 365.4h.05M48.9 312.0h.05M37.8 341.4h.05M81.4 317.3h.05M33.3 359.6h.05M42.3 371.4h.05M73.7 370.3h.05M55.8 351.7h.05M39.7 343.4h.05M68.3 296.9h.05M62.0 296.3h.05M54.6 351.5h.05M38.2 370.9h.05M34.6 314.2h.05M49.9 303.5h.05M38.7 350.4h.05M75.9 312.5h.05M34.0 335.5h.05M70.1 359.6h.05M41.2 309.5h.05M60.9 352.2h.05M79.0 341.9h.05M52.4 354.7h.05M90.6 353.0h.05M36.6 372.2h.05M36.8 322.7h.05M61.6 298.4h.05M48.6 311.7h.05M51.8 318.3h.05M38.8 358.7h.05M36.2 366.4h.05M37.0 351.9h.05M36.1 319.8h.05M36.8 351.8h.05M35.6 346.6h.05M44.8 300.6h.05M44.0 359.1h.05M36.0 327.6h.05M37.5 336.3h.05M34.7 369.1h.05M34.6 371.8h.05M49.2 303.7h.05M72.5 368.5h.05M50.9 366.5h.05M51.6 365.1h.05M74.3 301.8h.05M56.1 364.2h.05M44.3 316.9h.05M53.4 356.4h.05M87.2 318.4h.05M40.3 314.4h.05M66.5 361.4h.05M39.8 349.4h.05M33.6 314.6h.05M80.0 372.9h.05M43.7 359.8h.05M34.8 308.6h.05M78.6 363.7h.05M34.9 332.6h.05M34.2 302.0h.05M40.1 306.1h.05M81.6 320.3h.05M33.9 326.0h.05M75.8 302.3h.05M53.3 299.0h.05M40.7 321.8h.05M47.6 367.4h.05M82.9 354.4h.05M46.7 371.2h.05M95.0 359.4h.05M37.6 301.6h.05M35.0 308.5h.05M37.2 296.5h.05M48.9 368.3h.05M56.5 356.0h.05M53.4 296.8h.05M80.7 313.8h.05M34.0 345.5h.05M50.7 368.1h.05M34.3 360.3h.05M43.2 363.5h.05M33.3 326.0h.05M52.3 302.4h.05M33.8 369.2h.05M54.2 358.2h.05M50.4 372.4h.05M41.1 353.3h.05M33.8 327.9h.05M40.0 317.5h.05M75.3 299.0h.05M80.0 320.8h.05M55.4 301.6h.05M35.5 313.9h.05M48.0 306.4h.05M44.0 314.6h.05M93.7 331.5h.05M95.3 310.3h.05M77.9 360.6h.05M45.1 309.2h.05M42.9 322.1h.05M76.9 351.9h.05M38.6 366.0h.05M47.4 307.6h.05M51.2 313.3h.05M46.6 305.3h.05M55.3 327.5h.05M35.6 299.3h.05M47.6 308.7h.05M60.1 363.2h.05M43.4 364.4h.05M35.0 328.9h.05M38.1 321.8h.05M34.8 304.4h.05M47.4 300.5h.05M35.8 339.2h.05M42.6 361.3h.05M55.1 363.4h.05M38.1 326.1h.05M36.8 364.5h.05M42.0 345.4h.05M36.6 298.5h.05M33.3 328.9h.05M35.2 329.3h.05M53.3 308.1h.05M33.8 307.3h.05M35.3 368.9h.05M74.6 352.0h.05M53.0 372.4h.05M35.2 367.9h.05M35.4 351.2h.05M49.6 362.9h.05M50.6 358.7h.05M92.7 362.8h.05M44.3 318.2h.05M53.6 338.1h.05M67.0 369.4h.05M36.0 315.0h.05M46.3 296.5h.05M45.3 366.7h.05M62.4 355.4h.05M47.5 371.3h.05M78.2 305.4h.05M41.9 302.6h.05M52.5 316.3h.05M34.8 360.5h.05M35.1 328.3h.05M52.3 324.7h.05M66.7 371.9h.05M57.5 309.6h.05M74.2 352.3h.05M56.7 305.3h.05M36.5 305.5h.05M40.7 314.6h.05M52.4 310.6h.05M77.8 361.3h.05M55.6 309.9h.05M48.2 369.4h.05M37.8 336.2h.05M36.6 314.2h.05M52.2 364.0h.05M72.5 358.9h.05M50.2 318.5h.05M37.2 331.4h.05M34.0 354.6h.05M34.9 341.8h.05M52.9 340.9h.05M53.6 328.9h.05M43.7 305.8h.05M46.7 369.6h.05M36.2 296.1h.05M78.1 296.3h.05M49.0 368.7h.05M77.1 303.1h.05M92.3 370.7h.05M78.0 318.1h.05M78.2 311.7h.05M61.7 304.9h.05M39.1 362.3h.05M37.9 352.8h.05M52.9 356.5h.05M55.1 341.1h.05M34.0 337.3h.05M42.1 325.7h.05M53.3 304.0h.05M53.1 341.7h.05M33.8 341.1h.05M51.7 319.0h.05M94.7 321.7h.05M55.0 330.3h.05M42.0 299.4h.05M79.8 355.5h.05M67.5 302.4h.05M51.7 313.5h.05M39.9 367.5h.05M36.5 303.0h.05M40.1 360.3h.05M58.0 303.5h.05M33.8 318.6h.05M54.3 307.1h.05M47.5 297.5h.05M58.5 358.7h.05M62.4 296.8h.05M75.4 308.3h.05M40.6 311.7h.05M50.4 364.7h.05M55.0 320.1h.05M54.5 309.5h.05M43.4 358.5h.05M34.5 300.1h.05M45.6 369.9h.05M79.0 306.3h.05M68.8 296.9h.05M35.8 301.6h.05M46.6 371.1h.05M84.9 325.0h.05M53.5 323.0h.05M40.1 302.1h.05M34.5 352.2h.05M33.9 303.9h.05M50.2 300.0h.05M74.5 362.7h.05M36.0 301.6h.05M39.1 347.0h.05M37.2 301.7h.05M37.8 371.2h.05M45.2 298.4h.05M53.8 352.8h.05M54.0 350.1h.05M34.1 340.1h.05M55.8 301.9h.05M57.6 351.8h.05M42.1 358.1h.05M57.3 371.3h.05M51.8 365.6h.05M86.8 331.8h.05M41.4 361.8h.05M42.4 346.1h.05M33.5 335.7h.05M35.4 371.9h.05M90.1 303.1h.05M43.3 304.4h.05M44.5 367.5h.05M39.8 366.0h.05M93.0 338.1h.05M53.6 308.2h.05M35.7 351.4h.05M52.7 317.1h.05M37.2 321.8h.05M35.9 369.5h.05M50.0 370.4h.05M81.1 351.9h.05M43.3 317.4h.05M77.6 310.6h.05M43.3 311.0h.05M52.3 325.3h.05M38.7 325.9h.05M33.4 314.7h.05M56.7 307.7h.05M38.4 366.3h.05M43.2 364.1h.05M33.9 354.4h.05M50.4 372.0h.05M81.4 310.5h.05M42.7 308.2h.05M36.3 310.9h.05M46.3 310.9h.05M33.6 369.7h.05M35.7 355.4h.05M54.4 306.4h.05M67.2 298.1h.05M41.1 340.4h.05M39.7 298.0h.05M48.2 368.8h.05M41.3 307.7h.05M59.1 301.8h.05M42.3 315.4h.05M34.6 366.3h.05M63.7 361.6h.05M55.5 345.7h.05M80.6 342.6h.05M72.7 371.4h.05M55.7 366.8h.05M33.9 304.6h.05M58.5 313.2h.05M39.0 309.1h.05M42.6 301.7h.05M54.1 365.2h.05M53.3 343.2h.05M33.3 302.1h.05M34.5 358.7h.05M48.0 304.9h.05M41.9 364.2h.05M37.2 361.8h.05M48.7 300.0h.05M38.8 314.0h.05M51.4 340.4h.05M45.2 296.9h.05M36.8 329.7h.05M39.6 334.3h.05M43.3 304.3h.05M61.7 301.7h.05M49.2 312.6h.05M52.5 353.5h.05M53.9 360.4h.05M70.1 355.0h.05M40.1 312.3h.05M58.0 361.7h.05M53.8 365.8h.05M63.9 370.1h.05M51.5 353.5h.05M37.4 310.3h.05M50.2 363.0h.05M34.7 322.8h.05M80.2 323.8h.05M69.8 368.7h.05M38.3 322.9h.05M55.0 311.5h.05M55.6 363.3h.05M60.7 310.3h.05M67.9 297.1h.05M53.5 334.3h.05M77.7 305.9h.05M40.2 372.2h.05M55.3 366.0h.05M52.6 302.5h.05M60.5 304.4h.05M55.0 325.7h.05M33.2 318.3h.05M34.8 307.7h.05M39.6 355.7h.05M67.5 373.0h.05M46.6 309.3h.05M36.0 317.1h.05M51.0 355.1h.05M43.9 315.4h.05M49.5 362.7h.05M53.9 368.2h.05M52.7 322.3h.05M80.6 300.1h.05M52.2 326.6h.05M42.6 357.9h.05M52.6 337.8h.05M42.0 346.2h.05M67.5 366.8h.05M79.0 297.3h.05M47.2 299.6h.05M59.3 349.6h.05M36.3 325.0h.05M42.2 314.7h.05M51.4 312.7h.05M70.7 302.3h.05M91.2 319.9h.05M76.0 300.4h.05M55.7 314.6h.05M38.7 309.4h.05M43.1 353.5h.05M39.1 363.7h.05M39.5 301.7h.05M53.8 303.0h.05M37.7 347.9h.05M80.2 343.9h.05M41.3 363.7h.05M40.7 355.8h.05M44.9 307.7h.05M34.1 297.8h.05M52.3 371.7h.05M44.4 367.3h.05M85.0 340.9h.05M73.6 351.9h.05M52.3 326.3h.05M56.8 365.6h.05M49.1 314.3h.05M60.5 355.2h.05M39.7 297.2h.05M34.9 342.8h.05M42.9 363.4h.05M95.6 304.6h.05M52.5 326.4h.05M48.0 297.4h.05M34.0 324.0h.05M38.7 309.9h.05M36.4 331.3h.05M35.6 324.9h.05M68.7 296.2h.05M55.0 334.7h.05M35.2 337.8h.05M79.0 306.7h.05M34.6 369.1h.05M53.6 325.5h.05M52.3 361.5h.05M82.4 306.3h.05M38.9 369.0h.05M35.0 300.5h.05M47.6 300.4h.05M53.8 322.0h.05M39.0 358.4h.05M53.6 367.4h.05M50.1 356.2h.05M85.1 318.9h.05M35.5 352.6h.05M40.3 305.6h.05M36.6 358.7h.05" stroke="#888" stroke-width="0.60" stroke-linecap="round" fill="none"/>
<rect x="44.5" y="375.1" width="5.5" height="2.2" fill="#111"/>
<rect x="32.00" y="294.50" width="80.30" height="80.30" fill="none" stroke="#000" stroke-width="1.4"/>
<path d="M29.5 370.1h2.5M29.5 367.4h2.5M29.5 365.5h2.5M29.5 364.0h2.5M29.5 362.8h2.5M29.5 361.7h2.5M29.5 360.8h2.5M29.5 360.1h2.5M28.4 359.4h3.6M29.5 354.7h2.5M29.5 352.0h2.5M29.5 350.0h2.5M29.5 348.6h2.5M29.5 347.3h2.5M29.5 346.3h2.5M29.5 345.4h2.5M29.5 344.6h2.5M28.4 343.9h3.6M29.5 339.2h2.5M29.5 336.5h2.5M29.5 334.6h2.5M29.5 333.1h2.5M29.5 331.9h2.5M29.5 330.8h2.5M29.5 329.9h2.5M29.5 329.2h2.5M28.4 328.5h3.6M29.5 323.8h2.5M29.5 321.1h2.5M29.5 319.1h2.5M29.5 317.7h2.5M29.5 316.4h2.5M29.5 315.4h2.5M29.5 314.5h2.5M29.5 313.7h2.5M28.4 313.0h3.6M29.5 308.3h2.5M29.5 305.6h2.5M29.5 303.7h2.5M29.5 302.2h2.5M29.5 301.0h2.5M29.5 299.9h2.5M29.5 299.0h2.5M29.5 298.3h2.5M28.4 297.6h3.6M34.0 374.8v3.4M38.7 374.8v2.3M41.4 374.8v2.3M43.3 374.8v2.3M44.8 374.8v2.3M46.0 374.8v2.3M47.1 374.8v2.3M48.0 374.8v2.3M48.7 374.8v2.3M49.5 374.8v3.4M54.1 374.8v2.3M56.8 374.8v2.3M58.8 374.8v2.3M60.2 374.8v2.3M61.5 374.8v2.3M62.5 374.8v2.3M63.4 374.8v2.3M64.2 374.8v2.3M64.9 374.8v3.4M69.6 374.8v2.3M72.3 374.8v2.3M74.2 374.8v2.3M75.7 374.8v2.3M76.9 374.8v2.3M78.0 374.8v2.3M78.9 374.8v2.3M79.6 374.8v2.3M80.3 374.8v3.4M85.0 374.8v2.3M87.7 374.8v2.3M89.7 374.8v2.3M91.1 374.8v2.3M92.4 374.8v2.3M93.4 374.8v2.3M94.3 374.8v2.3M95.1 374.8v2.3M95.8 374.8v3.4M100.5 374.8v2.3M103.2 374.8v2.3M105.1 374.8v2.3M106.6 374.8v2.3M107.8 374.8v2.3M108.9 374.8v2.3M109.8 374.8v2.3M110.5 374.8v2.3M111.2 374.8v3.4" stroke="#000" stroke-width="0.7" fill="none"/>
<path d="M64.30 296.20L53.10 316.20L53.10 345.50L73.10 369.80L100.20 369.80L100.20 296.20Z" fill="none" stroke="#000" stroke-width="1.1" stroke-linejoin="miter"/>
<text x="100.00" y="303.40" font-size="7.4" fill="#111" text-anchor="end" stroke="#111" stroke-width="0.18" textLength="26.3" lengthAdjust="spacingAndGlyphs" >CD11b+</text>
<text x="100.00" y="310.60" font-size="7.4" fill="#111" text-anchor="end" stroke="#111" stroke-width="0.18" >69.5</text>
<line x1="100.20" y1="340.30" x2="120.80" y2="340.30" stroke="#111" stroke-width="1.1" />
<path d="M117.00 336.90L124.80 340.30L117.00 343.70L118.80 340.30Z" fill="#000"/>
<path d="M165.6 351.7l-.7 0-.8 .1-.7 0-.8 0-.7 0-.8 0-.7-.1-.8 0-.5-.1-.7-.1-.7-.1-.6-.1-.6-.1-.6-.2-.5-.1-.7-.2-.6-.2-.5-.2-.5-.3-.5-.2-.5-.3-.5-.3-.3-.3-.4-.4-.3-.3-.3-.5-.2-.6 0-.7 .1-.5 .3-.5 .4-.5 .2-.2 .5-.4 .5-.4 .5-.2 .5-.3 .5-.2 .5-.2 .5-.2 .5-.2 .8-.2 .5-.1 .5-.1 .7-.2 .7-.1 .6-.1 .7-.1 .8 0 .5-.1 .7 0 .8-.1 .7 0 .8 .1 .7 0 .8 0 .5 .1 .7 0 .8 .1 .5 .1 .7 .2 .5 .1 .8 .1 .5 .2 .5 .2 .7 .2 .5 .2 .5 .2 .5 .2 .5 .3 .5 .3 .4 .3 .4 .3 .3 .5 .3 .5 .2 .5 0 .7-.1 .5-.3 .5-.4 .5-.3 .3-.5 .4-.5 .3-.4 .3-.5 .2-.5 .3-.6 .2-.5 .2-.5 .1-.6 .2-.6 .2-.5 .1-.8 .1-.5 .1-.7 .1-.8 .1-.5 .1z" fill="none" stroke="#222" stroke-width="0.5" stroke-opacity="1.0"/>
<path d="M163.9 350.2l-.8 0-.7 0-.8 0-.7 0-.5-.1-.8 0-.7-.2-.5-.1-.8-.1-.5-.2-.5-.2-.5-.2-.5-.2-.5-.3-.5-.3-.4-.4-.3-.5-.1-.5 .1-.6 .2-.5 .4-.4 .4-.3 .5-.3 .5-.3 .5-.2 .5-.2 .6-.2 .6-.2 .5-.1 .8-.1 .7-.1 .5 0 .8-.1 .7 0 .8 0 .7 0 .8 .1 .5 0 .7 .2 .5 .1 .8 .1 .5 .2 .5 .2 .7 .2 .5 .3 .4 .2 .4 .3 .5 .4 .2 .3 .2 .8-.1 .7-.3 .5-.3 .3-.5 .3-.5 .3-.5 .3-.5 .2-.5 .2-.7 .2-.5 .1-.6 .1-.7 .1-.7 .1-.5 .1z" fill="none" stroke="#222" stroke-width="0.5" stroke-opacity="1.0"/>
<path d="M162.4 349.4l-.6 0-.7 0-.7-.1-.8-.1-.5-.1-.7-.2-.5-.2-.5-.2-.5-.2-.5-.4-.3-.2-.3-.5 0-.8 .3-.5 .3-.3 .5-.3 .5-.3 .5-.2 .5-.1 .7-.2 .5-.1 .8-.2 .7 0 .5-.1 .8 0 .5 .1 .7 0 .8 .1 .6 .1 .6 .1 .5 .2 .6 .2 .6 .3 .4 .2 .4 .3 .4 .5 .2 .5-.1 .5-.3 .5-.4 .3-.5 .3-.5 .3-.5 .2-.5 .1-.8 .2-.5 .1-.7 .1-.8 .1-.6 0z" fill="none" stroke="#222" stroke-width="0.5" stroke-opacity="1.0"/>
<path d="M163.6 348.7l-.7 .1-.8 0-.7-.1-.8 0-.5-.1-.7-.2-.5-.1-.5-.3-.5-.3-.4-.3-.2-.5 .1-.5 .4-.5 .3-.2 .5-.3 .7-.2 .6-.2 .6-.1 .6-.1 .8 0 .7 0 .8 0 .5 .1 .7 .2 .5 .1 .6 .2 .5 .3 .4 .3 .3 .4 0 .8-.3 .4-.4 .3-.5 .3-.6 .2-.5 .1-.7 .1z" fill="none" stroke="#222" stroke-width="0.5" stroke-opacity="1.0"/>
<path d="M163.9 347.9l-.8 .2-.7 0-.8 0-.7-.1-.6-.1-.7-.2-.4-.3-.3-.5 0-.3 .3-.4 .4-.3 .7-.2 .6-.2 .7 0 .8-.1 .7 .1 .8 .1 .5 .2 .5 .2 .4 .4 .1 .5-.3 .4-.5 .4-.5 .2z" fill="none" stroke="#222" stroke-width="0.5" stroke-opacity="1.0"/>
<clipPath id="cp1"><rect x="146.8" y="294.1" width="50.8" height="80.8"/></clipPath><g clip-path="url(#cp1)">
<path d="M195.4 371.4l-.8 .1-.7 .1-.8 0-.7 0-.8 0-.7 0-.8 0-.7-.1-.8 0-.7-.1-.5 0-.8-.1-.7-.1-.7 0-.6-.1-.7-.1-.7-.1-.6-.1-.7-.1-.5-.1-.8-.1-.7-.1-.5-.1-.8-.1-.5-.1-.7-.1-.5-.1-.8-.1-.7-.1-.5-.1-.8-.1-.5-.1-.7-.1-.8-.1-.5-.1-.7-.1-.7-.1-.6-.1-.7-.1-.6 0-.7-.1-.7-.1-.7-.1-.6-.1-.7 0-.8-.1-.5-.1-.7-.1-.8 0-.6-.1-.6-.1-.8-.1-.6 0-.6-.2-.8-.1-.5-.1-.5-.1-.7-.3-.5-.1-.5-.2-.5-.3-.5-.3-.5-.3-.3-.4-.3-.4 0-.7 .2-.5 .4-.4 .5-.3 .5-.3 .5-.3 .5-.2 .5-.1 .6-.2 .6-.1 .6-.1 .7-.2 .7-.1 .5 0 .8-.1 .7 0 .8-.1 .7 0 .5-.1 .8 0 .7-.1 .8-.1 .5 0 .7-.1 .8-.1 .5-.1 .7-.1 .5-.1 .7-.2 .6-.2 .5-.2 .5-.3 .5-.2 .5-.2 .5-.3 .5-.2 .5-.3 .5-.2 .5-.2 .6-.2 .6-.3 .5-.1 .5-.2 .5-.2 .7-.2 .6-.2 .5-.2 .5-.1 .7-.3 .5-.1 .5-.2 .7-.2 .6-.1 .5-.2 .7-.2 .5-.1 .6-.1 .7-.2 .5-.1 .7-.1 .8-.1 .5-.1 .7 0 .8 0 .7 0 .8 0 .5 .1 .7 .2 .5 .1 .5 .2 .5 .2 .5 .3 .5 .5 .3 .3 .2 .4 .2 .8 .1 .5 0 .7-.1 .5 .1 .5 .2 .5 .5 .5 .3 .3 .5 .2 .5 .3 .6 .2 .6 .3 .5 .2 .5 .2 .5 .3 .5 .3 .4 .2 .4 .3 .5 .4 .3 .3 .4 .5 .3 .4 .2 .5 .1 .6 0 .8-.1 .5-.3 .5-.3 .5-.4 .4-.4 .3-.3 .3-.5 .3-.5 .3-.5 .2-.5 .3-.5 .1-.7 .3-.6 .1-.5 .2-.7 .1-.5 .1-.8 .1-.5 .1z" fill="#000" fill-opacity="0.190" stroke="#000" stroke-width="0.42" stroke-opacity="1.0"/>
<path d="M194.6 370.7l-.7 0-.8 .1-.7 0-.8 0-.7 0-.8 0-.7-.1-.8 0-.5-.1-.7 0-.8-.1-.7-.1-.5-.1-.8 0-.7-.1-.5-.1-.8-.1-.6-.1-.6-.1-.8-.1-.5-.1-.7-.1-.6-.1-.7-.1-.7-.1-.5-.1-.8-.1-.5-.1-.7-.1-.8-.1-.5-.1-.7-.1-.7-.1-.6-.1-.7-.1-.5-.1-.8 0-.7-.1-.5-.1-.8-.1-.7-.1-.6 0-.7-.1-.7-.1-.8-.1-.5 0-.7-.1-.8-.1-.6 0-.6-.1-.8-.1-.5-.1-.7-.2-.5-.1-.8-.2-.5-.2-.5-.2-.5-.3-.3-.3-.4-.5-.1-.5 .2-.5 .4-.3 .5-.4 .5-.2 .5-.2 .5-.2 .7-.2 .5-.1 .8-.1 .6 0 .6-.1 .8-.1 .7 0 .8 0 .7-.1 .8 0 .5 0 .7 0 .8-.1 .7 0 .8 0 .7-.1 .8 0 .5-.1 .7 0 .8-.1 .7-.1 .5 0 .8-.1 .7-.1 .5-.1 .8-.1 .7-.1 .5-.1 .6-.1 .7-.2 .5-.2 .5-.2 .5-.3 .5-.3 .5-.3 .5-.3 .4-.2 .5-.3 .5-.2 .6-.3 .5-.2 .5-.2 .5-.1 .7-.2 .5-.2 .7-.1 .6-.1 .7 0 .8 0 .7 0 .5 .1 .6 .3 .4 .2 .5 .4 .3 .4 .2 .7 .2 .5 .3 .5 .3 .3 .5 .3 .5 .2 .5 .2 .5 .3 .7 .2 .5 .1 .5 .2 .6 .2 .7 .2 .5 .2 .5 .2 .5 .2 .5 .3 .5 .3 .5 .3 .3 .3 .4 .3 .4 .5 .3 .5 .1 .5 .1 .7-.1 .6-.3 .5-.3 .4-.4 .5-.4 .3-.4 .2-.5 .3-.5 .2-.5 .3-.7 .2-.5 .2-.5 .1-.8 .2-.5 .1-.7 .1-.7 .1z" fill="#000" fill-opacity="0.190" stroke="#000" stroke-width="0.42" stroke-opacity="1.0"/>
<path d="M195.1 370.2l-.7 .1-.8 0-.7 .1-.8 0-.7 0-.8 0-.7-.1-.8 0-.7-.1-.8 0-.5-.1-.7 0-.8-.1-.5-.1-.7-.1-.8-.1-.5-.1-.7-.1-.8-.1-.5 0-.7-.2-.6 0-.7-.2-.7-.1-.5-.1-.8-.1-.5-.1-.7-.1-.8-.1-.5-.1-.7-.1-.6 0-.7-.1-.7-.2-.5 0-.8-.1-.7-.1-.5-.1-.8-.1-.7-.1-.5 0-.8-.1-.7-.1-.5-.1-.8 0-.7-.1-.8-.1-.5 0-.7-.1-.8-.1-.5-.1-.7-.1-.5-.1-.8-.2-.5-.2-.5-.2-.5-.3-.4-.3-.3-.5 .2-.6 .4-.4 .4-.3 .5-.2 .7-.3 .5-.1 .8-.1 .5-.1 .7-.1 .8 0 .7-.1 .8 0 .5 0 .7 0 .8-.1 .7 0 .8 0 .7 0 .8-.1 .7 0 .8 0 .7 0 .5-.1 .8 0 .7-.1 .8 0 .7-.1 .6 0 .7-.1 .7 0 .8-.1 .7 0 .5-.1 .8-.1 .7-.1 .5-.1 .8-.1 .5-.1 .7-.1 .5-.1 .8-.2 .5-.1 .6-.2 .6-.2 .5-.1 .8-.2 .5 0 .7 0 .5 0 .8 .2 .5 .2 .5 .1 .7 .3 .5 .1 .5 .1 .8 .2 .5 .2 .5 .1 .7 .2 .5 .1 .7 .2 .6 .1 .5 .2 .6 .2 .6 .2 .5 .2 .5 .2 .5 .2 .5 .3 .5 .3 .4 .4 .4 .3 .3 .4 .2 .5 .2 .7 0 .3-.2 .8-.3 .4-.3 .3-.4 .4-.5 .4-.5 .2-.5 .3-.5 .2-.5 .2-.5 .1-.8 .2-.5 .1-.7 .1z" fill="#000" fill-opacity="0.190" stroke="#000" stroke-width="0.42" stroke-opacity="1.0"/>
<path d="M193.1 369.9l-.7 0-.8 .1-.7-.1-.8 0-.5 0-.7-.1-.8 0-.7-.1-.7 0-.6-.1-.7-.1-.8-.1-.5-.1-.7-.1-.6 0-.7-.1-.7-.2-.5 0-.8-.2-.6 0-.6-.1-.8-.2-.5 0-.7-.2-.6 0-.7-.2-.7-.1-.5-.1-.8-.1-.5 0-.7-.2-.8-.1-.5 0-.7-.1-.8-.1-.5-.1-.7-.1-.8-.1-.5-.1-.7 0-.8-.1-.5-.1-.7-.1-.8 0-.7-.1-.5-.1-.8-.1-.6 0-.6-.2-.6-.1-.7-.2-.5-.2-.5-.3-.2-.4 0-.5 .3-.4 .4-.2 .7-.3 .6-.1 .5-.1 .7-.1 .8-.1 .7-.1 .8 0 .5 0 .7 0 .8 0 .7-.1 .8 0 .7 0 .8 0 .7 0 .8-.1 .7 0 .8 0 .5 0 .7-.1 .8 0 .7-.1 .8 0 .7-.1 .7 0 .6 0 .7-.1 .8-.1 .7 0 .5-.1 .8 0 .7-.1 .8-.1 .5 0 .7-.1 .8-.1 .5-.1 .7 0 .8-.1 .7-.1 .8 0 .7 0 .8 .1 .7 0 .8 .1 .5 .1 .7 0 .8 .2 .5 0 .7 .2 .5 .1 .8 .2 .5 .1 .6 .2 .6 .1 .5 .2 .5 .2 .5 .2 .5 .3 .5 .3 .5 .3 .3 .4 .4 .5 .2 .5 .1 .5-.1 .5-.2 .5-.3 .5-.4 .3-.5 .4-.5 .2-.5 .3-.5 .2-.5 .1-.5 .2-.7 .2-.5 .1-.8 .1-.7 .1-.7 0z" fill="#000" fill-opacity="0.190" stroke="#000" stroke-width="0.42" stroke-opacity="1.0"/>
<path d="M194.6 369.4l-.7 .1-.8 .1-.7 0-.8 0-.7 0-.8 0-.7 0-.8-.1-.7-.1-.5 0-.8-.1-.7-.1-.6 0-.7-.1-.7-.1-.5-.1-.8-.1-.7-.1-.5-.1-.8-.1-.5-.1-.7-.1-.8-.1-.5-.1-.7-.1-.5-.1-.8-.2-.6 0-.6-.2-.8-.1-.5-.1-.7-.1-.6 0-.7-.2-.7-.1-.5 0-.8-.2-.7 0-.5-.1-.8-.1-.7-.1-.5-.1-.8-.1-.7 0-.5-.1-.8-.1-.7-.1-.5 0-.8-.1-.6-.1-.6-.2-.5-.2-.5-.3-.3-.6 .5-.4 .5-.2 .5-.2 .8-.1 .7-.1 .5 0 .8 0 .7-.1 .8 0 .7 0 .8 0 .7 0 .8-.1 .7 0 .8 0 .7 0 .5-.1 .8 0 .7 0 .8-.1 .7 0 .8 0 .7-.1 .5 0 .8-.1 .7 0 .8-.1 .7 0 .5-.1 .8 0 .7-.1 .8-.1 .5 0 .7-.1 .8-.1 .7 0 .5-.1 .8 0 .7-.1 .8 0 .7 0 .8 0 .7 0 .8 0 .7 .1 .5 .1 .8 0 .7 .1 .5 .1 .8 .2 .5 .1 .7 .1 .5 .2 .6 .2 .7 .2 .5 .2 .5 .2 .5 .3 .4 .3 .3 .3 .4 .5 .3 .5 0 .7-.2 .6-.3 .4-.4 .5-.4 .3-.5 .2-.5 .3-.6 .2-.5 .1-.5 .2-.8 .1-.5 .1z" fill="#000" fill-opacity="0.190" stroke="#000" stroke-width="0.42" stroke-opacity="1.0"/>
<path d="M194.4 369.2l-.8 .1-.7 0-.8 .1-.7 0-.8 0-.7-.1-.8 0-.7-.1-.8 0-.5-.1-.7-.1-.8-.1-.5 0-.7-.1-.8-.1-.5-.1-.7-.1-.6-.1-.7-.1-.7-.1-.5-.1-.8-.1-.5-.1-.7-.1-.7-.1-.6-.1-.7-.2-.5-.1-.8-.1-.5-.1-.7-.1-.7-.1-.6-.1-.7-.1-.5-.1-.8-.1-.5-.1-.7-.1-.8-.1-.5-.1-.7-.1-.8-.1-.5 0-.7-.1-.8-.1-.5-.1-.7-.1-.8-.1-.5-.1-.5-.2-.5-.3 0-.4 .5-.3 .8-.2 .5 0 .7-.1 .8 0 .7-.1 .8 0 .7 0 .5-.1 .8 0 .7 0 .8 0 .7-.1 .8 0 .7 0 .8-.1 .5 0 .7 0 .8-.1 .7 0 .8-.1 .7 0 .5-.1 .8 0 .7-.1 .8 0 .7-.1 .5 0 .8-.1 .7-.1 .8 0 .5-.1 .7 0 .8-.1 .7-.1 .6 0 .7 0 .7-.1 .8 0 .7 0 .8 0 .7 .1 .5 0 .8 .1 .7 .1 .5 .1 .8 .1 .7 .1 .5 .1 .6 .2 .7 .1 .5 .2 .5 .2 .5 .2 .5 .3 .5 .4 .3 .3 .4 .5 .1 .5 0 .8-.3 .5-.3 .3-.5 .4-.4 .3-.5 .2-.6 .2-.5 .2-.5 .1-.7 .2-.5 .1z" fill="#000" fill-opacity="0.190" stroke="#000" stroke-width="0.42" stroke-opacity="1.0"/>
<path d="M191.9 369.2l-.8 0-.7 0-.5-.1-.8 0-.7-.1-.8 0-.6-.1-.6-.1-.8-.1-.7 0-.5-.1-.8-.1-.5-.1-.7-.1-.8-.1-.5-.1-.7-.1-.5-.1-.8-.2-.5 0-.7-.2-.7-.1-.6-.1-.7-.1-.5-.1-.8-.2-.5 0-.7-.2-.5-.1-.8-.1-.6-.1-.6-.1-.8-.1-.5-.1-.7-.2-.5 0-.8-.2-.5 0-.7-.2-.8-.1-.5-.1-.7-.1-.5-.1-.8-.2-.3-.2 .5-.3 .6-.1 .7-.1 .7 0 .6-.1 .7 0 .8-.1 .7 0 .8-.1 .5 0 .7 0 .8-.1 .7 0 .8-.1 .7 0 .5-.1 .8 0 .7-.1 .8 0 .7-.1 .5 0 .8-.1 .7-.1 .8 0 .5-.1 .7 0 .8-.1 .7-.1 .5 0 .8-.1 .7 0 .8-.1 .7 0 .5-.1 .8 0 .7 0 .8 0 .7 0 .8 0 .5 .1 .7 0 .8 .1 .7 .1 .5 .1 .8 .1 .5 .1 .7 .2 .5 .1 .5 .2 .5 .2 .5 .3 .5 .2 .5 .4 .3 .4 .3 .5 .1 .7-.2 .5-.4 .5-.3 .3-.5 .3-.5 .3-.5 .1-.7 .3-.6 .1-.5 .1-.7 .1-.8 .1-.7 0-.5 .1z" fill="#000" fill-opacity="0.190" stroke="#000" stroke-width="0.42" stroke-opacity="1.0"/>
<path d="M192.9 368.9l-.8 .1-.7 0-.8 0-.7-.1-.8 0-.5 0-.7-.1-.8-.1-.7 0-.5-.1-.8-.1-.6-.1-.6-.1-.8-.1-.5-.1-.7-.1-.6-.1-.7-.1-.7-.1-.5-.1-.8-.2-.5-.1-.7-.1-.5-.1-.8-.1-.5-.1-.7-.2-.5-.1-.8-.1-.5-.1-.7-.2-.5-.1-.8-.1-.5-.1-.7-.2-.5-.1-.8-.2-.5-.2-.5-.2 .1-.3 .7-.2 .6-.1 .6-.1 .8-.1 .7 0 .5-.1 .8-.1 .7 0 .7-.1 .6 0 .7-.1 .8-.1 .7 0 .5-.1 .8-.1 .7 0 .8-.1 .5 0 .7-.1 .8-.1 .7 0 .5-.1 .8 0 .7-.1 .8-.1 .7 0 .5 0 .8-.1 .7 0 .8 0 .7 0 .8 0 .7 .1 .5 0 .8 .1 .7 .1 .5 .1 .8 .1 .5 .1 .7 .2 .5 .2 .5 .2 .5 .2 .5 .3 .5 .3 .3 .4 .3 .5 .1 .7-.2 .5-.4 .5-.3 .3-.5 .2-.5 .3-.7 .2-.6 .2-.5 .1-.7 .1-.8 .1z" fill="#000" fill-opacity="0.190" stroke="#000" stroke-width="0.42" stroke-opacity="1.0"/>
<path d="M193.4 368.7l-.8 0-.7 .1-.8 0-.7 0-.8-.1-.7 0-.6 0-.7-.1-.7-.1-.8-.1-.5-.1-.7-.1-.7 0-.6-.1-.7-.2-.5 0-.8-.2-.5-.1-.7-.1-.6-.1-.7-.1-.6-.1-.6-.2-.7-.1-.6-.1-.6-.1-.6-.2-.5-.1-.8-.2-.5-.1-.7-.2-.5-.1-.5-.2-.6-.2-.3-.5 .6-.2 .5-.1 .8-.2 .5-.1 .7-.1 .7 0 .6-.1 .7-.1 .8-.1 .5 0 .7-.1 .8-.1 .7 0 .5-.1 .8-.1 .7 0 .6-.1 .7-.1 .7 0 .8-.1 .7 0 .5-.1 .8 0 .7 0 .8-.1 .7 0 .8 .1 .7 0 .8 0 .5 .1 .7 .1 .8 .1 .5 0 .7 .2 .5 .1 .6 .2 .6 .3 .6 .2 .4 .3 .3 .2 .5 .5 .2 .5-.1 .8-.3 .5-.3 .2-.5 .3-.5 .3-.5 .2-.7 .2-.5 .1-.8 .1z" fill="#000" fill-opacity="0.160" stroke="#000" stroke-width="0.42" stroke-opacity="1.0"/>
<path d="M193.4 368.4l-.8 .1-.7 .1-.8 0-.7 0-.8-.1-.7 0-.8-.1-.5 0-.7-.1-.8-.1-.5-.1-.7-.1-.8-.1-.5-.1-.7-.1-.5-.1-.8-.1-.5-.1-.7-.1-.6-.1-.7-.2-.5-.1-.7-.2-.5-.1-.8-.2-.5-.1-.6-.1-.6-.3-.5-.1-.5-.3-.4-.3 .4-.3 .7-.2 .5-.1 .8-.2 .5-.1 .7-.1 .6 0 .7-.1 .7-.1 .7-.1 .6-.1 .7 0 .8-.1 .5-.1 .7 0 .8-.1 .7-.1 .5 0 .8-.1 .7 0 .8 0 .7 0 .8 0 .7 0 .8 0 .7 .1 .5 0 .8 .1 .7 .1 .5 .1 .7 .2 .6 .2 .5 .2 .5 .2 .5 .3 .4 .4 .3 .3 .2 .7-.2 .6-.3 .4-.4 .3-.5 .3-.5 .2-.6 .2-.7 .1-.5 .1z" fill="#000" fill-opacity="0.160" stroke="#000" stroke-width="0.42" stroke-opacity="1.0"/>
<path d="M193.4 368.2l-.8 .1-.7 0-.8 0-.7 0-.8 0-.7 0-.8-.1-.5 0-.7-.1-.8-.1-.5-.1-.7-.1-.8-.1-.5-.1-.7-.1-.5-.1-.8-.2-.5-.1-.7-.1-.5-.2-.8-.1-.5-.2-.5-.1-.7-.2-.5-.2-.5-.2-.5-.4 0-.2 .5-.3 .7-.2 .5-.1 .8-.2 .5 0 .7-.1 .7-.1 .6-.1 .7-.1 .8-.1 .5 0 .7-.1 .8-.1 .7 0 .5-.1 .8 0 .7-.1 .8 0 .7 0 .8 0 .7 0 .8 .1 .5 .1 .7 0 .8 .1 .5 .1 .7 .2 .5 .2 .5 .2 .5 .2 .5 .3 .4 .4 .2 .5-.1 .8-.2 .3-.5 .4-.5 .2-.5 .2-.5 .2-.8 .1z" fill="#000" fill-opacity="0.160" stroke="#000" stroke-width="0.42" stroke-opacity="1.0"/>
<path d="M193.4 367.9l-.8 .2-.7 0-.8 0-.7 0-.8 0-.7 0-.8-.1-.7-.1-.5 0-.8-.1-.7-.1-.5-.1-.8-.2-.5 0-.7-.2-.5-.1-.8-.2-.5-.1-.7-.1-.5-.2-.5-.1-.7-.2-.6-.3-.4-.2 .2-.6 .5-.2 .7-.2 .5-.1 .8-.1 .5-.1 .7-.1 .8-.1 .5-.1 .7-.1 .8-.1 .5 0 .7-.1 .8 0 .7 0 .8-.1 .7 0 .8 0 .7 .1 .8 0 .7 .1 .5 .1 .8 .1 .5 .1 .7 .2 .5 .2 .5 .2 .5 .3 .3 .3 .3 .5-.1 .7-.2 .3-.5 .4-.5 .2-.5 .2-.8 .2z" fill="#000" fill-opacity="0.160" stroke="#000" stroke-width="0.42" stroke-opacity="1.0"/>
<path d="M191.6 367.9l-.7 0-.8 0-.5 0-.7 0-.8-.1-.7-.1-.5-.1-.8-.1-.7-.1-.5-.1-.8-.1-.5-.1-.7-.2-.5-.1-.7-.1-.6-.2-.5-.2-.5-.2-.5-.2-.3-.5 .3-.2 .7-.3 .6-.1 .5-.2 .7-.1 .7-.1 .6-.1 .7-.1 .8 0 .5-.1 .7-.1 .8 0 .7 0 .8 0 .7 0 .8 0 .7 0 .8 .1 .5 .1 .7 .1 .6 .1 .7 .2 .5 .2 .5 .2 .4 .4 .3 .4 0 .6-.2 .4-.5 .4-.5 .2-.5 .2-.5 .1-.8 .1-.7 .1z" fill="#000" fill-opacity="0.160" stroke="#000" stroke-width="0.42" stroke-opacity="1.0"/>
<path d="M191.9 367.7l-.8 0-.7 0-.8 0-.6 0-.6-.1-.8-.1-.7-.1-.5-.1-.8-.1-.5-.1-.7-.1-.5-.1-.8-.2-.5-.2-.5-.1-.6-.2-.4-.3 0-.6 .5-.3 .5-.1 .8-.2 .5-.1 .7-.1 .8-.1 .5 0 .7-.1 .8-.1 .7 0 .8 0 .7 0 .8 0 .7 .1 .8 0 .5 .1 .7 .1 .5 .2 .7 .2 .5 .3 .4 .2 .4 .5-.2 .8-.3 .2-.5 .3-.7 .2-.5 .1-.8 .1z" fill="#000" fill-opacity="0.160" stroke="#000" stroke-width="0.42" stroke-opacity="1.0"/>
<path d="M191.6 367.4l-.7 .1-.8 0-.7-.1-.6 0-.7-.1-.7-.1-.6 0-.7-.2-.7-.1-.5-.1-.6-.1-.7-.3-.5-.2-.5-.2-.3-.3 .3-.4 .5-.2 .8-.2 .5-.1 .7-.1 .5-.1 .8-.1 .7 0 .8-.1 .7 0 .8 0 .7 .1 .8 0 .7 .1 .5 .1 .8 .2 .5 .2 .5 .2 .4 .4 .1 .5-.3 .5-.3 .2-.7 .3-.5 .1-.7 .1z" fill="#000" fill-opacity="0.160" stroke="#000" stroke-width="0.42" stroke-opacity="1.0"/>
<path d="M191.1 367.2l-.7 0-.8 0-.5-.1-.7 0-.8-.1-.5-.1-.7-.1-.5-.2-.8-.2-.5-.2-.5-.2 0-.5 .5-.3 .5-.1 .8-.2 .5 0 .7-.1 .8-.1 .7 0 .8 0 .7 0 .8 .1 .6 .1 .6 .1 .5 .2 .5 .2 .5 .5 0 .4-.4 .4-.5 .2-.6 .1-.7 .1z" fill="#000" fill-opacity="0.160" stroke="#000" stroke-width="0.42" stroke-opacity="1.0"/>
<path d="M191.9 366.7l-.8 .1-.7 0-.8 0-.7 0-.8-.1-.5-.1-.7-.2-.5-.1-.5-.3 0-.4 .5-.2 .7-.2 .5-.1 .8 0 .7 0 .8 0 .7 0 .5 .1 .7 .2 .6 .2 .2 .3-.2 .5-.5 .3z" fill="#000" fill-opacity="0.160" stroke="#000" stroke-width="0.42" stroke-opacity="1.0"/>
<path d="M190.9 366.2l-.5 .1-.5 0-.5 0-.5-.1-.5 0-.3-.3 0-.1 .3-.1 .5-.1 .5 0 .5 0 .5 0 .2 .1 .3 .2 0 .3z" fill="#000" fill-opacity="0.160" stroke="#000" stroke-width="0.42" stroke-opacity="1.0"/>
</g>
<path d="M171.4 331.2h.05M183.9 328.6h.05M193.6 348.7h.05M163.9 357.2h.05M191.1 350.6h.05M161.3 355.3h.05M202.5 372.4h.05M158.9 353.7h.05M151.5 352.3h.05M200.0 339.9h.05M177.4 351.8h.05M177.2 356.4h.05M174.2 349.5h.05M200.7 348.3h.05M149.2 367.6h.05M199.4 348.5h.05M159.2 341.3h.05M199.1 358.7h.05M204.9 355.7h.05M165.3 352.2h.05M198.3 340.8h.05M201.2 359.7h.05M186.8 348.0h.05M172.8 356.1h.05M160.5 338.2h.05M197.2 358.1h.05M157.9 371.2h.05M150.0 360.5h.05M203.5 363.9h.05M150.0 367.7h.05M177.5 352.7h.05M157.7 358.8h.05M200.1 348.1h.05M176.2 344.3h.05M158.9 352.9h.05M202.9 346.7h.05M153.0 341.6h.05M170.9 353.7h.05M169.0 370.9h.05M192.3 371.8h.05M204.1 345.8h.05M169.2 371.1h.05M177.7 355.4h.05M166.8 353.2h.05M158.5 368.2h.05M167.0 357.5h.05M198.8 350.3h.05M150.4 360.0h.05M199.9 342.6h.05M161.4 357.2h.05M165.4 356.2h.05M200.3 348.7h.05M204.2 338.1h.05M196.5 339.1h.05M196.8 357.9h.05M178.7 352.3h.05M202.4 357.1h.05M198.7 353.8h.05M150.5 353.1h.05M154.8 360.3h.05M154.6 356.6h.05M169.3 353.7h.05M178.9 340.1h.05M154.8 356.7h.05M151.8 373.0h.05M179.5 352.8h.05M180.9 347.5h.05M149.3 357.5h.05M159.8 353.3h.05M184.5 352.4h.05M153.6 360.3h.05M161.0 368.9h.05M181.2 348.7h.05M181.7 373.2h.05M199.8 343.6h.05M152.3 338.6h.05M166.3 337.4h.05M157.6 371.7h.05M162.4 329.2h.05M151.8 367.8h.05M174.4 373.2h.05M179.4 340.7h.05M196.3 326.8h.05M198.1 342.4h.05M179.7 336.6h.05M167.7 355.6h.05M202.5 356.1h.05M199.6 360.0h.05M186.5 349.6h.05M203.6 358.1h.05M181.4 337.9h.05M167.0 351.6h.05M172.9 336.3h.05M174.4 357.0h.05M187.1 352.6h.05M158.3 361.0h.05M153.1 362.5h.05M203.5 353.4h.05M190.6 373.2h.05M154.8 351.9h.05M199.1 372.9h.05M153.0 353.9h.05M186.9 347.3h.05M201.3 370.8h.05M169.1 340.9h.05M197.3 355.7h.05M149.3 358.3h.05M185.8 372.1h.05M154.9 356.6h.05M163.1 359.9h.05M151.9 368.5h.05M184.5 372.7h.05M193.4 344.7h.05M154.6 351.8h.05M167.1 359.6h.05M152.6 362.8h.05M192.6 352.9h.05M182.0 345.9h.05M150.0 341.3h.05M191.6 347.9h.05M167.1 352.8h.05M174.9 354.9h.05M150.8 366.5h.05M160.2 359.8h.05M171.0 359.3h.05M149.9 355.0h.05M208.2 366.3h.05M178.0 340.3h.05M173.9 372.5h.05M182.1 345.3h.05M204.4 346.3h.05M163.6 355.7h.05M187.9 341.1h.05M183.1 372.6h.05M184.1 353.3h.05M201.1 344.7h.05M151.3 335.1h.05M173.9 358.4h.05M206.5 360.7h.05M169.0 369.1h.05M201.7 355.8h.05M176.2 337.3h.05M186.3 372.6h.05M155.8 358.9h.05M152.4 355.7h.05M155.2 352.9h.05M153.4 360.2h.05M182.2 344.1h.05M152.7 357.0h.05M149.6 357.1h.05M184.4 341.5h.05M177.6 342.1h.05M197.2 341.2h.05M198.4 357.9h.05M176.2 371.9h.05M174.3 324.1h.05M203.8 364.0h.05M164.5 359.2h.05M159.1 371.9h.05M189.8 353.2h.05M198.7 341.2h.05M177.4 353.7h.05M202.5 330.2h.05M175.8 347.9h.05M184.3 339.1h.05M158.0 354.4h.05M182.8 339.6h.05M204.2 368.5h.05M203.6 363.8h.05M151.0 356.7h.05" stroke="#888" stroke-width="0.72" stroke-linecap="round" fill="none"/>
<rect x="146.80" y="294.10" width="79.60" height="80.80" fill="none" stroke="#000" stroke-width="1.4"/>
<path d="M144.3 370.2h2.5M144.3 367.5h2.5M144.3 365.6h2.5M144.3 364.1h2.5M144.3 362.9h2.5M144.3 361.8h2.5M144.3 360.9h2.5M144.3 360.2h2.5M143.2 359.4h3.6M144.3 354.8h2.5M144.3 352.1h2.5M144.3 350.1h2.5M144.3 348.7h2.5M144.3 347.4h2.5M144.3 346.4h2.5M144.3 345.5h2.5M144.3 344.7h2.5M143.2 344.0h3.6M144.3 339.3h2.5M144.3 336.6h2.5M144.3 334.7h2.5M144.3 333.2h2.5M144.3 332.0h2.5M144.3 330.9h2.5M144.3 330.0h2.5M144.3 329.3h2.5M143.2 328.5h3.6M144.3 323.9h2.5M144.3 321.2h2.5M144.3 319.2h2.5M144.3 317.8h2.5M144.3 316.5h2.5M144.3 315.5h2.5M144.3 314.6h2.5M144.3 313.8h2.5M143.2 313.1h3.6M144.3 308.4h2.5M144.3 305.7h2.5M144.3 303.8h2.5M144.3 302.3h2.5M144.3 301.1h2.5M144.3 300.0h2.5M144.3 299.1h2.5M144.3 298.4h2.5M143.2 297.6h3.6M148.8 374.9v3.4M153.5 374.9v2.3M156.2 374.9v2.3M158.1 374.9v2.3M159.6 374.9v2.3M160.8 374.9v2.3M161.9 374.9v2.3M162.8 374.9v2.3M163.5 374.9v2.3M164.2 374.9v3.4M168.9 374.9v2.3M171.6 374.9v2.3M173.6 374.9v2.3M175.0 374.9v2.3M176.3 374.9v2.3M177.3 374.9v2.3M178.2 374.9v2.3M179.0 374.9v2.3M179.7 374.9v3.4M184.4 374.9v2.3M187.1 374.9v2.3M189.0 374.9v2.3M190.5 374.9v2.3M191.7 374.9v2.3M192.8 374.9v2.3M193.7 374.9v2.3M194.4 374.9v2.3M195.2 374.9v3.4M199.8 374.9v2.3M202.5 374.9v2.3M204.5 374.9v2.3M205.9 374.9v2.3M207.2 374.9v2.3M208.2 374.9v2.3M209.1 374.9v2.3M209.9 374.9v2.3M210.6 374.9v3.4M215.3 374.9v2.3M218.0 374.9v2.3M219.9 374.9v2.3M221.4 374.9v2.3M222.6 374.9v2.3M223.7 374.9v2.3M224.6 374.9v2.3M225.3 374.9v2.3" stroke="#000" stroke-width="0.7" fill="none"/>
<path d="M148.70 335.50L183.30 335.50L182.80 344.60L166.90 354.30L149.10 354.30Z" fill="none" stroke="#000" stroke-width="1.1" stroke-linejoin="miter"/>
<path d="M167.60 356.10L191.10 344.60L197.60 344.60L198.10 371.80L168.30 369.50Z" fill="none" stroke="#000" stroke-width="1.1" stroke-linejoin="miter"/>
<path d="M149.40 356.10L168.00 356.10L168.00 369.50L149.40 369.50Z" fill="none" stroke="#000" stroke-width="1.1" stroke-linejoin="miter"/>
<text x="153.50" y="326.40" font-size="7.2" fill="#111" text-anchor="start" stroke="#111" stroke-width="0.18" >Eos</text>
<text x="153.30" y="332.60" font-size="7.2" fill="#111" text-anchor="start" stroke="#111" stroke-width="0.18" >4.06</text>
<path d="M149.2 360.3h8.6v6.6h5.4v6.3h-14z" fill="#fff" fill-opacity="0.85"/>
<text x="149.60" y="366.40" font-size="7.2" fill="#111" text-anchor="start" stroke="#111" stroke-width="0.18" >Mo</text>
<text x="149.60" y="372.80" font-size="7.2" fill="#111" text-anchor="start" stroke="#111" stroke-width="0.18" >10.6</text>
<text x="200.80" y="362.80" font-size="7.2" fill="#111" text-anchor="start" stroke="#111" stroke-width="0.18" >PMN</text>
<text x="200.80" y="369.40" font-size="7.2" fill="#111" text-anchor="start" stroke="#111" stroke-width="0.18" >84.5</text>
<text x="35.30" y="403.80" font-size="8.1" fill="#6ab04c" text-anchor="start" stroke="#6ab04c" stroke-width="0.18" textLength="36.4" lengthAdjust="spacingAndGlyphs" >Runx1 KO</text>
<path d="M44.5 443.7C40 443 36 443 35.3 445.5C35 448 36 450 38 450.5C40 451 43 451 44.5 451M49.5 443.5C52 443 54 444 56.3 445.5C55 448 52 450 49.5 451.5" fill="none" stroke="#111" stroke-width="0.7"/>
<path d="M47.3 480.6l-.7-.1-.3-.4-.2-.4-.3-.7-.2-.5-.1-.5-.2-.8-.1-.4-.2-.8 0-.5-.2-.8 0-.4-.1-.8-.1-.8-.1-.4-.1-.8 0-.8-.1-.7 0-.5-.1-.8-.1-.7 0-.8 0-.7-.1-.5 0-.8 0-.7-.1-.8 0-.7 0-.8 0-.7 0-.8 0-.7 0-.8 0-.7 0-.8 0-.7 0-.8 0-.7 0-.8 0-.7 0-.8 .1-.7 0-.8 0-.7 0-.8 .1-.4 0-.8 0-.8 .1-.7 0-.8 0-.7 .1-.8 0-.4 0-.8 .1-.8 0-.7 .1-.8 0-.5 .1-.7 .1-.8 0-.7 .1-.6 .1-.6 0-.8 .1-.8 .1-.4 .1-.8 .1-.5 .1-.8 .1-.6 .2-.6 .1-.5 .2-.8 .2-.4 .3-.6 .3-.3 .5 .1 .4 .5 .2 .5 .2 .5 .2 .8 .1 .4 .1 .8 .1 .5 .1 .8 .1 .4 .1 .8 .1 .8 .1 .4 .1 .8 0 .8 .1 .6 .1 .6 0 .8 .1 .7 0 .8 .1 .4 0 .8 .1 .8 0 .7 .1 .8 0 .7 0 .5 .1 .8 0 .7 0 .8 .1 .7 0 .8 0 .7 0 .8 0 .7 .1 .5 0 .8 0 .7 0 .8 0 .7 0 .8 0 .7 0 .8 0 .7 0 .8 0 .7 0 .8 0 .7 0 .8-.1 .4 0 .8 0 .8 0 .7-.1 .8 0 .7-.1 .8 0 .4-.1 .8 0 .8-.1 .7-.1 .7 0 .6-.1 .7-.1 .8-.1 .4-.1 .8-.1 .5-.1 .8-.1 .5-.2 .7-.1 .5-.2 .7-.2 .6-.2 .4-.3 .6-.3 .3z" fill="#000" fill-opacity="0.300" stroke="#000" stroke-width="0.4" stroke-opacity="1.0"/>
<path d="M47.3 475.3l-.6-.1-.4-.4-.2-.6-.1-.4-.2-.6-.2-.7-.1-.5-.1-.8-.1-.7-.1-.5-.1-.8 0-.7-.1-.5-.1-.8 0-.7-.1-.8 0-.6 0-.6-.1-.8 0-.7 0-.8-.1-.7 0-.8 0-.7 0-.8 0-.7 0-.8 0-.7 0-.8 0-.7 0-.8 .1-.7 0-.8 0-.7 0-.8 0-.7 .1-.8 0-.5 0-.7 .1-.8 0-.7 0-.8 .1-.7 0-.8 .1-.4 0-.8 .1-.8 .1-.7 0-.5 .1-.8 .1-.7 .1-.5 .1-.8 .1-.7 .1-.5 .1-.8 .2-.4 .1-.6 .3-.4 .4-.4 .4 .4 .3 .4 .1 .6 .2 .7 .1 .5 .2 .8 0 .4 .2 .8 0 .8 .1 .4 .1 .8 .1 .8 0 .5 .1 .7 0 .8 .1 .7 0 .8 .1 .4 0 .8 0 .8 .1 .7 0 .8 0 .7 .1 .8 0 .7 0 .5 0 .8 0 .7 .1 .8 0 .7 0 .8 0 .7 0 .8 0 .7 0 .8 0 .7 0 .8-.1 .7 0 .8 0 .6 0 .6-.1 .8 0 .7 0 .8-.1 .7-.1 .7 0 .6-.1 .7 0 .8-.1 .4-.1 .8-.1 .8-.1 .4-.1 .8-.2 .5-.2 .7-.1 .6-.2 .4-.4 .6z" fill="#000" fill-opacity="0.300" stroke="#000" stroke-width="0.4" stroke-opacity="1.0"/>
<path d="M47.0 472.6l-.5-.3-.2-.5-.2-.6-.1-.4-.2-.8-.1-.5-.1-.8-.1-.5 0-.7-.1-.8-.1-.7 0-.5-.1-.8 0-.7-.1-.8 0-.7 0-.8-.1-.4 0-.8 0-.8 0-.7 0-.8 0-.7 0-.8 0-.7 0-.8 0-.7 0-.8 .1-.4 0-.8 0-.8 0-.7 .1-.8 0-.7 0-.8 .1-.7 0-.5 .1-.8 0-.7 .1-.8 0-.7 .1-.5 .1-.8 .1-.7 0-.5 .1-.8 .1-.6 .2-.6 .1-.5 .2-.7 .3-.4 .5 .2 .2 .5 .3 .6 .1 .6 .1 .7 .1 .5 .1 .8 .1 .7 .1 .5 0 .8 .1 .7 .1 .5 0 .8 .1 .7 0 .8 .1 .7 0 .8 0 .4 .1 .8 0 .8 0 .7 0 .8 .1 .7 0 .8 0 .7 0 .8 0 .7 0 .8 0 .7 0 .8 0 .7 0 .8 0 .7-.1 .8 0 .7 0 .8-.1 .7 0 .5 0 .8-.1 .7-.1 .8-.1 .6 0 .6-.1 .8-.1 .4-.1 .8-.2 .5-.1 .8-.2 .4-.2 .6-.5 .3z" fill="#000" fill-opacity="0.300" stroke="#000" stroke-width="0.4" stroke-opacity="1.0"/>
<path d="M47.3 470.3l-.6-.1-.3-.4-.1-.6-.2-.7-.1-.5-.2-.8 0-.4-.1-.8-.1-.8-.1-.6 0-.6-.1-.8 0-.7 0-.8-.1-.7 0-.8 0-.7 0-.5 0-.8 0-.7 0-.8 0-.7 0-.8 0-.4 0-.8 0-.8 .1-.7 0-.8 0-.7 0-.8 .1-.7 0-.8 .1-.4 0-.8 .1-.8 0-.7 .1-.5 .1-.8 .1-.7 0-.5 .2-.8 .1-.6 .2-.6 .2-.5 .3-.3 .3 .3 .2 .6 .2 .6 .1 .6 .2 .7 0 .7 .1 .6 .1 .7 .1 .8 0 .4 .1 .8 0 .8 .1 .7 0 .8 0 .5 .1 .7 0 .8 0 .7 .1 .8 0 .7 0 .8 0 .7 0 .8 0 .7 0 .8 0 .7 0 .8 0 .7 0 .8-.1 .7 0 .8 0 .7-.1 .5 0 .8-.1 .7-.1 .8 0 .4-.1 .8-.1 .8-.1 .4-.2 .8-.1 .5-.2 .5z" fill="#000" fill-opacity="0.300" stroke="#000" stroke-width="0.4" stroke-opacity="1.0"/>
<path d="M47.0 468.6l-.4-.4-.2-.4-.1-.6-.2-.7-.1-.5-.1-.8-.1-.7 0-.5-.1-.8 0-.7-.1-.8 0-.7 0-.8 0-.7-.1-.5 0-.8 0-.7 0-.8 0-.7 0-.8 0-.7 .1-.5 0-.8 0-.7 0-.8 .1-.7 0-.8 .1-.7 0-.7 0-.6 .1-.7 .1-.8 0-.6 .1-.6 .1-.8 .1-.4 .2-.8 .2-.5 .3-.3 .3 .3 .2 .8 .2 .4 .1 .8 .1 .5 .1 .8 0 .7 .1 .5 .1 .8 0 .7 .1 .8 0 .6 0 .6 .1 .8 0 .7 0 .8 0 .7 .1 .8 0 .7 0 .8 0 .7 0 .8 0 .7 0 .8-.1 .7 0 .8 0 .7-.1 .8 0 .5-.1 .7 0 .8-.1 .7-.1 .5-.1 .8-.1 .6-.2 .6-.1 .5-.3 .5z" fill="#000" fill-opacity="0.300" stroke="#000" stroke-width="0.4" stroke-opacity="1.0"/>
<path d="M47.0 466.9l-.3-.4-.2-.5-.2-.7-.1-.6-.1-.7-.1-.5 0-.8-.1-.7 0-.8-.1-.7 0-.6 0-.6 0-.8-.1-.8 0-.7 0-.8 .1-.7 0-.8 0-.7 0-.7 0-.6 .1-.7 0-.8 0-.7 .1-.8 0-.7 .1-.5 .1-.8 .1-.7 0-.5 .2-.8 .1-.4 .3-.6 .4 .3 .1 .5 .2 .5 .1 .8 .1 .7 .1 .5 0 .8 .1 .7 0 .8 .1 .4 0 .8 .1 .8 0 .7 0 .8 0 .7 0 .8 .1 .7 0 .8 0 .7-.1 .8 0 .7 0 .8 0 .7-.1 .8 0 .7-.1 .5 0 .8-.1 .7-.1 .7-.1 .6-.2 .6-.2 .6-.2 .4z" fill="#000" fill-opacity="0.300" stroke="#000" stroke-width="0.4" stroke-opacity="1.0"/>
<path d="M47.0 465.1l-.3-.4-.2-.4-.1-.8-.1-.5-.1-.8-.1-.7 0-.8-.1-.4 0-.8 0-.8 0-.7 0-.8 0-.7 0-.8 0-.7 0-.8 0-.7 0-.8 .1-.4 0-.8 .1-.8 0-.7 .1-.8 .1-.4 .1-.8 .1-.5 .2-.8 .4 .1 .2 .4 .1 .8 .1 .5 .1 .8 .1 .7 0 .5 .1 .8 0 .7 .1 .8 0 .7 0 .8 0 .7 0 .8 0 .7 0 .8 0 .7 0 .8 0 .7-.1 .8 0 .7-.1 .8 0 .4-.1 .8-.1 .8-.1 .4-.2 .6z" fill="#000" fill-opacity="0.300" stroke="#000" stroke-width="0.4" stroke-opacity="1.0"/>
<path d="M47.0 463.3l-.2-.3-.2-.8-.1-.4-.1-.8-.1-.8 0-.4-.1-.8 0-.8 0-.7 0-.8 0-.7 0-.8 0-.7 0-.8 .1-.7 0-.5 .1-.8 0-.7 .1-.8 .1-.4 .2-.8 .2-.4 .3 .6 .1 .6 .1 .7 .1 .5 0 .8 .1 .7 0 .8 .1 .7 0 .8 0 .4 0 .8 0 .8 0 .7 0 .5 0 .8-.1 .7 0 .8-.1 .7-.1 .6-.1 .6-.1 .6-.2 .5z" fill="#000" fill-opacity="0.300" stroke="#000" stroke-width="0.4" stroke-opacity="1.0"/>
<path d="M47.0 461.0l-.2-.2-.1-.8-.1-.8-.1-.4 0-.8 0-.8 0-.7 0-.8 0-.7 0-.8 0-.7 .1-.5 .1-.8 .1-.7 .2-.4 .3 .6 0 .6 .1 .7 .1 .8 0 .7 0 .8 0 .6 .1 .6-.1 .5 0 .8 0 .7-.1 .8-.1 .7-.1 .5-.2 .5z" fill="#000" fill-opacity="0.300" stroke="#000" stroke-width="0.4" stroke-opacity="1.0"/>
<path d="M73.8 472.6l-.8 .1-.7 0-.8 0-.7-.1-.5-.2-.5-.2-.5-.2-.5-.3-.5-.4-.4-.3-.4-.3-.5-.4-.2-.3-.4-.5-.4-.4-.2-.4-.4-.4-.3-.6-.3-.4-.2-.4-.3-.5-.2-.4-.3-.6-.2-.5-.3-.6-.2-.6-.2-.4-.2-.6-.2-.4-.2-.7-.2-.6-.1-.5-.2-.6-.2-.6-.1-.6-.1-.7-.1-.5-.2-.8-.1-.4-.1-.8-.1-.8-.1-.4 0-.8-.1-.8-.1-.6 0-.6 0-.8-.1-.7 0-.8 0-.7 0-.8 0-.7 .1-.8 0-.7 0-.6 .1-.6 .1-.8 0-.8 .1-.4 .1-.8 .1-.8 .1-.4 .2-.8 .1-.5 .1-.8 .1-.4 .2-.7 .2-.6 .1-.5 .2-.6 .2-.6 .2-.6 .2-.4 .2-.6 .2-.5 .2-.6 .3-.5 .2-.6 .3-.4 .2-.5 .3-.4 .3-.4 .3-.6 .4-.4 .2-.4 .4-.4 .4-.5 .2-.3 .5-.4 .4-.3 .4-.3 .5-.4 .5-.3 .5-.2 .5-.2 .5-.2 .7-.1 .5-.2 .5-.2 .6-.1 .6-.3 .6-.2 .5-.2 .5-.1 .8-.2 .7 0 .8 .2 .5 .1 .5 .2 .5 .3 .5 .3 .4 .4 .3 .2 .5 .5 .2 .3 .4 .4 .3 .6 .3 .4 .3 .5 .2 .5 .3 .6 .2 .4 .2 .6 .2 .4 .1 .6 .3 .7 .1 .5 .1 .7 .2 .6 .1 .7 0 .5 .1 .8 .1 .7 0 .8 0 .7 0 .8 0 .7 0 .8-.1 .7-.1 .7 0 .6-.1 .7-.1 .8 0 .7 0 .8 0 .7 0 .8 .1 .7 0 .8 0 .7 0 .8 0 .7 0 .8-.1 .7 0 .8-.1 .4 0 .8-.1 .8-.1 .7 0 .5-.1 .8-.2 .5-.1 .7-.1 .7-.1 .6-.2 .5-.1 .7-.1 .5-.2 .8-.2 .4-.1 .6-.2 .6-.3 .6-.2 .5-.2 .5-.2 .5-.2 .5-.2 .5-.3 .5-.2 .5-.3 .5-.3 .5-.3 .5-.4 .5-.2 .3-.3 .4-.5 .5-.2 .3-.5 .5-.3 .2-.5 .5-.4 .3-.4 .2-.5 .3-.5 .2-.7 .3z" fill="#000" fill-opacity="0.130" stroke="#000" stroke-width="0.45" stroke-opacity="1.0"/>
<path d="M73.5 469.1l-.8 .1-.8 0-.7-.1-.5-.1-.6-.2-.5-.3-.5-.2-.4-.4-.5-.4-.3-.2-.5-.5-.2-.3-.5-.5-.2-.4-.3-.4-.4-.4-.3-.6-.3-.4-.2-.6-.3-.4-.2-.6-.2-.4-.1-.6-.2-.6-.3-.6-.1-.5-.2-.5-.2-.8-.1-.4-.2-.8-.1-.5-.1-.7-.1-.6-.1-.7-.1-.5-.1-.8-.1-.7 0-.5-.1-.8 0-.7 0-.8-.1-.7 0-.8 .1-.7 0-.8 0-.7 .1-.8 0-.4 .1-.8 .1-.8 0-.5 .2-.7 .1-.8 .1-.4 .1-.8 .1-.5 .2-.6 .2-.6 .1-.6 .2-.5 .2-.7 .2-.5 .2-.5 .2-.5 .2-.5 .3-.5 .2-.5 .3-.5 .2-.5 .4-.5 .3-.5 .3-.4 .3-.4 .4-.4 .3-.4 .5-.4 .3-.2 .5-.4 .5-.4 .5-.2 .5-.3 .5-.2 .4-.3 .4-.2 .4-.3 .5-.3 .5-.4 .5-.3 .4-.2 .5-.3 .6-.2 .5-.1 .8-.1 .7 .1 .5 .2 .5 .2 .5 .3 .5 .3 .3 .3 .5 .4 .2 .4 .4 .4 .3 .6 .3 .4 .2 .5 .3 .5 .2 .6 .2 .4 .2 .6 .1 .6 .2 .6 .1 .5 .2 .8 0 .6 .1 .6 .1 .8 0 .7 0 .8 0 .7 0 .8-.1 .7-.1 .5-.1 .8-.1 .7-.1 .5-.1 .8 0 .5-.1 .7-.1 .8 0 .7 0 .8 0 .7 .1 .8 0 .7 0 .8-.1 .7 0 .8-.1 .7 0 .5-.1 .8 0 .7-.1 .8-.1 .4-.1 .8-.1 .5-.2 .8-.1 .4-.2 .8-.1 .5-.2 .5-.2 .8-.1 .4-.2 .6-.2 .4-.2 .7-.3 .6-.2 .5-.3 .5-.2 .5-.3 .4-.2 .4-.3 .4-.4 .6-.4 .4-.2 .3-.4 .5-.4 .3-.5 .4-.3 .3-.4 .3-.5 .3-.5 .2-.5 .2z" fill="#000" fill-opacity="0.130" stroke="#000" stroke-width="0.45" stroke-opacity="1.0"/>
<path d="M73.0 467.0l-.7 .1-.8 0-.5-.1-.7-.2-.5-.1-.5-.2-.5-.3-.5-.3-.5-.4-.3-.2-.5-.5-.2-.3-.4-.5-.3-.5-.3-.5-.2-.5-.3-.5-.1-.5-.2-.5-.1-.8-.1-.5-.1-.7-.1-.8-.1-.4-.2-.7-.1-.6-.2-.5-.1-.8-.1-.5-.1-.7-.1-.8-.1-.4-.1-.8 0-.8-.1-.7 0-.5 0-.8 0-.7 0-.8 0-.7 0-.5 .1-.8 0-.7 .1-.8 .1-.4 .1-.8 .1-.7 .1-.6 .1-.7 .2-.5 .1-.6 .2-.6 .1-.6 .2-.5 .2-.7 .2-.5 .2-.5 .2-.5 .3-.5 .2-.5 .3-.5 .3-.5 .3-.5 .3-.4 .3-.4 .4-.4 .3-.3 .5-.5 .3-.2 .5-.4 .5-.3 .5-.3 .3-.3 .4-.3 .5-.4 .4-.3 .3-.3 .5-.4 .4-.3 .4-.3 .5-.4 .5-.2 .5-.2 .5-.1 .8-.1 .5 .1 .7 .2 .5 .2 .4 .3 .4 .2 .5 .5 .2 .3 .4 .5 .3 .5 .3 .5 .2 .5 .2 .5 .2 .5 .2 .5 .2 .7 .1 .6 .1 .5 .2 .7 .1 .8 0 .6 0 .6 0 .8 0 .7 0 .5-.1 .8-.1 .7 0 .6-.2 .6-.1 .8-.1 .5-.1 .8-.1 .4-.1 .8 0 .8-.1 .7 0 .8 0 .7 0 .8 0 .7 0 .8 0 .4 0 .8-.1 .8-.1 .7 0 .6-.1 .6-.2 .8 0 .5-.2 .8-.1 .4-.2 .8-.1 .5-.2 .5-.2 .8-.2 .4-.1 .6-.2 .4-.2 .6-.3 .5-.2 .6-.3 .5-.2 .5-.3 .4-.3 .4-.3 .6-.4 .4-.3 .3-.5 .5-.3 .2-.4 .3-.5 .4-.5 .2-.5 .2-.7 .2z" fill="#000" fill-opacity="0.130" stroke="#000" stroke-width="0.45" stroke-opacity="1.0"/>
<path d="M72.8 466.3l-.8 .1-.7 0-.6-.1-.7-.2-.5-.2-.5-.2-.5-.3-.5-.3-.3-.4-.4-.3-.3-.4-.4-.5-.3-.5-.2-.5-.3-.5-.2-.5-.1-.5-.1-.8-.1-.7 0-.5 0-.8 0-.7-.1-.8-.1-.7-.1-.5-.2-.8-.1-.4-.1-.8-.1-.5-.1-.8 0-.7-.1-.8 0-.4 0-.8-.1-.8 0-.7 .1-.8 0-.7 0-.5 .1-.8 .1-.7 0-.6 .1-.6 .2-.8 0-.5 .2-.8 .1-.4 .2-.8 .1-.5 .1-.6 .3-.6 .1-.6 .2-.4 .2-.6 .3-.4 .2-.6 .3-.4 .4-.6 .3-.4 .2-.3 .5-.5 .3-.3 .5-.4 .4-.3 .4-.2 .5-.3 .5-.4 .5-.3 .3-.3 .4-.4 .4-.4 .3-.3 .5-.4 .3-.3 .5-.3 .5-.3 .5-.3 .5-.1 .8-.1 .7 .1 .5 .2 .5 .3 .3 .3 .5 .4 .3 .4 .3 .4 .3 .6 .3 .4 .2 .6 .2 .4 .2 .6 .1 .5 .2 .7 .1 .5 .1 .8 .1 .7 0 .8 0 .7 0 .8-.1 .7-.1 .8 0 .4-.2 .8-.1 .5-.1 .8-.1 .5-.1 .7-.1 .8-.1 .4-.1 .8 0 .8 0 .7 0 .8 0 .7 0 .8-.1 .7 0 .5 0 .8-.1 .7-.1 .8-.1 .4-.1 .8-.1 .5-.1 .8-.2 .4-.2 .8-.1 .5-.2 .5-.2 .8-.2 .4-.1 .6-.2 .6-.1 .6-.2 .5-.2 .6-.2 .6-.3 .5-.2 .5-.3 .3-.3 .5-.5 .5-.3 .2-.4 .4-.5 .4-.5 .2-.5 .3-.5 .1-.5 .2z" fill="#000" fill-opacity="0.130" stroke="#000" stroke-width="0.45" stroke-opacity="1.0"/>
<path d="M73.0 465.8l-.7 .1-.8 0-.7 0-.5-.1-.8-.3-.5-.2-.4-.3-.4-.2-.4-.4-.4-.4-.4-.4-.2-.4-.3-.4-.2-.6-.2-.6-.2-.6-.1-.5-.1-.8 0-.7 0-.8 .1-.7 0-.5 .1-.8 0-.7-.1-.6-.1-.6-.2-.6-.1-.7-.1-.8 0-.4-.1-.8-.1-.8 0-.7 0-.8 0-.7 0-.8 0-.7 .1-.8 0-.7 .1-.8 0-.4 .1-.8 .1-.8 0-.6 .1-.6 .2-.8 .1-.4 .1-.6 .3-.7 .1-.5 .2-.5 .2-.5 .3-.5 .3-.5 .3-.5 .3-.5 .3-.3 .4-.4 .3-.4 .5-.4 .4-.2 .4-.3 .5-.2 .5-.3 .5-.3 .5-.3 .5-.3 .4-.4 .3-.3 .5-.4 .3-.2 .5-.4 .5-.2 .8-.2 .4 0 .5 .1 .5 .2 .5 .3 .5 .4 .3 .2 .4 .6 .3 .4 .3 .6 .2 .4 .2 .6 .1 .4 .2 .8 .1 .5 .1 .8 0 .7 .1 .8-.1 .7 0 .8-.1 .7-.1 .5-.1 .8-.1 .6-.1 .6-.2 .7-.1 .6-.1 .7-.1 .5 0 .8-.1 .7 0 .8-.1 .4 0 .8 0 .8 0 .7 0 .8-.1 .7-.1 .8 0 .4-.1 .8-.2 .7-.1 .6-.1 .6-.1 .6-.2 .5-.2 .7-.1 .6-.2 .4-.1 .8 0 .8-.1 .4-.1 .8-.2 .5-.2 .7-.2 .6-.3 .4-.2 .5-.3 .3-.4 .5-.4 .4-.4 .4-.3 .2-.5 .3-.5 .2-.7 .2z" fill="#000" fill-opacity="0.130" stroke="#000" stroke-width="0.45" stroke-opacity="1.0"/>
<path d="M72.5 465.5l-.8 .1-.8-.1-.5 0-.7-.2-.5-.3-.5-.2-.3-.3-.5-.3-.4-.4-.3-.5-.2-.3-.3-.5-.3-.5-.2-.6-.2-.6 0-.6-.1-.7 0-.8 .1-.4 .1-.8 .1-.6 .2-.6 .1-.6 .1-.7-.1-.8-.1-.4-.2-.8 0-.5-.1-.8-.1-.7-.1-.5 0-.8-.1-.7 0-.8 0-.7 0-.8-.1-.7 0-.8 0-.7 0-.8 .1-.7 0-.8 .1-.7 .1-.5 .1-.8 .1-.4 .2-.8 .2-.5 .2-.5 .2-.5 .2-.5 .3-.5 .3-.5 .4-.5 .2-.3 .4-.4 .4-.4 .5-.4 .4-.2 .5-.3 .5-.2 .6-.3 .5-.2 .5-.2 .5-.2 .5-.3 .5-.3 .5-.3 .5-.2 .5-.1 .8-.1 .5 .2 .5 .2 .5 .4 .2 .4 .4 .4 .3 .6 .2 .4 .2 .6 .1 .6 .2 .6 .1 .8 0 .4 0 .8 0 .8 0 .6-.1 .6 0 .8-.2 .6 0 .6-.2 .8 0 .4-.2 .8 0 .6-.1 .6-.1 .8-.1 .7 0 .6-.1 .7 0 .8 0 .7-.1 .8 0 .7-.1 .5-.1 .8-.1 .7 0 .5-.2 .8-.1 .4-.2 .8-.1 .5-.2 .5-.1 .8 0 .7 .1 .8-.1 .7 0 .8-.1 .5-.1 .7-.2 .5-.2 .5-.3 .5-.2 .5-.4 .5-.4 .4-.3 .4-.4 .2-.5 .4-.5 .2-.5 .2-.7 .2z" fill="#000" fill-opacity="0.050" stroke="#000" stroke-width="0.45" stroke-opacity="1.0"/>
<path d="M72.3 465.3l-.8 0-.6-.1-.6-.1-.5-.1-.5-.3-.5-.3-.5-.4-.3-.2-.5-.5-.2-.4-.3-.4-.2-.5-.2-.6-.2-.6-.1-.6-.1-.7 .1-.8 0-.4 .1-.8 .2-.5 .2-.7 .2-.6 .1-.4 .2-.7 0-.6-.1-.5-.1-.8-.1-.4-.1-.8-.1-.5-.1-.8-.1-.7 0-.8-.1-.4-.1-.8-.1-.8 0-.4-.1-.8 0-.8 0-.7 0-.8 0-.7 .1-.8 .1-.4 .1-.8 .1-.5 .2-.8 .1-.4 .2-.6 .2-.4 .3-.6 .2-.4 .4-.6 .3-.4 .3-.4 .4-.4 .3-.3 .5-.4 .5-.3 .5-.2 .5-.2 .5-.2 .7-.1 .6-.2 .5-.1 .8-.1 .7-.1 .8 0 .6 .2 .4 .2 .5 .5 .2 .3 .3 .5 .2 .5 .2 .6 .2 .6 .1 .6 .1 .7 .1 .8 0 .7 0 .8-.1 .7 0 .8-.1 .7 0 .5-.1 .8-.1 .7-.1 .5-.1 .8-.1 .6-.1 .6-.1 .8 0 .7-.1 .5-.1 .8 0 .7-.1 .8 0 .4-.1 .8-.2 .6-.1 .6-.1 .6-.2 .7-.1 .5-.1 .8 0 .7 .1 .8 .1 .4 .1 .8 0 .8-.1 .7-.1 .5-.2 .8-.2 .4-.2 .6-.3 .4-.3 .5-.3 .3-.5 .5-.3 .2-.4 .4-.5 .2-.5 .2-.8 .2z" fill="#000" fill-opacity="0.050" stroke="#000" stroke-width="0.45" stroke-opacity="1.0"/>
<path d="M72.3 465.0l-.8 .1-.5-.1-.7-.1-.5-.2-.5-.3-.5-.3-.5-.4-.2-.2-.4-.5-.4-.5-.2-.5-.3-.5-.1-.5-.2-.7 0-.6 0-.7 0-.7 .1-.6 .2-.5 .2-.7 .2-.5 .2-.5 .3-.5 .2-.5 .1-.6 0-.6-.1-.6-.1-.6-.1-.6-.2-.7-.1-.6-.1-.6-.1-.6-.2-.5-.1-.8-.1-.5-.1-.7-.1-.8-.1-.4 0-.8 0-.8 0-.7 0-.8 .1-.4 .1-.8 .1-.6 .1-.6 .2-.6 .2-.6 .2-.6 .3-.5 .2-.5 .3-.4 .3-.4 .4-.4 .3-.4 .5-.4 .3-.2 .5-.3 .5-.3 .6-.2 .6-.2 .5-.1 .8-.1 .7 .1 .5 .1 .5 .2 .5 .3 .5 .4 .2 .4 .4 .4 .3 .5 .2 .5 .3 .5 .2 .5 .1 .7 .2 .6 .1 .7 0 .5 .1 .8 0 .7-.1 .8 0 .5-.1 .7 0 .8-.2 .6 0 .6-.2 .8-.1 .4-.1 .8-.1 .5-.1 .8-.1 .4-.2 .8 0 .6-.2 .6-.1 .8-.1 .5-.2 .7-.1 .6-.1 .4-.1 .8 .1 .5 .2 .8 .1 .4 .2 .8 0 .5 .1 .8 0 .7-.1 .7-.1 .6-.2 .4-.2 .7-.2 .5-.3 .4-.4 .4-.4 .5-.4 .3-.3 .3-.5 .2-.5 .3-.8 .2z" fill="#000" fill-opacity="0.050" stroke="#000" stroke-width="0.45" stroke-opacity="1.0"/>
<path d="M72.0 464.8l-.7 0-.5-.1-.7-.2-.5-.2-.5-.3-.4-.2-.4-.4-.3-.4-.4-.5-.3-.5-.2-.5-.2-.5-.1-.7-.1-.6 0-.7 .1-.7 .1-.6 .1-.5 .3-.7 .2-.5 .3-.5 .2-.4 .3-.4 .3-.4 .3-.6 .2-.4 0-.6-.3-.7-.2-.5-.2-.5-.2-.5-.2-.5-.2-.6-.2-.6-.2-.6-.1-.4-.2-.8-.1-.5-.1-.8-.1-.7 0-.5-.1-.8 0-.7 .1-.8 0-.4 .2-.8 0-.5 .2-.8 .2-.4 .2-.6 .2-.5 .2-.6 .3-.4 .3-.4 .4-.6 .3-.3 .4-.4 .3-.3 .5-.3 .5-.2 .5-.2 .8-.2 .5-.1 .8 0 .5 .1 .7 .2 .4 .2 .3 .3 .5 .5 .3 .4 .2 .4 .3 .4 .3 .6 .2 .5 .2 .7 .2 .5 .1 .5 .1 .8 .1 .7 0 .8 0 .7-.1 .8 0 .7-.1 .5-.1 .8-.2 .6-.1 .6-.1 .5-.2 .8-.1 .4-.2 .6-.2 .7-.2 .5-.1 .5-.2 .6-.3 .6-.1 .6-.2 .4-.2 .6 0 .7 .1 .5 .2 .5 .2 .5 .2 .5 .3 .8 .1 .4 .1 .7 .1 .6 0 .8 0 .7-.1 .5-.2 .7-.2 .6-.3 .4-.2 .5-.3 .3-.5 .5-.2 .3-.5 .3-.5 .3-.5 .2-.8 .1z" fill="#000" fill-opacity="0.050" stroke="#000" stroke-width="0.45" stroke-opacity="1.0"/>
<path d="M72.0 464.5l-.7 0-.5-.1-.7-.1-.5-.3-.4-.2-.4-.3-.5-.5-.2-.3-.4-.4-.2-.6-.2-.4-.2-.8-.1-.5-.1-.8 .1-.7 .1-.5 .2-.8 .2-.4 .2-.6 .3-.4 .3-.6 .2-.3 .4-.4 .4-.4 .4-.4 .3-.3 .5-.4 0-.4-.2-.4-.5-.4-.2-.3-.4-.5-.4-.5-.2-.5-.3-.5-.2-.5-.2-.5-.2-.5-.2-.5-.1-.8-.2-.4-.1-.8 0-.7-.1-.6 0-.7 0-.8 0-.5 .1-.7 .2-.8 .1-.4 .1-.7 .2-.6 .3-.5 .2-.5 .3-.5 .3-.5 .2-.3 .4-.4 .4-.4 .5-.4 .4-.2 .5-.3 .6-.2 .5-.1 .8-.1 .7 0 .5 .2 .5 .2 .5 .4 .3 .4 .4 .4 .3 .5 .2 .4 .3 .5 .2 .6 .2 .6 .2 .4 .1 .8 .1 .5 .1 .8 0 .7 0 .8-.1 .7 0 .7-.1 .6-.2 .7-.1 .5-.2 .7-.1 .6-.1 .4-.2 .6-.3 .7-.2 .5-.3 .5-.2 .5-.3 .4-.3 .4-.4 .4-.3 .4-.4 .4-.3 .5 .3 .5 .4 .4 .3 .4 .4 .4 .3 .5 .2 .5 .3 .5 .2 .6 .2 .4 .1 .6 .1 .7 0 .8 0 .7-.1 .5-.2 .7-.3 .6-.2 .4-.3 .4-.3 .4-.5 .4-.4 .4-.4 .2-.5 .2-.7 .2-.5 .1z" fill="#000" fill-opacity="0.050" stroke="#000" stroke-width="0.45" stroke-opacity="1.0"/>
<path d="M73.0 451.8l-.7 .1-.8 0-.5-.2-.5-.2-.5-.4-.4-.4-.3-.3-.3-.4-.3-.5-.3-.5-.2-.5-.2-.5-.2-.6-.2-.6-.1-.6-.1-.7-.1-.5-.1-.8 0-.7 0-.8 .1-.7 .1-.5 .1-.8 .1-.4 .2-.7 .2-.6 .2-.5 .3-.5 .3-.5 .2-.4 .4-.4 .4-.4 .4-.3 .3-.3 .5-.3 .5-.2 .8-.2 .5-.1 .8 .1 .5 .1 .5 .2 .5 .4 .3 .3 .4 .5 .2 .4 .3 .4 .2 .5 .3 .6 .2 .6 .2 .5 .1 .7 .1 .6 .1 .7 0 .8-.1 .7 0 .8-.1 .5-.1 .7-.2 .7-.1 .6-.1 .4-.2 .8-.2 .5-.3 .5-.2 .5-.3 .5-.3 .5-.2 .4-.4 .4-.4 .3-.5 .4-.5 .2zM72.0 464.3l-.7 0-.5-.1-.7-.2-.5-.2-.4-.3-.4-.3-.4-.4-.4-.5-.2-.4-.2-.5-.3-.6-.1-.6 0-.7 0-.8 .1-.7 .1-.5 .2-.5 .2-.5 .3-.5 .3-.5 .4-.5 .2-.3 .5-.4 .5-.3 .5-.2 .5-.2 .5-.1 .6 0 .7 .1 .5 .2 .5 .3 .5 .4 .2 .3 .5 .4 .3 .6 .2 .4 .3 .6 .2 .4 .1 .6 .1 .7 0 .8-.1 .7 0 .5-.3 .8-.2 .4-.3 .5-.2 .4-.4 .4-.4 .3-.5 .4-.5 .2-.5 .2-.6 .1z" fill="#000" fill-opacity="0.050" stroke="#000" stroke-width="0.45" stroke-opacity="1.0"/>
<path d="M73.0 451.0l-.7 .1-.8 0-.5-.1-.5-.3-.5-.3-.4-.4-.3-.4-.3-.4-.3-.4-.2-.6-.2-.4-.2-.6-.2-.7-.2-.5-.1-.8 0-.5-.1-.7 0-.8 0-.7 .1-.5 .1-.8 .1-.4 .2-.8 .2-.5 .2-.5 .2-.5 .3-.5 .3-.5 .3-.4 .4-.4 .4-.3 .5-.3 .5-.3 .5-.2 .5-.1 .8-.1 .7 .1 .5 .2 .5 .3 .2 .3 .5 .4 .3 .5 .2 .4 .3 .5 .2 .6 .2 .6 .2 .4 .1 .8 .1 .5 .1 .8 0 .7-.1 .8 0 .7-.1 .5-.2 .8-.1 .4-.2 .7-.1 .6-.2 .5-.2 .5-.3 .5-.3 .5-.3 .5-.3 .4-.4 .4-.4 .2-.5 .3-.5 .2zM72.8 463.8l-.8 .1-.7 0-.8-.1-.5-.2-.5-.3-.4-.3-.3-.3-.4-.4-.3-.6-.3-.4-.1-.6-.2-.4 0-.8 0-.8 0-.6 .2-.6 .2-.5 .2-.5 .3-.5 .4-.5 .2-.3 .5-.4 .4-.3 .5-.2 .6-.2 .5-.1 .5 0 .8 .1 .5 .2 .5 .3 .5 .4 .2 .3 .4 .4 .3 .6 .3 .4 .2 .6 .1 .4 .1 .8 0 .8 0 .7-.1 .5-.2 .6-.3 .6-.2 .4-.4 .4-.4 .4-.4 .4-.4 .2-.6 .2z" fill="#000" fill-opacity="0.050" stroke="#000" stroke-width="0.45" stroke-opacity="1.0"/>
<path d="M72.3 450.5l-.5 0-.8-.2-.5-.2-.4-.4-.3-.2-.4-.5-.4-.5-.2-.4-.2-.6-.2-.5-.2-.5-.2-.6-.1-.6 0-.8-.1-.8 0-.7 .1-.8 .1-.7 .1-.5 .2-.7 .2-.6 .2-.4 .3-.6 .3-.4 .2-.4 .4-.4 .4-.4 .4-.4 .4-.2 .5-.2 .7-.3 .5-.1 .8 0 .5 .2 .5 .3 .3 .4 .4 .4 .2 .3 .3 .5 .3 .5 .2 .5 .2 .7 .2 .6 .1 .7 .1 .5 0 .8 0 .7-.1 .7-.1 .6-.1 .7-.1 .5-.2 .6-.2 .6-.2 .6-.2 .4-.3 .6-.3 .4-.3 .4-.3 .4-.5 .3-.5 .4-.5 .2-.7 .1zM72.0 463.5l-.7 0-.5-.1-.5-.1-.5-.3-.5-.4-.4-.4-.4-.4-.2-.5-.2-.6-.2-.4-.1-.8 0-.5 0-.5 .2-.8 .1-.4 .2-.6 .3-.4 .4-.6 .3-.3 .5-.4 .4-.2 .6-.3 .5-.1 .8 0 .5 .1 .7 .2 .4 .3 .3 .3 .5 .4 .3 .4 .2 .4 .3 .6 .2 .6 .1 .6 0 .7 0 .8-.1 .4-.2 .6-.2 .6-.3 .4-.3 .4-.5 .4-.4 .4-.5 .2-.5 .2-.5 .1z" fill="#000" fill-opacity="0.050" stroke="#000" stroke-width="0.45" stroke-opacity="1.0"/>
<path d="M73.0 449.8l-.7 .1-.8 0-.5-.2-.5-.2-.5-.4-.3-.4-.4-.4-.2-.5-.3-.6-.2-.4-.1-.6-.2-.7-.1-.5 0-.8 0-.7 0-.8 .1-.7 .1-.5 .1-.7 .2-.6 .3-.4 .2-.6 .3-.4 .3-.5 .3-.3 .5-.4 .3-.4 .4-.2 .5-.3 .6-.2 .6-.1 .8 .1 .5 .2 .3 .3 .5 .5 .2 .3 .3 .4 .2 .6 .3 .4 .2 .8 .1 .5 .1 .8 .1 .4 0 .8 0 .8-.1 .4-.1 .8-.1 .5-.2 .8-.2 .4-.2 .6-.2 .4-.2 .6-.3 .4-.4 .6-.3 .2-.5 .4-.5 .3zM72.0 463.0l-.7 0-.5-.1-.5-.2-.5-.3-.4-.4-.4-.4-.2-.4-.3-.4-.2-.8-.1-.5 0-.8 .1-.7 .1-.5 .2-.5 .2-.5 .4-.5 .3-.4 .5-.4 .4-.2 .6-.2 .5-.1 .6 .1 .7 .1 .5 .2 .5 .4 .3 .2 .4 .6 .3 .4 .2 .6 .2 .4 .1 .8 0 .5 0 .5-.2 .8-.2 .4-.2 .6-.4 .4-.2 .3-.5 .5-.5 .2-.5 .2-.5 .1z" fill="#000" fill-opacity="0.050" stroke="#000" stroke-width="0.45" stroke-opacity="1.0"/>
<path d="M73.0 449.3l-.7 .2-.8-.1-.5-.2-.5-.2-.5-.5-.2-.2-.3-.6-.3-.4-.2-.6-.2-.5-.2-.7 0-.6-.1-.6 0-.8 0-.8 .1-.4 .2-.8 .1-.5 .2-.5 .3-.5 .2-.5 .4-.5 .3-.4 .3-.4 .5-.3 .5-.4 .4-.2 .5-.3 .5-.1 .8 .1 .5 .2 .3 .3 .4 .5 .3 .4 .2 .4 .3 .6 .2 .6 .1 .5 .2 .8 0 .4 0 .8 0 .8-.1 .4-.1 .8-.1 .5-.2 .7-.2 .6-.2 .4-.2 .6-.3 .4-.4 .5-.2 .3-.5 .4-.5 .3zM72.5 462.3l-.8 .1-.7-.1-.5-.3-.5-.2-.3-.3-.4-.5-.4-.5-.2-.5-.1-.5-.1-.8 0-.7 .2-.7 .2-.6 .3-.4 .3-.3 .5-.4 .5-.3 .5-.2 .7-.1 .8 .1 .5 .2 .5 .3 .3 .4 .4 .4 .2 .5 .3 .6 .1 .5 .1 .8-.1 .7-.1 .5-.2 .5-.3 .5-.5 .5-.2 .3-.5 .3-.5 .2z" fill="#000" fill-opacity="0.050" stroke="#000" stroke-width="0.45" stroke-opacity="1.0"/>
<path d="M73.0 448.8l-.7 .2-.8-.1-.5-.2-.5-.3-.4-.4-.3-.4-.2-.4-.3-.6-.2-.6-.1-.5-.1-.8-.1-.7 .1-.8 .1-.7 .1-.5 .2-.6 .2-.6 .3-.5 .2-.4 .4-.4 .4-.5 .2-.3 .5-.4 .4-.3 .4-.3 .5-.2 .8-.1 .5 .2 .5 .4 .2 .3 .3 .4 .3 .6 .2 .4 .2 .6 .2 .7 0 .5 .1 .8 0 .7-.1 .5-.1 .8-.1 .4-.2 .8-.2 .5-.2 .5-.3 .5-.3 .5-.3 .4-.4 .4-.4 .2-.5 .3zM72.3 461.3l-.6-.1-.7-.1-.5-.3-.4-.3-.3-.3-.3-.4-.2-.6-.2-.7 0-.8 .2-.7 .2-.5 .3-.3 .5-.4 .5-.3 .5-.1 .8-.1 .6 .2 .5 .2 .3 .3 .5 .5 .3 .5 .2 .5 .1 .5 0 .8-.1 .4-.2 .6-.3 .4-.4 .6-.4 .2-.7 .2z" fill="#000" fill-opacity="0.050" stroke="#000" stroke-width="0.45" stroke-opacity="1.0"/>
<path d="M73.0 448.3l-.7 .2-.8-.1-.5-.2-.5-.3-.3-.4-.3-.5-.3-.5-.1-.5-.2-.7 0-.6-.1-.7 .1-.6 .1-.6 .2-.6 .2-.5 .2-.5 .3-.4 .4-.6 .3-.4 .3-.3 .4-.5 .3-.4 .5-.4 .5-.2 .5 0 .5 .1 .5 .4 .3 .3 .3 .4 .2 .6 .2 .5 .2 .7 .1 .6 0 .6 0 .8 0 .5-.2 .8-.1 .4-.2 .7-.2 .6-.3 .5-.2 .4-.3 .4-.4 .4-.4 .3-.5 .3zM72.5 460.0l-.8 0-.5-.1-.5-.3-.5-.3-.3-.3-.3-.5-.1-.8 .1-.7 .3-.5 .3-.3 .5-.4 .5-.1 .8-.1 .5 .1 .5 .3 .5 .4 .2 .4 .2 .5 .2 .7-.1 .8-.2 .4-.4 .4-.5 .3-.5 .1z" fill="#000" fill-opacity="0.050" stroke="#000" stroke-width="0.45" stroke-opacity="1.0"/>
<path d="M72.8 447.8l-.8 .1-.7-.1-.4-.3-.4-.3-.3-.4-.2-.6-.2-.6-.1-.6 0-.8 .1-.5 .2-.7 .2-.5 .3-.5 .3-.5 .2-.3 .3-.4 .4-.6 .3-.4 .3-.5 .3-.3 .5-.3 .7-.1 .5 .2 .4 .4 .3 .6 .2 .4 .2 .6 .1 .7 .1 .5 0 .8-.1 .4-.1 .8-.2 .5-.2 .6-.2 .6-.2 .5-.3 .4-.3 .4-.5 .4-.5 .3zM73.0 458.8l-.5 .1-.5 0-.5-.1-.2-.1-.5-.2-.2-.2-.3-.3-.1-.2 0-.6 .1-.4 .2-.3 .3-.2 .2-.2 .4-.1 .4 0 .4 0 .3 .1 .3 .1 .3 .3 .2 .2 .2 .5 .1 .3 0 .5 0 .3-.3 .3-.2 .2z" fill="#000" fill-opacity="0.050" stroke="#000" stroke-width="0.45" stroke-opacity="1.0"/>
<path d="M72.8 447.1l-.8 .1-.6-.2-.4-.2-.3-.6-.2-.4-.1-.8 .1-.8 .2-.4 .2-.6 .3-.4 .3-.6 .3-.4 .2-.6 .3-.4 .2-.6 .3-.4 .2-.3 .5-.3 .5 .1 .5 .4 .3 .4 .2 .6 .2 .6 .1 .7 0 .8-.1 .7-.2 .5-.2 .7-.2 .6-.3 .4-.2 .4-.4 .4-.4 .3-.5 .3zM72.5 457.9l-.5 0-.5-.1-.3-.1-.2-.3-.1-.4 .1-.2 .3-.3 .4-.1 .5 .1 .2 .2 .3 .2 .1 .4-.1 .4-.2 .2z" fill="#000" fill-opacity="0.050" stroke="#000" stroke-width="0.45" stroke-opacity="1.0"/>
<path d="M73.3 445.5l-.8 .2-.4-.4 0-.5 .1-.6 .1-.5 .2-.7 .1-.5 .2-.8 .1-.4 .2-.6 .3-.4 .6-.2 .5 .4 .2 .5 .2 .5 0 .8 0 .7-.2 .5-.2 .5-.2 .5-.4 .5-.4 .4z" fill="#000" fill-opacity="0.050" stroke="#000" stroke-width="0.45" stroke-opacity="1.0"/>
<ellipse cx="72.1" cy="442.4" rx="1.1" ry="2.1" fill="#e8e8e8"/>
<ellipse cx="71.6" cy="459.6" rx="1.4" ry="1.2" fill="#e8e8e8"/>
<path d="M39.7 474.8h.05M72.1 484.9h.05M72.5 480.8h.05M51.6 458.0h.05M34.7 445.0h.05M34.5 413.2h.05M58.3 456.7h.05M57.5 472.7h.05M53.2 427.0h.05M55.9 448.7h.05M72.6 484.5h.05M41.7 457.7h.05M68.8 424.4h.05M42.3 417.3h.05M56.4 430.4h.05M67.8 471.3h.05M34.9 443.4h.05M61.2 465.8h.05M51.5 452.6h.05M51.2 434.1h.05M47.0 421.0h.05M47.8 486.6h.05M43.2 456.9h.05M41.2 423.9h.05M44.3 426.9h.05M42.4 470.8h.05M55.3 450.8h.05M55.2 437.5h.05M36.0 451.9h.05M39.3 473.8h.05M74.0 412.3h.05M33.9 424.9h.05M57.7 413.0h.05M46.8 413.4h.05M68.8 410.5h.05M33.5 467.0h.05M60.9 476.8h.05M59.1 450.1h.05M34.7 474.2h.05M37.6 432.0h.05M44.2 420.5h.05M42.0 455.0h.05M41.8 465.6h.05M55.9 414.7h.05M52.2 482.0h.05M54.6 453.4h.05M88.4 412.3h.05M55.3 470.3h.05M47.8 420.6h.05M77.2 484.7h.05M48.9 413.4h.05M44.9 420.6h.05M54.3 430.4h.05M49.6 418.9h.05M93.5 482.0h.05M58.4 436.5h.05M45.6 420.0h.05M53.8 457.4h.05M34.6 472.0h.05M55.5 442.3h.05M59.2 470.0h.05M54.7 457.0h.05M42.3 416.4h.05M53.0 472.8h.05M79.3 478.8h.05M42.0 454.9h.05M39.9 461.1h.05M36.6 439.6h.05M50.3 421.8h.05M52.5 410.2h.05M81.7 482.3h.05M41.3 427.8h.05M53.7 440.9h.05M42.0 427.4h.05M35.4 415.8h.05M56.2 472.6h.05M56.2 450.3h.05M74.6 481.7h.05M71.6 477.4h.05M54.6 454.8h.05M47.7 413.4h.05M37.9 469.5h.05M54.5 439.8h.05M37.0 470.6h.05M39.9 426.3h.05M40.1 466.2h.05M93.9 453.8h.05M37.0 421.0h.05M39.1 434.6h.05M64.2 482.2h.05M53.8 425.9h.05M40.2 413.8h.05M90.5 465.3h.05M43.7 473.5h.05M35.1 435.3h.05M54.7 421.1h.05M52.5 481.3h.05M45.7 426.3h.05M34.1 470.0h.05M55.0 444.5h.05M37.0 444.0h.05M58.3 446.3h.05M45.1 420.2h.05M53.8 417.0h.05M50.9 468.3h.05M74.1 422.9h.05M35.2 415.3h.05M34.6 437.6h.05M54.8 432.3h.05M43.9 437.2h.05M51.3 450.6h.05M37.0 443.2h.05M35.6 455.6h.05M72.7 417.3h.05M36.7 483.2h.05M91.2 434.1h.05M52.2 486.6h.05M34.6 485.1h.05M41.1 414.5h.05M35.9 443.1h.05M40.7 440.6h.05M55.8 453.8h.05M48.2 414.1h.05M33.4 439.9h.05M50.8 461.3h.05M73.7 420.9h.05M54.6 430.8h.05M59.5 439.3h.05M38.3 423.9h.05M47.2 423.6h.05M54.5 465.6h.05M42.5 419.3h.05M78.7 411.8h.05M39.0 486.7h.05M55.5 467.1h.05M34.2 453.2h.05M55.4 486.1h.05M39.6 487.0h.05M51.8 425.0h.05M53.2 464.2h.05M43.5 415.8h.05M42.8 443.0h.05M47.8 419.5h.05M62.5 427.1h.05M40.7 462.5h.05M38.3 472.2h.05M58.3 475.9h.05M81.2 470.3h.05M69.0 482.8h.05M55.3 454.1h.05M60.1 481.1h.05M61.0 459.1h.05M49.5 424.1h.05M54.0 449.8h.05M58.2 419.6h.05M35.4 466.2h.05M51.4 417.0h.05M40.7 473.6h.05M52.6 483.7h.05M61.4 417.2h.05M40.7 438.2h.05M78.1 415.9h.05M75.0 478.2h.05M52.4 466.5h.05M65.5 421.9h.05M33.7 467.9h.05M37.8 416.2h.05M52.3 424.8h.05M50.0 483.7h.05M40.1 444.5h.05M60.7 416.0h.05M58.3 485.9h.05M37.5 464.1h.05M67.4 477.6h.05M38.0 438.3h.05M36.6 466.3h.05M48.9 426.0h.05M43.3 476.2h.05M90.7 419.0h.05M37.8 454.5h.05M38.7 430.6h.05M55.4 463.0h.05M41.8 418.9h.05M50.9 413.4h.05M35.3 411.6h.05M35.7 474.5h.05M76.9 478.7h.05M42.3 428.9h.05M57.9 479.9h.05M81.1 483.4h.05M33.8 442.5h.05M37.0 470.8h.05M57.0 464.2h.05M59.1 447.6h.05M37.3 420.3h.05M42.8 444.0h.05M47.0 412.2h.05M35.8 430.3h.05M71.0 475.2h.05M42.8 453.8h.05M34.0 441.7h.05M52.6 452.8h.05M52.5 471.0h.05M62.1 435.1h.05M53.4 438.9h.05M37.9 423.0h.05M64.4 429.0h.05M35.5 449.0h.05M41.1 452.8h.05M33.7 472.1h.05M39.4 443.1h.05M56.3 431.3h.05M69.9 418.8h.05M60.2 420.4h.05M61.0 474.9h.05M41.5 423.1h.05M35.1 453.3h.05M95.3 410.7h.05M37.1 415.5h.05M55.4 483.7h.05M61.6 411.1h.05M70.4 482.9h.05M37.7 413.2h.05M46.8 484.5h.05M34.5 448.7h.05M69.0 475.6h.05M57.2 418.0h.05M44.1 473.1h.05M75.9 475.7h.05M33.3 420.9h.05M72.3 477.2h.05M55.6 455.1h.05M54.8 444.9h.05M33.5 467.6h.05M36.9 471.1h.05M55.2 475.5h.05M40.7 418.3h.05M40.1 418.4h.05M51.1 467.0h.05M39.6 481.8h.05M39.8 428.4h.05M55.0 465.2h.05M44.8 427.8h.05M43.8 423.8h.05M43.2 421.1h.05M40.0 456.4h.05M56.7 454.9h.05M37.7 456.7h.05M38.0 482.1h.05M42.9 440.2h.05M54.2 474.5h.05M43.0 411.7h.05M53.3 476.2h.05M40.7 473.0h.05M61.7 464.8h.05M59.2 423.2h.05M40.2 482.2h.05M38.4 455.2h.05M91.2 462.5h.05M55.6 482.7h.05M43.7 468.1h.05M61.5 437.2h.05M64.3 417.8h.05M52.9 481.2h.05M38.5 478.1h.05M70.7 412.5h.05M48.9 483.3h.05M40.5 421.7h.05M46.0 483.6h.05M72.9 423.4h.05M59.7 486.4h.05M42.3 473.4h.05M38.6 456.0h.05M48.6 415.9h.05M55.7 458.7h.05M37.6 422.3h.05M41.9 470.5h.05M42.5 416.9h.05M53.9 414.9h.05M48.0 415.5h.05M52.7 413.6h.05M77.3 473.2h.05M45.2 419.0h.05M34.1 421.9h.05M41.5 479.5h.05M38.9 475.3h.05M36.0 465.5h.05M61.5 474.9h.05M55.8 464.7h.05M40.8 462.9h.05M55.7 439.9h.05M63.4 431.5h.05M36.7 480.7h.05M67.7 471.5h.05M35.7 429.3h.05M57.4 477.2h.05M60.1 474.5h.05M40.9 453.0h.05M36.1 420.3h.05M33.4 486.3h.05M35.0 486.4h.05M39.6 481.2h.05M51.2 485.2h.05M65.3 420.8h.05M37.9 451.7h.05M39.8 438.3h.05M63.1 416.5h.05M59.6 441.1h.05M43.7 430.3h.05M39.8 474.6h.05M50.7 442.8h.05M34.4 476.6h.05M40.4 457.7h.05M36.3 473.4h.05M54.2 480.7h.05M54.2 443.2h.05M62.6 424.8h.05M56.4 459.3h.05M38.5 456.3h.05M80.3 410.8h.05M64.5 421.0h.05M46.2 411.8h.05M52.5 450.9h.05M36.6 453.0h.05M52.5 412.2h.05M39.5 441.7h.05M61.6 477.5h.05M36.7 449.6h.05M61.0 435.7h.05M33.2 460.4h.05M52.2 410.7h.05M93.4 483.3h.05M41.5 441.0h.05M39.0 459.1h.05M45.9 426.4h.05M41.0 471.8h.05M53.4 458.5h.05M43.7 422.3h.05M53.8 468.6h.05M51.8 479.8h.05M89.4 443.9h.05M90.2 443.7h.05M36.3 463.5h.05M80.4 479.5h.05M44.4 435.2h.05M42.8 417.6h.05M38.9 461.6h.05M39.4 436.9h.05M37.0 471.0h.05M51.6 450.6h.05M37.9 436.2h.05M40.6 468.4h.05M33.9 481.8h.05M41.4 456.0h.05M52.1 440.4h.05M39.7 473.0h.05M60.4 462.8h.05M44.9 424.5h.05M60.2 462.4h.05M52.7 455.5h.05M81.5 420.7h.05M49.3 480.9h.05M35.2 478.3h.05M52.3 415.6h.05M52.3 442.4h.05M55.6 447.8h.05M52.7 450.0h.05M51.0 417.3h.05M65.6 469.4h.05M56.4 446.7h.05M37.2 422.7h.05M43.5 482.0h.05M33.3 457.6h.05M94.5 415.8h.05M33.3 419.7h.05M49.2 410.7h.05M39.4 461.2h.05M62.0 410.5h.05M41.8 431.8h.05M74.7 482.3h.05M78.0 478.0h.05M37.6 413.8h.05M54.9 439.5h.05M52.9 477.9h.05M58.9 445.0h.05M35.3 435.1h.05M35.8 446.6h.05M42.2 475.6h.05M43.2 478.5h.05M42.7 465.1h.05M33.3 469.6h.05M35.3 460.9h.05M47.0 425.2h.05M40.1 452.5h.05M53.9 484.6h.05M52.7 448.7h.05M35.4 476.6h.05M40.5 421.4h.05M56.5 444.1h.05M49.1 484.2h.05M52.9 477.2h.05M55.9 412.3h.05M45.9 419.3h.05M40.0 480.1h.05M41.4 426.6h.05M54.4 480.4h.05M37.2 476.8h.05M53.7 459.3h.05M38.2 481.6h.05M52.6 461.7h.05M58.5 419.0h.05M39.3 462.7h.05M42.9 484.3h.05M45.4 426.6h.05M38.6 469.5h.05M61.1 416.6h.05M37.4 464.0h.05M37.0 422.9h.05M60.0 468.9h.05M36.9 451.0h.05M50.6 442.9h.05M69.9 476.9h.05M51.0 424.9h.05M33.7 425.9h.05M43.8 476.5h.05M49.0 412.3h.05M75.1 418.0h.05M55.3 471.7h.05M55.8 434.8h.05M37.2 411.9h.05M35.0 451.6h.05M47.9 426.8h.05M40.4 467.9h.05M48.9 485.7h.05M43.5 437.0h.05M42.0 486.6h.05M67.1 479.3h.05M63.8 478.9h.05M56.8 456.1h.05M34.6 460.3h.05M41.8 462.1h.05M42.5 478.0h.05M55.8 427.3h.05M34.4 429.1h.05M52.3 477.9h.05M36.0 456.5h.05M34.2 413.0h.05M40.4 418.5h.05M40.2 465.3h.05M55.0 476.5h.05M81.5 411.1h.05M50.6 471.1h.05M42.6 473.4h.05M62.3 484.7h.05M50.4 467.7h.05M60.2 453.8h.05M57.0 476.5h.05M52.2 419.3h.05M44.3 412.6h.05M53.7 474.7h.05M60.7 432.6h.05M52.6 420.7h.05M53.8 464.1h.05M74.6 481.1h.05M38.0 460.7h.05M37.8 453.5h.05M53.0 414.1h.05M53.6 467.3h.05M62.1 433.9h.05M52.0 424.0h.05M49.6 485.7h.05M39.6 456.8h.05M41.6 478.6h.05M44.7 428.5h.05M71.8 422.0h.05M55.5 412.8h.05M68.8 422.5h.05M71.3 420.7h.05M50.7 434.1h.05M54.4 433.0h.05M36.3 412.9h.05M43.4 430.3h.05M33.4 460.6h.05M40.8 465.5h.05M40.9 425.1h.05M39.2 423.6h.05M60.5 483.9h.05M34.5 486.4h.05M81.6 483.2h.05M51.3 474.1h.05M88.7 435.2h.05M51.1 470.0h.05M55.4 474.3h.05M77.5 419.9h.05M41.2 475.0h.05M59.4 485.7h.05M55.4 454.7h.05M39.9 435.0h.05M54.2 459.4h.05M87.8 433.3h.05M41.2 478.2h.05M39.3 412.5h.05M37.1 452.8h.05M58.8 452.9h.05M57.3 461.6h.05M55.8 427.0h.05M52.9 466.2h.05M51.7 458.0h.05M56.2 426.8h.05M54.1 431.2h.05M53.6 461.1h.05M59.5 450.8h.05M51.5 430.8h.05M87.3 462.6h.05M42.7 485.5h.05M55.1 447.2h.05M79.9 410.5h.05M40.9 472.4h.05M36.3 442.1h.05M36.0 467.4h.05M57.6 483.0h.05M37.3 437.7h.05M39.6 421.2h.05M37.2 477.6h.05M68.3 419.6h.05M35.4 460.2h.05M34.7 452.5h.05M64.9 417.7h.05M43.7 476.1h.05M49.6 426.1h.05M56.2 461.6h.05M52.9 471.7h.05M57.9 467.4h.05M66.8 415.5h.05M34.6 425.8h.05M50.7 434.4h.05M34.3 455.8h.05M46.2 484.1h.05M53.4 420.9h.05M73.6 411.0h.05M73.0 474.2h.05M60.9 458.1h.05M34.5 433.4h.05M44.5 431.3h.05M50.6 415.5h.05M33.4 484.2h.05M54.1 443.2h.05M59.2 485.1h.05M85.9 448.5h.05M37.5 472.1h.05M40.2 430.2h.05M43.0 473.0h.05M55.9 470.7h.05M50.3 414.9h.05M34.4 483.7h.05M37.9 442.0h.05M50.3 467.4h.05M42.5 453.3h.05M33.7 429.0h.05M61.6 411.6h.05M36.3 428.3h.05M36.7 421.1h.05M47.8 419.3h.05M68.9 422.8h.05M52.2 472.4h.05M37.1 435.2h.05M39.0 485.4h.05M62.9 477.2h.05M39.1 456.4h.05M46.1 425.3h.05M57.2 456.0h.05M57.8 415.6h.05M71.0 484.5h.05M52.7 422.0h.05M63.4 425.6h.05M37.0 477.4h.05M40.4 482.0h.05M45.7 482.2h.05M40.9 473.3h.05M74.2 419.4h.05M51.3 479.4h.05M39.2 429.9h.05M44.0 474.3h.05M44.5 414.6h.05M53.2 480.3h.05M89.6 473.1h.05M55.2 423.6h.05M37.0 456.4h.05M51.6 461.9h.05M57.2 470.3h.05M69.6 485.0h.05M51.2 438.9h.05M34.0 410.9h.05M42.1 419.0h.05M37.0 428.8h.05M33.5 429.6h.05M55.1 459.5h.05M54.9 487.3h.05M85.9 444.4h.05M55.8 410.9h.05M34.1 419.4h.05M40.5 476.0h.05M37.4 417.9h.05M52.9 468.7h.05M39.1 451.6h.05M42.6 427.5h.05M53.6 418.4h.05M34.9 482.5h.05M43.1 463.2h.05M42.2 463.6h.05M53.9 412.3h.05M54.1 462.8h.05M38.0 465.2h.05M54.9 430.7h.05M60.3 420.3h.05M37.7 414.8h.05M74.3 422.0h.05M50.2 421.9h.05M48.8 481.4h.05M39.4 413.2h.05M55.2 424.6h.05M39.9 466.0h.05M59.0 413.7h.05M35.4 459.7h.05M77.4 475.7h.05M61.1 417.3h.05M35.3 434.7h.05M58.8 478.1h.05M34.0 458.3h.05M55.9 478.8h.05M42.8 436.7h.05M69.6 418.5h.05M39.9 452.4h.05M36.3 430.9h.05M55.1 448.2h.05M55.7 459.2h.05M35.7 486.2h.05M34.1 473.1h.05M51.3 421.6h.05M36.2 441.4h.05M53.4 413.1h.05M50.4 451.6h.05M34.0 473.2h.05M60.7 477.7h.05M63.2 428.1h.05M55.9 431.0h.05M44.8 416.8h.05M38.2 423.0h.05M39.9 416.8h.05M37.6 438.5h.05M52.2 466.1h.05M72.4 422.1h.05M38.1 456.0h.05M47.1 486.6h.05M49.7 487.3h.05M58.3 462.8h.05M40.0 472.2h.05M74.1 476.4h.05M46.5 486.5h.05M55.7 476.6h.05M36.0 419.6h.05M38.1 468.8h.05M61.0 470.6h.05M55.0 410.3h.05M74.2 416.2h.05M43.3 464.3h.05M34.3 419.6h.05M41.6 467.1h.05M44.3 433.4h.05M33.6 416.3h.05M33.9 466.5h.05M49.2 424.9h.05M66.3 418.3h.05M53.5 472.9h.05M38.6 471.5h.05M65.5 416.4h.05M67.8 423.5h.05M52.6 483.0h.05M56.8 440.5h.05M52.9 484.6h.05M35.3 486.4h.05M71.6 483.7h.05M79.6 469.6h.05M43.3 480.6h.05M42.2 429.4h.05M55.5 467.4h.05M89.5 425.8h.05M59.3 483.6h.05M53.1 441.3h.05M33.8 480.8h.05M39.2 440.7h.05M33.7 429.7h.05M33.4 448.8h.05M38.9 454.1h.05M48.1 483.8h.05M68.7 474.2h.05M91.2 463.7h.05M56.4 447.6h.05M51.1 436.8h.05M35.7 431.5h.05M43.0 455.5h.05M52.0 421.1h.05M55.2 419.6h.05M74.3 415.9h.05M38.8 486.0h.05M42.6 411.6h.05M53.4 440.5h.05M36.8 429.8h.05M34.5 423.5h.05M38.5 428.9h.05M38.2 451.9h.05M37.7 410.3h.05M40.2 474.1h.05M60.2 418.7h.05M36.2 415.4h.05M92.5 468.9h.05M72.4 423.5h.05M43.5 416.7h.05M37.9 431.3h.05M61.9 421.3h.05M41.6 442.3h.05M36.8 417.9h.05M75.5 475.0h.05M55.5 426.8h.05M37.8 467.8h.05M36.4 428.4h.05M52.1 425.0h.05M36.4 431.0h.05M45.8 484.6h.05M66.5 473.1h.05M39.0 482.9h.05M49.7 482.0h.05M91.9 452.8h.05M58.5 426.6h.05M56.2 438.9h.05M53.2 440.5h.05M40.3 436.1h.05M49.6 419.6h.05M50.1 420.1h.05M46.1 413.1h.05M53.0 455.7h.05M58.6 410.2h.05M60.1 448.8h.05M34.8 425.0h.05M63.9 416.7h.05M57.1 427.4h.05M76.6 420.6h.05M40.0 426.7h.05M36.3 473.8h.05M55.6 443.6h.05M54.9 458.6h.05M37.8 420.4h.05M36.9 437.0h.05M53.2 480.0h.05M58.0 483.5h.05M37.2 463.7h.05M53.8 473.0h.05M77.4 419.4h.05M40.2 462.6h.05M64.3 473.2h.05M39.7 469.1h.05M43.5 440.4h.05M40.6 420.3h.05M33.8 444.5h.05M45.8 482.8h.05M35.2 422.9h.05M37.5 461.7h.05M51.6 414.0h.05M34.8 412.5h.05M36.0 427.5h.05M41.2 414.5h.05M38.5 426.7h.05M59.3 447.6h.05M44.6 434.2h.05M53.2 442.1h.05M36.2 411.7h.05M37.4 428.8h.05M43.4 468.4h.05M43.5 467.4h.05M35.8 476.0h.05M55.4 462.8h.05M51.5 411.9h.05M55.3 471.3h.05M67.7 414.8h.05M51.7 459.2h.05M60.1 464.6h.05M40.6 443.0h.05M36.7 486.6h.05M52.8 429.9h.05M33.7 443.1h.05M38.3 475.0h.05M61.4 470.8h.05M58.3 472.5h.05M52.1 422.9h.05M38.6 420.0h.05M38.0 443.6h.05M36.0 470.2h.05M38.2 436.2h.05M43.5 422.2h.05M59.6 423.8h.05" stroke="#888" stroke-width="0.60" stroke-linecap="round" fill="none"/>
<rect x="44.5" y="489.3" width="5.5" height="2.2" fill="#111"/>
<rect x="32.00" y="408.70" width="80.30" height="80.30" fill="none" stroke="#000" stroke-width="1.4"/>
<path d="M29.5 484.3h2.5M29.5 481.6h2.5M29.5 479.7h2.5M29.5 478.2h2.5M29.5 477.0h2.5M29.5 475.9h2.5M29.5 475.0h2.5M29.5 474.3h2.5M28.4 473.6h3.6M29.5 468.9h2.5M29.5 466.2h2.5M29.5 464.2h2.5M29.5 462.8h2.5M29.5 461.5h2.5M29.5 460.5h2.5M29.5 459.6h2.5M29.5 458.8h2.5M28.4 458.1h3.6M29.5 453.4h2.5M29.5 450.7h2.5M29.5 448.8h2.5M29.5 447.3h2.5M29.5 446.1h2.5M29.5 445.0h2.5M29.5 444.1h2.5M29.5 443.4h2.5M28.4 442.6h3.6M29.5 438.0h2.5M29.5 435.3h2.5M29.5 433.3h2.5M29.5 431.9h2.5M29.5 430.6h2.5M29.5 429.6h2.5M29.5 428.7h2.5M29.5 427.9h2.5M28.4 427.2h3.6M29.5 422.5h2.5M29.5 419.8h2.5M29.5 417.9h2.5M29.5 416.4h2.5M29.5 415.2h2.5M29.5 414.1h2.5M29.5 413.2h2.5M29.5 412.5h2.5M28.4 411.8h3.6M34.0 489.0v3.4M38.7 489.0v2.3M41.4 489.0v2.3M43.3 489.0v2.3M44.8 489.0v2.3M46.0 489.0v2.3M47.1 489.0v2.3M48.0 489.0v2.3M48.7 489.0v2.3M49.5 489.0v3.4M54.1 489.0v2.3M56.8 489.0v2.3M58.8 489.0v2.3M60.2 489.0v2.3M61.5 489.0v2.3M62.5 489.0v2.3M63.4 489.0v2.3M64.2 489.0v2.3M64.9 489.0v3.4M69.6 489.0v2.3M72.3 489.0v2.3M74.2 489.0v2.3M75.7 489.0v2.3M76.9 489.0v2.3M78.0 489.0v2.3M78.9 489.0v2.3M79.6 489.0v2.3M80.3 489.0v3.4M85.0 489.0v2.3M87.7 489.0v2.3M89.7 489.0v2.3M91.1 489.0v2.3M92.4 489.0v2.3M93.4 489.0v2.3M94.3 489.0v2.3M95.1 489.0v2.3M95.8 489.0v3.4M100.5 489.0v2.3M103.2 489.0v2.3M105.1 489.0v2.3M106.6 489.0v2.3M107.8 489.0v2.3M108.9 489.0v2.3M109.8 489.0v2.3M110.5 489.0v2.3M111.2 489.0v3.4" stroke="#000" stroke-width="0.7" fill="none"/>
<path d="M64.30 410.00L53.40 430.00L53.40 460.20L73.80 483.60L99.90 483.60L99.90 410.00Z" fill="none" stroke="#000" stroke-width="1.1" stroke-linejoin="miter"/>
<text x="100.00" y="417.40" font-size="7.4" fill="#111" text-anchor="end" stroke="#111" stroke-width="0.18" textLength="26.3" lengthAdjust="spacingAndGlyphs" >CD11b+</text>
<text x="100.00" y="424.60" font-size="7.4" fill="#111" text-anchor="end" stroke="#111" stroke-width="0.18" >74.5</text>
<line x1="99.90" y1="454.60" x2="120.80" y2="454.60" stroke="#111" stroke-width="1.1" />
<path d="M117.00 451.20L124.80 454.60L117.00 458.00L118.80 454.60Z" fill="#000"/>
<path d="M155.9 457.6l-.6-.1-.7 0-.5-.2-.6-.2-.5-.3-.4-.3-.4-.4-.3-.5-.3-.4-.2-.6-.1-.6 0-.7 .1-.5 .3-.5 .3-.5 .4-.5 .3-.2 .4-.3 .5-.3 .5-.2 .8-.2 .5-.1 .6 .1 .6 0 .7 .2 .6 .2 .4 .3 .4 .2 .4 .4 .3 .4 .3 .5 .3 .5 .1 .8 0 .3-.1 .7-.2 .4-.2 .6-.4 .4-.3 .4-.5 .4-.5 .2-.5 .3-.5 .1-.8 .1z" fill="none" stroke="#222" stroke-width="0.5" stroke-opacity="1.0"/>
<path d="M156.6 455.6l-.7 .2-.8-.1-.5-.2-.5-.3-.4-.4-.3-.5 0-.8 .2-.6 .3-.3 .5-.4 .5-.2 .7-.2 .8 .1 .5 .3 .4 .4 .3 .3 .2 .7 .1 .4-.2 .6-.3 .4-.3 .3-.5 .3z" fill="none" stroke="#222" stroke-width="0.5" stroke-opacity="1.0"/>
<path d="M155.6 454.8l-.2 0-.5-.2-.3-.3-.1-.2 0-.6 .1-.2 .3-.3 .5-.2 .2 0 .3 0 .5 .2 .2 .3 .1 .2 0 .6-.1 .2-.2 .3-.5 .2-.3 0z" fill="none" stroke="#222" stroke-width="0.5" stroke-opacity="1.0"/>
<clipPath id="cp2"><rect x="146.8" y="409.0" width="50.8" height="80.8"/></clipPath><g clip-path="url(#cp2)">
<path d="M147.6 476.4l.3-.3 .4-.6 .3-.2 .5-.5 .4-.2 .4-.3 .5-.4 .5-.3 .3-.3 .4-.3 .5-.3 .5-.3 .5-.3 .5-.3 .5-.2 .5-.3 .5-.2 .5-.2 .5-.2 .5-.2 .7-.2 .6-.1 .5-.2 .7-.2 .5-.1 .6-.1 .7-.2 .5-.1 .7-.1 .7-.1 .6-.1 .7-.2 .5 0 .8-.2 .6-.1 .6 0 .8-.1 .5-.1 .7-.1 .8-.1 .5-.1 .7-.1 .6-.1 .7-.1 .7-.1 .5-.1 .8-.1 .5-.1 .7-.2 .5-.1 .8-.1 .5-.1 .7-.2 .5-.1 .8-.2 .5-.1 .5-.1 .7-.2 .5-.2 .6-.1 .7-.2 .5-.2 .6-.1 .6-.2 .5-.1 .8-.2 .5-.1 .7-.2 .5-.1 .8-.1 .5-.1 .7-.1 .8-.1 .7 0 .8 0 .7 0 .8 .1 .7 .1 .5 .1 .6 .2 .7 .2 .5 .2 .5 .2 .5 .2 .5 .4 .4 .3 .3 .2 .5 .5 .3 .3 .3 .5 .2 .5 .2 .5 .1 .8 .1 .7-.1 .8-.1 .4-.2 .8-.1 .5-.2 .7 0 .6 0 .4 .3 .6 .5 .4 .3 .3 .4 .3 .5 .3 .5 .3 .5 .4 .3 .2 .5 .3 .5 .4 .3 .3 .4 .4 .3 .4 .4 .4 .3 .6 .2 .4 .2 .6 .1 .7-.1 .8-.1 .7-.3 .5-.2 .5-.3 .3-.3 .4-.4 .5-.4 .3-.4 .3-.5 .3-.5 .3-.5 .3-.5 .2-.5 .2-.5 .2-.5 .2-.7 .2-.5 .2-.7 .1-.6 .1-.7 .1-.5 .1-.8 .1-.7 .1-.8 0-.5 0-.7 0-.8 0-.7 0-.5 0-.8 0-.7-.1-.8 0-.7-.1-.5-.1-.8 0-.7-.1-.6-.1-.7-.1-.7-.1-.5-.1-.8-.1-.6-.1-.6-.1-.7-.1-.6-.2-.7-.1-.5-.1-.8-.1-.5-.1-.7-.2-.5-.1-.8-.1-.5-.1-.7-.2-.5-.1-.8-.1-.5-.1-.7-.1-.6-.1-.7-.1-.7-.1-.5-.1-.8-.1-.5-.1-.7-.1-.7-.1-.6-.1-.7-.2-.5 0-.8-.2-.5-.1-.7-.1-.8-.1-.5-.1-.7-.1-.5-.1-.8-.1-.7-.1-.5-.1-.8-.1-.5-.1-.7-.1-.7-.1-.6-.1-.7-.1-.5-.2-.6-.1-.7-.2-.5-.1-.5-.2-.7-.2-.5-.3-.5-.2-.4-.3-.4-.3-.5-.4-.3-.3z" fill="#000" fill-opacity="0.190" stroke="#000" stroke-width="0.42" stroke-opacity="1.0"/>
<path d="M195.4 487.1l-.8 .1-.7 0-.8 .1-.7 0-.8 0-.7 0-.8-.1-.7 0-.8-.1-.6-.1-.6 0-.8-.1-.7-.1-.5-.1-.8-.1-.6-.1-.6 0-.8-.2-.5-.1-.7-.1-.5-.1-.8-.1-.5-.1-.7-.1-.7-.1-.6-.2-.7-.1-.5-.1-.8-.1-.5-.1-.7-.2-.5 0-.8-.2-.5-.1-.7-.1-.7-.1-.6-.1-.7-.1-.5-.1-.8-.1-.5-.1-.7-.1-.7-.1-.6-.1-.7-.2-.5-.1-.8-.1-.5-.1-.7-.1-.7-.1-.6-.1-.7-.1-.5-.1-.8-.1-.7-.1-.5-.1-.8-.1-.5-.1-.7-.1-.6-.1-.7-.1-.6-.1-.6-.2-.5-.1-.7-.2-.6-.3-.5-.2-.5-.3-.4-.2-.3-.3-.5-.5-.2-.5 0-.8 .2-.4 .3-.6 .4-.3 .5-.3 .5-.3 .5-.2 .5-.2 .5-.2 .8-.2 .5-.1 .7-.1 .5-.1 .8-.1 .7-.1 .5 0 .8-.1 .7-.1 .8 0 .5-.1 .7-.1 .8-.1 .5 0 .7-.1 .8-.1 .5-.1 .7-.1 .5-.1 .8-.2 .5-.1 .7-.2 .5-.1 .5-.2 .8-.2 .5-.1 .5-.2 .7-.2 .5-.1 .5-.2 .8-.2 .5-.1 .5-.1 .7-.3 .5-.1 .5-.1 .8-.3 .5-.1 .5-.2 .7-.2 .5-.2 .5-.1 .5-.2 .7-.2 .6-.2 .5-.2 .5-.2 .6-.2 .6-.2 .5-.2 .5-.1 .8-.2 .5-.2 .5-.1 .7-.2 .5-.1 .8-.1 .7 0 .8-.1 .7 0 .8 .1 .6 .2 .6 .1 .5 .2 .5 .3 .5 .3 .3 .3 .4 .5 .3 .5 .2 .5 .1 .5 0 .8 0 .7 0 .8 .1 .7 .3 .5 .3 .3 .5 .4 .5 .3 .5 .2 .5 .3 .5 .2 .5 .3 .5 .2 .5 .3 .5 .2 .4 .3 .4 .2 .5 .3 .5 .4 .3 .4 .4 .4 .3 .3 .3 .5 .2 .5 .2 .8 0 .4 0 .6-.2 .7-.3 .5-.2 .3-.4 .4-.4 .5-.4 .3-.4 .2-.4 .4-.5 .2-.5 .3-.5 .2-.6 .2-.7 .2-.5 .2-.6 .1-.6 .1-.8 .1z" fill="#000" fill-opacity="0.190" stroke="#000" stroke-width="0.42" stroke-opacity="1.0"/>
<path d="M195.1 486.6l-.7 0-.8 .1-.7 0-.8 0-.7 0-.8 0-.7 0-.8-.1-.7 0-.5-.1-.8-.1-.7-.1-.5 0-.8-.1-.7-.1-.5-.1-.8-.1-.5-.1-.7-.1-.6-.1-.7-.2-.7-.1-.5-.1-.8-.1-.5-.1-.7-.2-.5 0-.8-.2-.5-.1-.7-.1-.6-.1-.7-.1-.7-.1-.5-.1-.8-.2-.5-.1-.7-.1-.5-.1-.8-.1-.5-.1-.7-.1-.8-.1-.5-.1-.7-.2-.5 0-.8-.2-.5-.1-.7-.1-.7-.1-.6-.1-.7-.1-.5-.1-.8-.1-.6-.1-.6-.1-.8-.1-.5-.1-.7-.1-.5-.1-.8-.1-.5-.2-.7-.1-.5-.2-.5-.2-.6-.2-.5-.2-.4-.3-.5-.5-.3-.4-.1-.6 .2-.5 .4-.5 .3-.2 .5-.3 .5-.3 .6-.2 .6-.2 .5-.1 .8-.1 .5-.1 .7-.1 .8 0 .7-.1 .8 0 .5-.1 .7 0 .8 0 .7 0 .8-.1 .7 0 .8 0 .7-.1 .5 0 .8-.1 .7 0 .8-.1 .7 0 .5-.1 .8 0 .7-.1 .8-.1 .5 0 .7-.1 .8-.1 .6-.1 .6 0 .8-.1 .5-.1 .7-.1 .6-.1 .7-.2 .5-.1 .5-.2 .6-.3 .5-.2 .5-.3 .4-.2 .5-.3 .5-.3 .5-.3 .5-.2 .5-.3 .5-.2 .5-.2 .5-.2 .7-.3 .5-.1 .5-.2 .8-.1 .6-.1 .6 0 .8 0 .5 .1 .6 .2 .5 .2 .4 .2 .4 .6 .3 .4 .2 .6 .1 .4 .1 .8 .2 .5 .4 .5 .3 .2 .5 .4 .5 .2 .5 .3 .5 .2 .6 .2 .6 .2 .5 .2 .5 .2 .5 .2 .5 .2 .5 .3 .5 .2 .5 .3 .5 .3 .5 .3 .4 .4 .4 .3 .4 .4 .3 .5 .3 .5 .1 .5 .1 .5 0 .5-.2 .8-.2 .4-.3 .5-.3 .3-.5 .5-.3 .2-.4 .3-.5 .3-.5 .3-.5 .2-.6 .2-.7 .2-.5 .2-.5 .1-.7 .1-.8 .2z" fill="#000" fill-opacity="0.190" stroke="#000" stroke-width="0.42" stroke-opacity="1.0"/>
<path d="M193.4 486.3l-.8 0-.7 0-.8 0-.7 0-.5 0-.8-.1-.7 0-.8-.1-.5-.1-.7-.1-.8-.1-.5 0-.7-.2-.6-.1-.7-.1-.7-.1-.5-.1-.8-.1-.5-.1-.7-.1-.5-.1-.8-.1-.5-.1-.7-.2-.7-.1-.6-.1-.7-.1-.5-.1-.8-.2-.5-.1-.7-.1-.5-.1-.8-.1-.5-.1-.7-.1-.7-.1-.6-.1-.7-.2-.5-.1-.8-.1-.5-.1-.7-.1-.5-.1-.8-.1-.6-.1-.6-.2-.8-.1-.5-.1-.7-.1-.5-.1-.8-.1-.7-.1-.5-.1-.8-.1-.5-.1-.7-.1-.5-.1-.8-.2-.5-.1-.6-.2-.6-.2-.5-.3-.5-.2-.3-.3-.3-.5 0-.8 .3-.3 .4-.4 .5-.2 .6-.3 .5-.1 .5-.2 .8-.1 .7-.1 .5 0 .8-.1 .7 0 .8 0 .7-.1 .8 0 .7 0 .8 0 .7 0 .5-.1 .8 0 .7 0 .8-.1 .7 0 .8 0 .7-.1 .5 0 .8 0 .7-.1 .8 0 .7-.1 .8 0 .6-.1 .6 0 .8 0 .7-.1 .8 0 .7-.1 .5 0 .8-.1 .7-.1 .8 0 .5-.1 .7-.1 .5-.1 .8-.2 .5-.1 .7-.1 .5-.2 .7-.1 .6-.2 .5-.1 .7-.2 .8 0 .7 .1 .5 .2 .5 .2 .6 .2 .5 .2 .7 .3 .5 .2 .5 .1 .5 .2 .7 .2 .5 .2 .5 .2 .7 .2 .6 .1 .5 .2 .5 .2 .7 .2 .5 .2 .5 .2 .5 .2 .5 .2 .5 .3 .5 .3 .5 .4 .3 .2 .5 .4 .2 .4 .3 .4 .3 .6 .1 .7 0 .8-.2 .5-.3 .4-.3 .6-.4 .3-.5 .4-.3 .2-.4 .3-.5 .3-.6 .2-.7 .2-.5 .2-.5 .1-.7 .2-.5 .1-.8 .1-.7 .1-.5 0z" fill="#000" fill-opacity="0.190" stroke="#000" stroke-width="0.42" stroke-opacity="1.0"/>
<path d="M193.6 485.8l-.7 .1-.8 0-.7 0-.8 0-.7-.1-.5 0-.8-.1-.7-.1-.8 0-.5-.1-.7-.1-.7-.1-.6-.1-.7-.1-.5-.1-.8-.1-.5-.1-.7-.1-.7-.1-.6-.2-.7-.1-.5-.1-.8-.1-.5-.1-.7-.2-.5-.1-.8-.1-.5-.1-.7-.1-.5-.1-.8-.2-.5-.1-.7-.1-.7-.1-.6-.1-.7-.1-.5-.1-.8-.2-.5-.1-.7-.1-.5-.1-.8-.1-.5-.1-.7-.2-.5-.1-.8-.1-.5-.1-.7-.1-.7-.1-.6-.2-.7-.1-.5-.1-.8-.1-.5-.1-.7-.1-.5-.1-.8-.2-.5-.1-.6-.2-.6-.2-.4-.3-.4-.4-.1-.6 .4-.4 .5-.3 .5-.2 .5-.2 .7-.1 .5-.1 .8 0 .7-.1 .8 0 .7 0 .8-.1 .7 0 .7 0 .6 0 .7 0 .8-.1 .7 0 .8 0 .7-.1 .8 0 .7-.1 .5 0 .8 0 .7-.1 .8 0 .7 0 .8-.1 .7 0 .5 0 .8 0 .7-.1 .8 0 .7-.1 .8 0 .7 0 .5-.1 .8 0 .7-.1 .8 0 .7-.1 .5 0 .8-.1 .7 0 .8-.1 .7 0 .5-.1 .8 0 .6 .1 .6 0 .8 0 .7 .1 .6 .1 .7 .1 .7 .1 .5 .1 .8 .2 .5 .1 .7 .1 .5 .2 .5 .1 .8 .2 .5 .2 .5 .1 .6 .2 .6 .3 .5 .2 .4 .3 .5 .2 .4 .3 .5 .5 .2 .2 .4 .6 .3 .4 .1 .6 0 .7-.1 .5-.3 .5-.3 .5-.3 .3-.5 .4-.4 .3-.5 .2-.5 .3-.6 .2-.5 .2-.5 .2-.8 .1-.5 .1-.7 .1-.7 .1z" fill="#000" fill-opacity="0.190" stroke="#000" stroke-width="0.42" stroke-opacity="1.0"/>
<path d="M194.6 485.3l-.7 .1-.8 .1-.7 0-.8 0-.7 0-.8 0-.7-.1-.8 0-.6-.1-.6-.1-.8-.1-.6-.1-.6 0-.8-.2-.5 0-.7-.2-.6-.1-.7-.1-.7-.1-.5-.1-.8-.1-.5-.1-.7-.2-.5-.1-.8-.1-.5-.1-.7-.1-.5-.1-.8-.2-.5-.1-.7-.1-.5-.1-.8-.2-.5-.1-.7-.1-.5-.1-.8-.1-.5-.1-.7-.2-.6-.1-.7-.1-.5-.1-.7-.2-.6-.1-.7-.1-.5-.2-.7-.1-.5-.1-.8-.2-.5-.1-.7-.1-.5-.1-.8-.2-.5-.1-.7-.1-.5-.1-.8-.2-.5-.2-.5-.2-.5-.4 0-.3 .5-.4 .5-.2 .5-.1 .8-.1 .7-.1 .8 0 .5-.1 .7 0 .8-.1 .7 0 .8 0 .7-.1 .5 0 .8 0 .7-.1 .8 0 .7-.1 .8 0 .5-.1 .7 0 .8 0 .7-.1 .8 0 .7 0 .8-.1 .5 0 .7 0 .8-.1 .7 0 .8 0 .7-.1 .8 0 .7 0 .5-.1 .8 0 .7-.1 .8 0 .7-.1 .7 0 .6 0 .7-.1 .8 0 .7 0 .8 0 .7 0 .8 .1 .5 0 .7 .1 .8 .1 .7 .1 .5 0 .8 .2 .5 0 .7 .2 .5 .1 .7 .2 .6 .1 .5 .2 .5 .2 .6 .2 .6 .3 .4 .2 .4 .3 .5 .3 .4 .4 .3 .3 .3 .5 .2 .5 .1 .8-.1 .6-.2 .5-.3 .4-.5 .4-.3 .3-.4 .3-.5 .3-.5 .2-.6 .2-.7 .2-.5 .1-.7 .2z" fill="#000" fill-opacity="0.190" stroke="#000" stroke-width="0.42" stroke-opacity="1.0"/>
<path d="M194.1 485.1l-.7 .1-.8 0-.7 0-.8 0-.7 0-.8 0-.7-.1-.5-.1-.8 0-.7-.1-.6-.1-.7-.1-.7-.1-.5-.1-.8-.1-.5-.1-.7-.1-.7-.1-.6-.2-.7-.1-.5-.1-.8-.1-.5-.1-.7-.2-.5-.1-.8-.1-.5-.1-.7-.2-.5-.1-.8-.1-.5-.1-.7-.2-.5-.1-.8-.1-.5-.1-.7-.2-.5-.1-.8-.1-.5-.2-.6-.1-.6-.1-.5-.2-.8-.1-.5-.1-.7-.2-.5-.1-.7-.2-.6-.2-.5-.1-.7-.2-.5-.2-.5-.1-.6-.2-.4-.3 .1-.4 .6-.2 .5-.1 .8-.1 .7-.1 .5-.1 .8-.1 .7 0 .7-.1 .6-.1 .7 0 .8-.1 .7 0 .5-.1 .8 0 .7-.1 .8 0 .7-.1 .7 0 .6 0 .7-.1 .8 0 .7 0 .8-.1 .7 0 .7-.1 .6 0 .7 0 .8-.1 .7 0 .8 0 .7-.1 .5 0 .8-.1 .7 0 .8 0 .7 0 .8-.1 .7 0 .8 0 .7 .1 .8 0 .7 .1 .5 0 .8 .1 .7 .1 .5 .1 .8 .1 .5 .1 .7 .2 .5 .1 .7 .2 .6 .2 .5 .2 .5 .2 .5 .2 .5 .3 .5 .4 .3 .2 .4 .5 .3 .4 .2 .7 0 .4-.1 .6-.2 .4-.4 .6-.3 .3-.5 .4-.5 .2-.5 .3-.5 .2-.5 .2-.5 .1-.7 .2-.6 .1z" fill="#000" fill-opacity="0.190" stroke="#000" stroke-width="0.42" stroke-opacity="1.0"/>
<path d="M193.9 484.8l-.8 .1-.7 0-.8 .1-.7-.1-.8 0-.7 0-.8-.1-.5-.1-.7 0-.8-.1-.5-.1-.7-.1-.5-.1-.8-.1-.7-.1-.5-.1-.8-.2-.5-.1-.7-.1-.5-.1-.8-.2-.5-.1-.7-.1-.5-.1-.8-.2-.5-.1-.7-.1-.5-.1-.8-.2-.5-.1-.7-.1-.5-.1-.7-.2-.6-.1-.6-.1-.6-.2-.5-.1-.8-.2-.5-.1-.6-.2-.6-.2-.5-.1-.7-.2-.6-.2-.5-.2-.5-.2-.5-.3 0-.4 .5-.3 .5-.1 .8-.2 .6-.1 .6-.1 .8-.1 .5-.1 .7 0 .8-.1 .7-.1 .6 0 .7 0 .7-.1 .8-.1 .7 0 .8 0 .5-.1 .7 0 .8-.1 .7 0 .8 0 .7-.1 .5 0 .8-.1 .7 0 .8 0 .7-.1 .8 0 .7 0 .5-.1 .8 0 .7 0 .8 0 .7 0 .8 0 .5 .1 .7 0 .8 .1 .7 .1 .5 0 .8 .1 .5 .2 .7 .1 .5 .1 .8 .2 .5 .2 .5 .1 .5 .2 .5 .3 .5 .3 .5 .3 .4 .4 .3 .4 .3 .4 .2 .7-.1 .8-.3 .4-.3 .5-.4 .3-.4 .3-.5 .3-.5 .2-.5 .2-.7 .2-.5 .1-.8 .2z" fill="#000" fill-opacity="0.190" stroke="#000" stroke-width="0.42" stroke-opacity="1.0"/>
<path d="M193.4 484.6l-.8 0-.7 .1-.8 0-.7 0-.8-.1-.7-.1-.5 0-.8-.1-.7-.1-.5-.1-.8-.1-.5-.1-.7-.1-.8-.1-.5-.1-.7-.1-.5-.1-.8-.2-.5-.1-.7-.1-.5-.1-.8-.2-.5-.1-.7-.1-.5-.2-.7-.1-.6-.1-.5-.1-.7-.2-.5-.1-.8-.2-.5-.1-.7-.2-.5-.1-.5-.2-.8-.2-.5-.2-.5-.1-.5-.2-.6-.2-.4-.3-.3-.5 .3-.3 .7-.2 .6-.1 .5-.1 .7-.2 .8-.1 .5 0 .7-.1 .8-.1 .7 0 .5-.1 .8 0 .7-.1 .8 0 .7-.1 .5 0 .8-.1 .7 0 .8-.1 .7 0 .6-.1 .7 0 .7 0 .8-.1 .7 0 .8 0 .7 0 .8-.1 .7 .1 .8 0 .7 0 .8 0 .7 .1 .6 .1 .7 0 .7 .1 .5 .1 .8 .2 .5 .1 .7 .2 .5 .1 .5 .2 .5 .2 .5 .3 .5 .3 .5 .4 .3 .2 .4 .6 .1 .4 .1 .8-.2 .5-.4 .5-.3 .3-.5 .3-.5 .3-.5 .2-.5 .2-.7 .2-.5 .1-.8 .1z" fill="#000" fill-opacity="0.160" stroke="#000" stroke-width="0.42" stroke-opacity="1.0"/>
<path d="M193.1 484.3l-.7 .1-.8 0-.7 0-.8 0-.7-.1-.5 0-.8-.1-.7-.1-.5-.1-.8-.1-.7-.1-.5-.1-.8-.1-.5-.1-.7-.1-.5-.1-.8-.2-.5-.1-.7-.1-.5-.1-.8-.2-.5-.1-.7-.2-.5-.1-.7-.1-.6-.2-.5-.1-.7-.2-.5-.1-.6-.2-.7-.2-.5-.1-.5-.2-.7-.2-.5-.3-.5-.2-.3-.6 .5-.3 .5-.2 .8-.2 .5-.1 .7-.1 .5-.1 .8 0 .7-.1 .8-.1 .5 0 .7-.1 .8-.1 .7 0 .5-.1 .8 0 .7-.1 .8 0 .7-.1 .6 0 .7 0 .7-.1 .8 0 .7 0 .8 0 .7 0 .8 0 .7 0 .8 0 .7 .1 .5 0 .8 .1 .7 .1 .5 .1 .8 .2 .5 .1 .5 .2 .7 .2 .5 .2 .5 .2 .5 .3 .4 .3 .4 .3 .3 .4 .2 .6 0 .7-.2 .5-.3 .4-.4 .4-.4 .2-.5 .3-.6 .2-.6 .2-.5 .1-.8 .2-.5 0z" fill="#000" fill-opacity="0.160" stroke="#000" stroke-width="0.42" stroke-opacity="1.0"/>
<path d="M192.6 484.1l-.7 0-.8 0-.7 0-.8 0-.5-.1-.7 0-.8-.1-.5-.1-.7-.1-.8-.1-.5-.1-.7-.1-.5-.1-.8-.2-.5-.1-.7-.1-.5-.1-.8-.2-.5-.1-.7-.2-.5-.1-.6-.1-.7-.2-.5-.2-.7-.1-.5-.2-.5-.2-.6-.1-.7-.3-.5-.2-.5-.3-.3-.2 .1-.6 .5-.2 .7-.2 .5-.1 .8-.1 .5-.1 .7-.1 .8-.1 .5-.1 .7 0 .8-.1 .7-.1 .5 0 .8-.1 .7 0 .8-.1 .7 0 .6-.1 .7 0 .7 0 .8 0 .7 0 .8 0 .7 0 .8 0 .5 .1 .7 0 .8 .1 .5 .1 .7 .1 .6 .2 .7 .1 .5 .2 .5 .2 .6 .2 .4 .2 .5 .3 .5 .5 .2 .3 .2 .7-.1 .8-.3 .4-.3 .3-.5 .3-.5 .3-.5 .2-.7 .2-.5 .1-.8 .1-.5 .1z" fill="#000" fill-opacity="0.160" stroke="#000" stroke-width="0.42" stroke-opacity="1.0"/>
<path d="M192.6 483.8l-.7 .1-.8 0-.7 0-.8-.1-.5 0-.7-.1-.8-.1-.5-.1-.7-.1-.8-.1-.5-.1-.7-.1-.5-.1-.8-.2-.5-.1-.7-.1-.5-.2-.7-.1-.6-.2-.5-.1-.7-.2-.5-.1-.5-.2-.7-.2-.6-.2-.5-.2-.5-.2-.5-.4-.1-.5 .4-.2 .7-.3 .5-.1 .7-.1 .6-.1 .7-.1 .5-.1 .8-.1 .7-.1 .8 0 .5-.1 .7 0 .8-.1 .7 0 .8-.1 .5 0 .7 0 .8 0 .7 0 .8 0 .7 0 .5 0 .8 .1 .7 .1 .6 .1 .7 .1 .7 .1 .5 .1 .5 .2 .6 .2 .5 .2 .4 .3 .5 .3 .4 .4 .2 .6 0 .7-.3 .5-.3 .3-.5 .4-.5 .2-.5 .2-.5 .2-.7 .1-.8 .1z" fill="#000" fill-opacity="0.160" stroke="#000" stroke-width="0.42" stroke-opacity="1.0"/>
<path d="M192.1 483.6l-.7 0-.8 0-.7 0-.5-.1-.8 0-.7-.1-.6-.1-.7-.1-.7-.1-.5-.1-.8-.2-.5-.1-.7-.1-.5-.1-.7-.2-.6-.2-.5-.1-.7-.2-.5-.1-.5-.2-.6-.2-.6-.2-.5-.3-.4-.2-.2-.5 .3-.3 .6-.2 .6-.2 .5-.1 .8-.2 .5-.1 .7 0 .8-.1 .7-.1 .5 0 .8-.1 .7-.1 .8 0 .7 0 .8 0 .5-.1 .5 .1 .7 0 .8 0 .7 0 .8 .1 .6 .1 .6 .1 .7 .2 .6 .1 .5 .1 .5 .2 .5 .3 .5 .3 .4 .4 .3 .5 .1 .6-.2 .4-.4 .5-.5 .3-.5 .2-.5 .2-.5 .1-.7 .2-.7 .1z" fill="#000" fill-opacity="0.160" stroke="#000" stroke-width="0.42" stroke-opacity="1.0"/>
<path d="M191.6 483.3l-.7 0-.8 0-.5 0-.7-.1-.8-.1-.6-.1-.6 0-.8-.2-.5-.1-.7-.1-.5-.1-.8-.2-.5-.1-.5-.2-.7-.2-.5-.1-.5-.2-.5-.2-.6-.2-.4-.3-.3-.5 .3-.3 .5-.3 .6-.1 .6-.2 .6-.1 .7-.1 .7-.1 .6-.1 .7 0 .7-.1 .8 0 .7 0 .8-.1 .7 0 .8 .1 .7 0 .8 .1 .7 0 .5 .1 .8 .2 .5 .1 .5 .2 .7 .2 .4 .2 .4 .3 .5 .5 .1 .5-.1 .7-.4 .3-.4 .3-.5 .2-.7 .2-.5 .2-.8 .1-.5 0z" fill="#000" fill-opacity="0.160" stroke="#000" stroke-width="0.42" stroke-opacity="1.0"/>
<path d="M192.9 482.8l-.8 .1-.7 .1-.8 0-.7 0-.8-.1-.7 0-.5-.1-.8-.1-.7-.1-.5-.2-.7-.1-.6-.2-.5-.1-.7-.2-.5-.2-.5-.2-.5-.2-.5-.3-.4-.3 .4-.5 .5-.2 .5-.2 .7-.1 .5-.1 .8-.1 .7-.1 .5 0 .8-.1 .7 0 .8 0 .7 0 .8 0 .7 .1 .5 0 .8 .1 .7 .1 .5 .2 .5 .1 .5 .2 .5 .3 .5 .5 .2 .5-.2 .6-.4 .4-.5 .2-.6 .2z" fill="#000" fill-opacity="0.160" stroke="#000" stroke-width="0.42" stroke-opacity="1.0"/>
<path d="M192.1 482.6l-.7 0-.8 .1-.7 0-.8-.1-.5-.1-.7-.1-.8-.1-.5-.1-.7-.1-.5-.2-.5-.1-.7-.2-.5-.3-.5-.2-.2-.6 .4-.3 .5-.2 .7-.2 .5 0 .8-.1 .7-.1 .5-.1 .8 0 .7 0 .8 0 .5 .1 .7 .1 .8 .1 .5 .1 .6 .2 .6 .2 .4 .2 .4 .4 .1 .7-.4 .4-.5 .3-.5 .1-.5 .2z" fill="#000" fill-opacity="0.160" stroke="#000" stroke-width="0.42" stroke-opacity="1.0"/>
<path d="M191.9 482.1l-.8 .1-.7 .1-.8-.1-.7 0-.8-.1-.5-.1-.7-.2-.5-.2-.5-.2-.5-.2-.4-.4 .4-.4 .5-.1 .7-.2 .5-.1 .8 0 .7-.1 .8 .1 .7 0 .5 .1 .8 .1 .5 .2 .5 .2 .5 .4 0 .6-.3 .2-.6 .2z" fill="#000" fill-opacity="0.160" stroke="#000" stroke-width="0.42" stroke-opacity="1.0"/>
<path d="M190.6 481.6l-.5 0-.5 0-.5 0-.2-.1-.5-.1-.3-.1-.4-.2 .2-.3 .5-.1 .5-.1 .5 0 .5 0 .5 .1 .3 .1 .4 .2 0 .3-.2 .2-.3 .1z" fill="#000" fill-opacity="0.160" stroke="#000" stroke-width="0.42" stroke-opacity="1.0"/>
</g>
<path d="M189.3 457.7h.05M149.4 487.1h.05M161.8 462.5h.05M204.5 487.2h.05M164.1 455.0h.05M201.7 454.4h.05M189.0 462.4h.05M198.4 443.0h.05M161.1 452.3h.05M151.2 456.5h.05M199.4 461.7h.05M182.8 461.8h.05M189.4 462.2h.05M193.3 463.1h.05M167.1 466.1h.05M154.0 469.5h.05M204.9 475.2h.05M159.7 485.1h.05M162.7 465.6h.05M199.9 451.2h.05M154.5 468.7h.05M159.7 465.4h.05M175.5 453.8h.05M159.5 487.8h.05M203.6 476.1h.05M179.3 464.3h.05M153.4 487.3h.05M160.5 460.0h.05M188.7 459.1h.05M152.2 456.3h.05M201.9 457.9h.05M153.8 484.6h.05M150.4 454.6h.05M206.0 484.8h.05M170.2 455.1h.05M171.3 453.2h.05M167.0 459.0h.05M160.1 484.5h.05M178.7 461.7h.05M164.9 463.0h.05M172.7 467.1h.05M204.5 466.8h.05M157.0 465.2h.05M177.2 453.4h.05M160.6 487.3h.05M208.9 467.6h.05M204.4 477.5h.05M167.2 464.6h.05M169.7 456.7h.05M202.6 474.3h.05M196.8 458.2h.05M205.6 471.8h.05M163.1 454.2h.05M187.4 460.5h.05M152.8 483.9h.05M157.6 486.0h.05M155.0 464.2h.05M178.0 487.9h.05M201.0 468.2h.05M150.0 474.1h.05M169.4 453.0h.05M175.3 462.1h.05M170.8 485.5h.05M158.1 485.3h.05M190.0 453.6h.05M206.1 474.1h.05M199.4 467.1h.05M186.0 462.5h.05M160.7 467.0h.05M198.2 462.1h.05M155.6 486.9h.05M193.7 454.9h.05M155.1 483.1h.05M162.1 460.7h.05M175.0 463.9h.05M200.3 457.8h.05M155.2 459.4h.05M160.5 486.8h.05M207.1 463.6h.05M206.7 476.8h.05M158.1 469.9h.05M202.1 458.3h.05M181.8 443.2h.05M203.8 467.8h.05M196.0 461.8h.05M198.4 449.1h.05M180.2 455.2h.05M162.6 486.1h.05M203.4 474.3h.05M166.0 488.2h.05M153.1 458.9h.05M179.7 440.2h.05M205.0 455.0h.05M172.5 463.5h.05M189.2 452.1h.05M180.7 453.3h.05M154.5 487.5h.05M198.0 488.0h.05M148.9 483.5h.05M163.0 468.1h.05M154.5 469.3h.05M205.6 480.3h.05M168.7 464.9h.05M173.4 457.1h.05M190.7 456.4h.05M153.9 461.8h.05M202.7 457.7h.05M169.0 462.7h.05M184.5 488.1h.05M187.7 463.4h.05M207.8 463.8h.05M165.5 484.9h.05M208.0 455.0h.05M203.5 463.4h.05M184.5 463.8h.05M173.3 455.1h.05M204.5 458.8h.05M177.3 461.0h.05M171.5 488.2h.05M157.3 465.1h.05M165.1 454.9h.05M164.0 485.7h.05M150.8 471.3h.05M158.5 488.0h.05M148.6 472.5h.05M149.8 465.5h.05M161.1 463.8h.05M204.9 453.2h.05M163.0 459.5h.05M202.4 463.5h.05M199.3 455.6h.05M209.7 452.9h.05M152.8 457.8h.05M196.5 458.1h.05M160.1 466.6h.05M182.0 458.3h.05M170.1 460.6h.05M181.5 459.5h.05M170.1 459.3h.05M201.1 451.9h.05M198.7 466.4h.05M176.3 487.1h.05M177.5 454.7h.05M176.6 458.4h.05M175.8 487.6h.05M191.7 461.9h.05M148.9 464.3h.05M201.3 487.5h.05M167.0 452.1h.05M174.8 464.4h.05M174.0 461.3h.05M196.6 461.9h.05M166.7 460.4h.05M172.2 460.9h.05M170.0 467.2h.05M178.5 463.0h.05M186.1 458.4h.05M162.2 452.5h.05M156.5 484.9h.05M155.0 464.7h.05M203.4 467.1h.05M164.1 488.1h.05M202.1 474.1h.05M181.6 456.8h.05M204.5 453.4h.05M150.4 488.2h.05M189.8 462.7h.05M149.9 468.5h.05M193.1 459.8h.05M171.0 462.8h.05" stroke="#888" stroke-width="0.72" stroke-linecap="round" fill="none"/>
<rect x="146.80" y="409.00" width="79.60" height="80.80" fill="none" stroke="#000" stroke-width="1.4"/>
<path d="M144.3 485.1h2.5M144.3 482.4h2.5M144.3 480.5h2.5M144.3 479.0h2.5M144.3 477.8h2.5M144.3 476.7h2.5M144.3 475.8h2.5M144.3 475.1h2.5M143.2 474.3h3.6M144.3 469.7h2.5M144.3 467.0h2.5M144.3 465.0h2.5M144.3 463.6h2.5M144.3 462.3h2.5M144.3 461.3h2.5M144.3 460.4h2.5M144.3 459.6h2.5M143.2 458.9h3.6M144.3 454.2h2.5M144.3 451.5h2.5M144.3 449.6h2.5M144.3 448.1h2.5M144.3 446.9h2.5M144.3 445.8h2.5M144.3 444.9h2.5M144.3 444.2h2.5M143.2 443.4h3.6M144.3 438.8h2.5M144.3 436.1h2.5M144.3 434.1h2.5M144.3 432.7h2.5M144.3 431.4h2.5M144.3 430.4h2.5M144.3 429.5h2.5M144.3 428.7h2.5M143.2 428.0h3.6M144.3 423.3h2.5M144.3 420.6h2.5M144.3 418.7h2.5M144.3 417.2h2.5M144.3 416.0h2.5M144.3 414.9h2.5M144.3 414.0h2.5M144.3 413.3h2.5M143.2 412.5h3.6M148.8 489.8v3.4M153.5 489.8v2.3M156.2 489.8v2.3M158.1 489.8v2.3M159.6 489.8v2.3M160.8 489.8v2.3M161.9 489.8v2.3M162.8 489.8v2.3M163.5 489.8v2.3M164.2 489.8v3.4M168.9 489.8v2.3M171.6 489.8v2.3M173.6 489.8v2.3M175.0 489.8v2.3M176.3 489.8v2.3M177.3 489.8v2.3M178.2 489.8v2.3M179.0 489.8v2.3M179.7 489.8v3.4M184.4 489.8v2.3M187.1 489.8v2.3M189.0 489.8v2.3M190.5 489.8v2.3M191.7 489.8v2.3M192.8 489.8v2.3M193.7 489.8v2.3M194.4 489.8v2.3M195.2 489.8v3.4M199.8 489.8v2.3M202.5 489.8v2.3M204.5 489.8v2.3M205.9 489.8v2.3M207.2 489.8v2.3M208.2 489.8v2.3M209.1 489.8v2.3M209.9 489.8v2.3M210.6 489.8v3.4M215.3 489.8v2.3M218.0 489.8v2.3M219.9 489.8v2.3M221.4 489.8v2.3M222.6 489.8v2.3M223.7 489.8v2.3M224.6 489.8v2.3M225.3 489.8v2.3" stroke="#000" stroke-width="0.7" fill="none"/>
<path d="M148.80 442.00L183.60 442.00L182.20 451.50L165.40 460.60L148.80 460.60Z" fill="none" stroke="#000" stroke-width="1.1" stroke-linejoin="miter"/>
<path d="M167.40 470.70L190.70 458.60L196.70 458.60L198.10 485.90L167.40 483.20Z" fill="none" stroke="#000" stroke-width="1.1" stroke-linejoin="miter"/>
<path d="M148.80 470.70L167.80 470.70L167.80 483.80L148.80 483.80Z" fill="none" stroke="#000" stroke-width="1.1" stroke-linejoin="miter"/>
<text x="153.50" y="431.90" font-size="7.2" fill="#111" text-anchor="start" stroke="#111" stroke-width="0.18" >Eos</text>
<text x="153.30" y="439.00" font-size="7.2" fill="#111" text-anchor="start" stroke="#111" stroke-width="0.18" >1.48</text>
<path d="M149.2 474.7h8.6v6.6h5.4v6.8h-14z" fill="#fff" fill-opacity="0.85"/>
<text x="149.60" y="480.80" font-size="7.2" fill="#111" text-anchor="start" stroke="#111" stroke-width="0.18" >Mo</text>
<text x="149.60" y="487.70" font-size="7.2" fill="#111" text-anchor="start" stroke="#111" stroke-width="0.18" >7.82</text>
<text x="200.80" y="476.80" font-size="7.2" fill="#111" text-anchor="start" stroke="#111" stroke-width="0.18" >PMN</text>
<text x="200.80" y="484.00" font-size="7.2" fill="#111" text-anchor="start" stroke="#111" stroke-width="0.18" >87.1</text>
<text x="23.00" y="334.20" font-size="9.2" fill="#111" text-anchor="middle" stroke="#111" stroke-width="0.45" textLength="19.4" lengthAdjust="spacingAndGlyphs" transform="rotate(-90 23.00 334.20)" >FSC-A</text>
<text x="38.10" y="390.30" font-size="9.2" fill="#111" text-anchor="start" stroke="#111" stroke-width="0.45" textLength="18.6" lengthAdjust="spacingAndGlyphs" >CD11b</text>
<text x="66.80" y="390.30" font-size="9.2" fill="#111" text-anchor="start" stroke="#111" stroke-width="0.45" textLength="39.6" lengthAdjust="spacingAndGlyphs" >PerCP-Cy5.5</text>
<text x="136.90" y="353.90" font-size="8.99" fill="#111" text-anchor="start" stroke="#111" stroke-width="0.45" textLength="19.1" lengthAdjust="spacingAndGlyphs" transform="rotate(-90 136.90 353.90)" >Siglec</text>
<text x="136.90" y="332.40" font-size="8.99" fill="#111" text-anchor="start" stroke="#111" stroke-width="0.45" textLength="3.6" lengthAdjust="spacingAndGlyphs" transform="rotate(-90 136.90 332.40)" >F</text>
<text x="136.90" y="323.60" font-size="8.99" fill="#111" text-anchor="start" stroke="#111" stroke-width="0.45" textLength="7.8" lengthAdjust="spacingAndGlyphs" transform="rotate(-90 136.90 323.60)" >PE</text>
<text x="163.00" y="390.20" font-size="9.2" fill="#111" text-anchor="start" stroke="#111" stroke-width="0.45" textLength="14.9" lengthAdjust="spacingAndGlyphs" >Ly6G</text>
<text x="184.20" y="390.20" font-size="9.2" fill="#111" text-anchor="start" stroke="#111" stroke-width="0.45" textLength="22.6" lengthAdjust="spacingAndGlyphs" >PE-Cy7</text>
<text x="23.00" y="448.00" font-size="9.2" fill="#111" text-anchor="middle" stroke="#111" stroke-width="0.45" textLength="19.4" lengthAdjust="spacingAndGlyphs" transform="rotate(-90 23.00 448.00)" >FSC-A</text>
<text x="38.10" y="504.10" font-size="9.2" fill="#111" text-anchor="start" stroke="#111" stroke-width="0.45" textLength="18.6" lengthAdjust="spacingAndGlyphs" >CD11b</text>
<text x="66.80" y="504.10" font-size="9.2" fill="#111" text-anchor="start" stroke="#111" stroke-width="0.45" textLength="39.6" lengthAdjust="spacingAndGlyphs" >PerCP-Cy5.5</text>
<text x="136.90" y="467.70" font-size="8.99" fill="#111" text-anchor="start" stroke="#111" stroke-width="0.45" textLength="19.1" lengthAdjust="spacingAndGlyphs" transform="rotate(-90 136.90 467.70)" >Siglec</text>
<text x="136.90" y="446.20" font-size="8.99" fill="#111" text-anchor="start" stroke="#111" stroke-width="0.45" textLength="3.6" lengthAdjust="spacingAndGlyphs" transform="rotate(-90 136.90 446.20)" >F</text>
<text x="136.90" y="437.40" font-size="8.99" fill="#111" text-anchor="start" stroke="#111" stroke-width="0.45" textLength="7.8" lengthAdjust="spacingAndGlyphs" transform="rotate(-90 136.90 437.40)" >PE</text>
<text x="163.00" y="504.00" font-size="9.2" fill="#111" text-anchor="start" stroke="#111" stroke-width="0.45" textLength="14.9" lengthAdjust="spacingAndGlyphs" >Ly6G</text>
<text x="184.20" y="504.00" font-size="9.2" fill="#111" text-anchor="start" stroke="#111" stroke-width="0.45" textLength="22.6" lengthAdjust="spacingAndGlyphs" >PE-Cy7</text>
<rect x="0" y="0" width="520" height="514" fill="none" stroke="#000" stroke-width="2.4"/>
</svg>
</body></html>
